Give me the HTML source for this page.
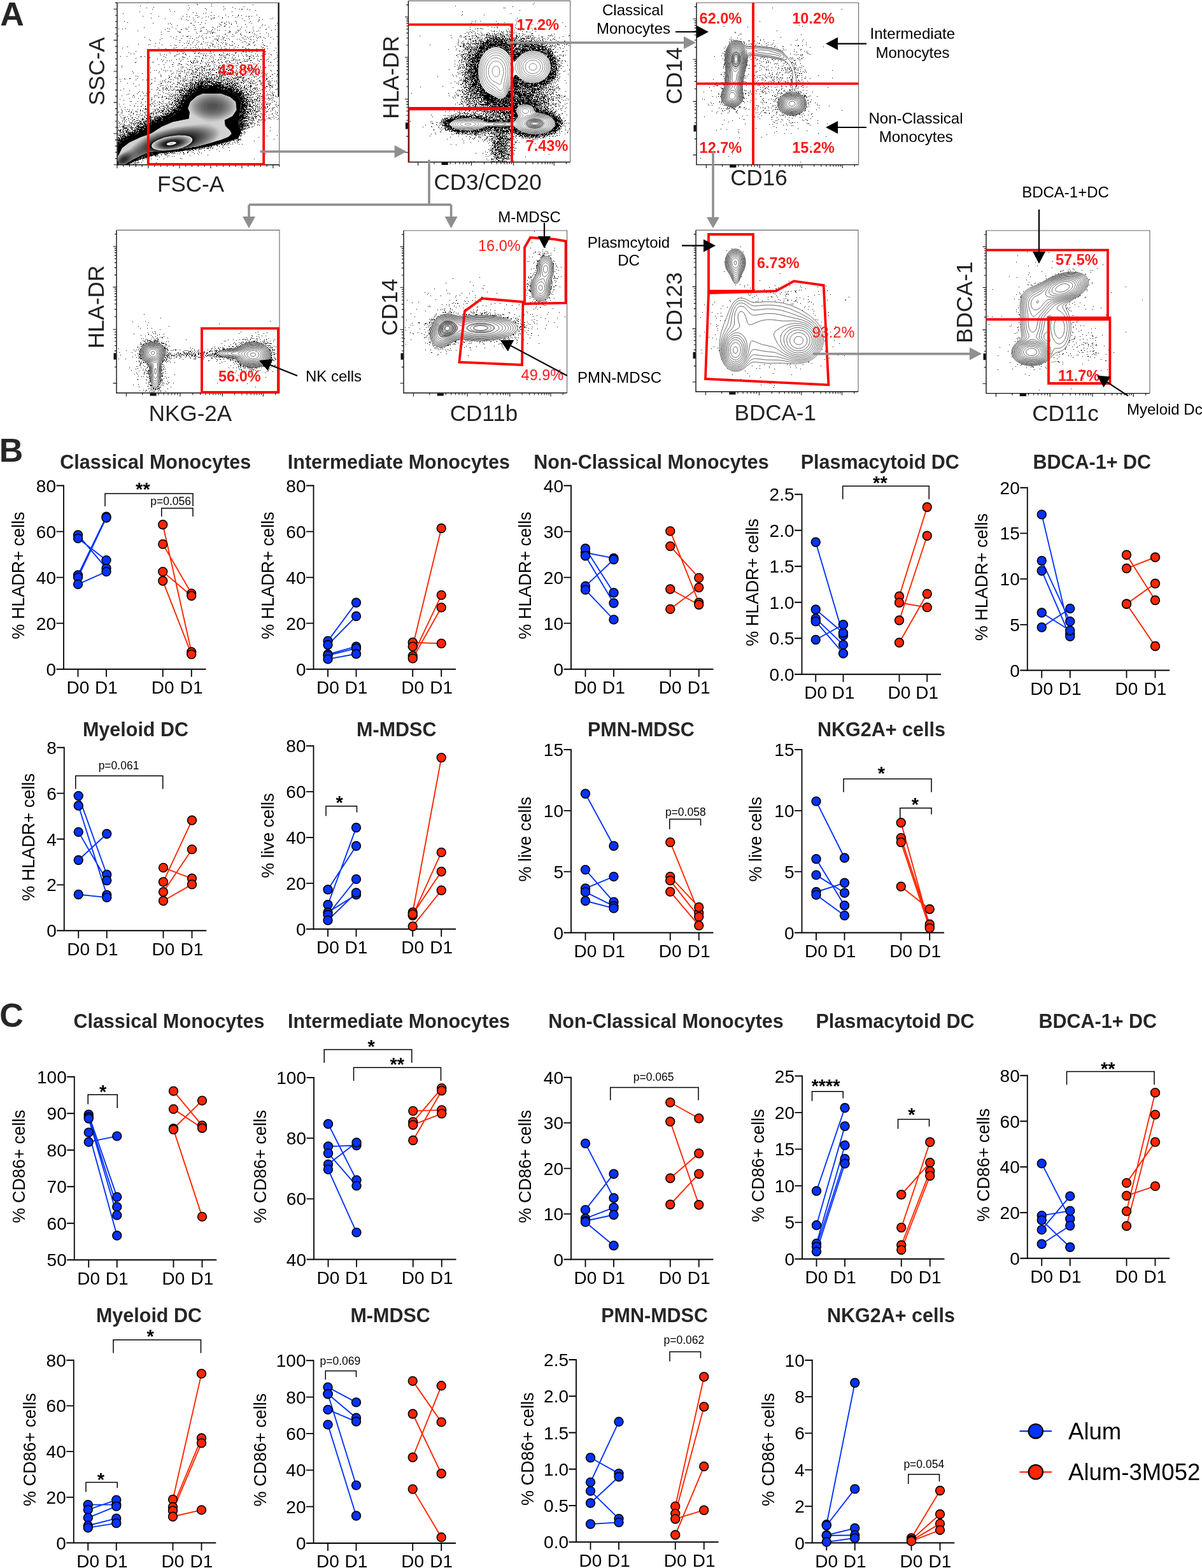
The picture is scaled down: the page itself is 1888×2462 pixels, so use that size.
<!DOCTYPE html><html><head><meta charset="utf-8"><title>Figure</title><style>html,body{margin:0;padding:0;background:#fff}svg{display:block}
.tt{font:bold 30.5px 'Liberation Sans', Arial, Helvetica, sans-serif;fill:#262626;text-anchor:middle}
.tl{font:28px 'Liberation Sans', Arial, Helvetica, sans-serif;fill:#000;text-anchor:end}
.xl{font:28px 'Liberation Sans', Arial, Helvetica, sans-serif;fill:#000;text-anchor:middle}
.yl{font:27px 'Liberation Sans', Arial, Helvetica, sans-serif;fill:#000;text-anchor:middle}
.pv{font:17.5px 'Liberation Sans', Arial, Helvetica, sans-serif;fill:#000;text-anchor:middle}
.st{font:bold 29px 'Liberation Sans', Arial, Helvetica, sans-serif;fill:#000;text-anchor:middle}
.ax{stroke:#000;stroke-width:1.8;fill:none}
.br{stroke:#000;stroke-width:1.5;fill:none}

.fl{font:35px 'Liberation Sans', Arial, Helvetica, sans-serif;fill:#222}
.flv{font:35px 'Liberation Sans', Arial, Helvetica, sans-serif;fill:#222;text-anchor:middle}
.pc{font:bold 23.5px 'Liberation Sans', Arial, Helvetica, sans-serif;fill:#FF1A1A}
.pcn{font:23.5px 'Liberation Sans', Arial, Helvetica, sans-serif;fill:#FF1A1A}
.an{font:24px 'Liberation Sans', Arial, Helvetica, sans-serif;fill:#000}
.anm{font:24px 'Liberation Sans', Arial, Helvetica, sans-serif;fill:#000;text-anchor:middle}
.box{fill:none;stroke:#111;stroke-width:1.4}
.box2{fill:none;stroke:#666;stroke-width:1.1}
.gate{fill:none;stroke:#FF0000;stroke-width:3.8}
.garr{stroke:#8f8f8f;stroke-width:3.6;fill:none}
.barr{stroke:#000;stroke-width:2.2;fill:none}
.tk{stroke:#111;stroke-width:1.1;fill:none}
</style></head><body>
<svg width="1888" height="2462" viewBox="0 0 1888 2462">
<rect width="1888" height="2462" fill="#fff"/>
<text x="0.3" y="40" style="font:bold 52px 'Liberation Sans', Arial, Helvetica, sans-serif;fill:#262626">A</text>
<text x="-1.3" y="725" style="font:bold 52px 'Liberation Sans', Arial, Helvetica, sans-serif;fill:#262626">B</text>
<text x="-0.8" y="1612.3" style="font:bold 52px 'Liberation Sans', Arial, Helvetica, sans-serif;fill:#262626">C</text>
<path d="M309 6.5h1M332 6.5h1M310 7.5h1M397 7.5h1M296 8.5h1M220 9.5h1M332 9.5h1M351 10.5h1M383 10.5h1M241 11.5h1M365 11.5h1M230 12.5h1M297 12.5h1M322 13.5h1M353 13.5h1M369 13.5h1M239 14.5h1M266 14.5h1M376 14.5h1M379 14.5h2M388 14.5h1M295 15.5h1M324 15.5h1M351 15.5h1M392 15.5h1M401 16.5h1M267 17.5h1M219 18.5h1M274 18.5h1M364 18.5h1M303 19.5h1M332 19.5h1M308 20.5h1M323 20.5h1M193 21.5h1M237 21.5h1M319 21.5h1M293 22.5h1M354 23.5h1M374 23.5h1M403 23.5h1M307 24.5h1M309 24.5h1M331 24.5h1M336 24.5h1M365 24.5h1M374 24.5h1M379 24.5h1M224 25.5h1M249 25.5h1M287 25.5h1M343 25.5h1M386 25.5h1M391 25.5h1M395 25.5h1M293 26.5h1M297 26.5h1M312 26.5h1M323 26.5h1M327 26.5h1M358 26.5h1M373 26.5h1M390 26.5h1M310 27.5h1M336 27.5h1M349 27.5h1M370 27.5h1M407 27.5h1M237 28.5h1M284 28.5h1M303 28.5h1M317 28.5h1M334 28.5h1M336 28.5h1M349 28.5h1M428 28.5h1M259 29.5h1M331 29.5h1M380 29.5h1M391 29.5h1M425 29.5h1M285 30.5h1M293 30.5h1M332 30.5h1M412 30.5h1M304 31.5h1M406 31.5h2M295 32.5h1M323 32.5h1M384 32.5h1M195 33.5h1M369 33.5h1M393 33.5h1M405 33.5h1M306 34.5h1M348 34.5h1M355 34.5h1M359 34.5h1M371 34.5h1M200 35.5h1M311 35.5h1M316 35.5h1M348 35.5h1M391 35.5h1M240 36.5h1M267 36.5h1M299 36.5h2M322 36.5h1M352 36.5h2M360 36.5h1M371 36.5h1M395 36.5h1M435 36.5h1M264 37.5h1M344 37.5h1M363 37.5h1M269 38.5h1M314 38.5h1M346 38.5h1M355 38.5h1M363 38.5h1M385 38.5h1M412 38.5h1M303 39.5h1M347 39.5h1M353 39.5h1M416 39.5h1M436 39.5h1M278 40.5h1M305 40.5h1M411 40.5h1M432 40.5h1M344 41.5h1M352 41.5h2M373 41.5h1M270 42.5h1M296 42.5h1M319 42.5h1M333 42.5h1M341 42.5h1M360 42.5h1M379 42.5h1M387 42.5h1M397 42.5h1M422 42.5h1M226 43.5h1M306 43.5h1M317 43.5h1M320 43.5h1M335 43.5h1M408 43.5h1M197 44.5h1M263 44.5h1M291 44.5h1M293 44.5h1M186 45.5h1M192 45.5h1M266 45.5h1M276 45.5h1M315 45.5h1M337 45.5h1M377 45.5h1M397 45.5h1M418 45.5h1M259 46.5h1M284 46.5h2M292 46.5h1M294 46.5h1M305 46.5h1M307 46.5h1M324 46.5h1M333 46.5h1M417 46.5h1M432 46.5h1M341 47.5h1M344 47.5h1M354 47.5h1M373 47.5h2M376 47.5h1M385 47.5h1M426 47.5h1M216 48.5h1M315 48.5h2M326 48.5h1M332 48.5h1M360 48.5h1M398 48.5h1M406 48.5h1M263 49.5h1M265 49.5h1M279 49.5h1M296 49.5h1M314 49.5h1M329 49.5h1M361 49.5h1M374 49.5h1M403 49.5h1M253 50.5h1M281 50.5h3M308 50.5h1M326 50.5h1M331 50.5h1M335 50.5h1M360 50.5h2M370 50.5h1M372 50.5h1M387 50.5h1M391 50.5h2M333 51.5h2M337 51.5h1M358 51.5h1M391 51.5h1M396 51.5h1M418 51.5h1M309 52.5h1M320 52.5h1M323 52.5h1M325 52.5h1M330 52.5h1M333 52.5h1M370 52.5h1M399 52.5h1M408 52.5h1M354 53.5h1M377 53.5h2M421 53.5h1M253 54.5h1M353 54.5h1M365 54.5h1M400 54.5h1M317 55.5h1M379 55.5h1M403 55.5h1M185 56.5h1M287 56.5h1M295 56.5h1M313 56.5h1M340 56.5h1M342 56.5h1M344 56.5h1M356 56.5h1M367 56.5h1M384 56.5h1M421 56.5h1M268 57.5h1M277 57.5h1M293 57.5h2M299 57.5h1M316 57.5h1M334 57.5h1M349 57.5h1M364 57.5h1M385 57.5h1M394 57.5h1M398 57.5h1M408 57.5h1M435 57.5h1M227 58.5h1M311 58.5h1M323 58.5h1M329 58.5h1M352 58.5h1M388 58.5h1M392 58.5h1M402 58.5h1M405 58.5h1M409 58.5h1M414 58.5h1M425 58.5h1M272 59.5h1M308 59.5h1M318 59.5h1M343 59.5h1M350 59.5h1M380 59.5h1M382 59.5h1M254 60.5h1M285 60.5h1M298 60.5h1M302 60.5h1M324 60.5h1M339 60.5h1M350 60.5h1M356 60.5h1M359 60.5h1M390 60.5h1M404 60.5h1M416 60.5h1M276 61.5h1M319 61.5h1M337 61.5h1M342 61.5h1M372 61.5h1M376 61.5h1M383 61.5h1M386 61.5h1M393 61.5h1M429 61.5h1M234 62.5h1M251 62.5h1M305 62.5h1M339 62.5h1M341 62.5h1M347 62.5h1M350 62.5h1M360 62.5h1M394 62.5h1M398 62.5h1M236 63.5h1M281 63.5h1M283 63.5h1M309 63.5h1M341 63.5h2M353 63.5h2M378 63.5h1M403 63.5h1M412 63.5h1M294 64.5h1M297 64.5h1M334 64.5h1M303 65.5h1M312 65.5h1M319 65.5h1M343 65.5h1M364 65.5h2M383 65.5h1M385 65.5h1M392 65.5h1M399 65.5h1M282 66.5h1M310 66.5h1M326 66.5h1M347 66.5h1M350 66.5h1M380 66.5h1M398 66.5h1M412 66.5h1M436 66.5h1M250 67.5h1M293 67.5h1M296 67.5h1M302 67.5h1M323 67.5h1M331 67.5h1M340 67.5h1M354 67.5h1M387 67.5h1M397 67.5h1M424 67.5h1M244 68.5h1M289 68.5h1M296 68.5h1M316 68.5h1M333 68.5h1M349 68.5h1M356 68.5h1M368 68.5h1M390 68.5h1M217 69.5h1M235 69.5h1M308 69.5h1M315 69.5h1M317 69.5h1M335 69.5h1M343 69.5h1M354 69.5h1M391 69.5h2M413 69.5h1M436 69.5h1M233 70.5h1M254 70.5h1M274 70.5h1M299 70.5h1M325 70.5h1M333 70.5h2M355 70.5h1M360 70.5h1M365 70.5h1M390 70.5h1M400 70.5h1M268 71.5h1M276 71.5h1M286 71.5h1M294 71.5h1M306 71.5h1M329 71.5h1M346 71.5h1M362 71.5h1M364 71.5h1M374 71.5h1M388 71.5h1M399 71.5h1M414 71.5h2M243 72.5h1M330 72.5h1M334 72.5h1M337 72.5h1M342 72.5h1M419 72.5h1M200 73.5h1M311 73.5h1M352 73.5h1M369 73.5h1M381 73.5h1M410 73.5h1M277 74.5h1M292 74.5h1M303 74.5h1M307 74.5h1M327 74.5h1M337 74.5h1M347 74.5h1M373 74.5h1M381 74.5h1M413 74.5h1M192 75.5h1M249 75.5h1M272 75.5h1M274 75.5h1M289 75.5h1M299 75.5h1M318 75.5h1M328 75.5h1M343 75.5h1M360 75.5h1M367 75.5h1M385 75.5h1M412 75.5h1M433 75.5h1M437 75.5h1M260 76.5h1M309 76.5h1M313 76.5h1M322 76.5h1M347 76.5h1M353 76.5h1M355 76.5h1M386 76.5h1M390 76.5h1M403 76.5h1M415 76.5h1M420 76.5h1M266 77.5h1M291 77.5h1M299 77.5h1M305 77.5h1M311 77.5h1M317 77.5h1M334 77.5h1M345 77.5h1M355 77.5h1M359 77.5h1M361 77.5h1M376 77.5h1M387 77.5h1M397 77.5h1M406 77.5h1M299 78.5h1M321 78.5h1M327 78.5h1M336 78.5h1M364 78.5h1M371 78.5h1M375 78.5h1M381 78.5h1M398 78.5h1M236 79.5h1M277 79.5h1M294 79.5h1M300 79.5h1M317 79.5h1M330 79.5h1M336 79.5h1M346 79.5h2M369 79.5h2M407 79.5h1M430 79.5h1M213 80.5h1M331 80.5h1M336 80.5h1M361 80.5h1M365 80.5h1M373 80.5h1M376 80.5h1M386 80.5h1M390 80.5h1M404 80.5h1M413 80.5h1M278 81.5h1M284 81.5h1M287 81.5h1M303 81.5h1M306 81.5h1M330 81.5h1M381 81.5h2M386 81.5h1M391 81.5h1M396 81.5h1M403 81.5h1M413 81.5h1M416 81.5h2M202 82.5h1M266 82.5h1M289 82.5h1M313 82.5h1M335 82.5h1M350 82.5h1M369 82.5h1M371 82.5h1M386 82.5h1M394 82.5h1M434 82.5h1M267 83.5h1M287 83.5h1M305 83.5h2M311 83.5h2M329 83.5h1M331 83.5h1M351 83.5h1M369 83.5h2M379 83.5h1M205 84.5h1M210 84.5h1M251 84.5h1M281 84.5h1M287 84.5h1M291 84.5h1M315 84.5h1M317 84.5h1M320 84.5h1M324 84.5h1M357 84.5h1M360 84.5h1M401 84.5h1M412 84.5h1M417 84.5h1M422 84.5h1M258 85.5h1M277 85.5h1M279 85.5h1M291 85.5h1M336 85.5h1M344 85.5h2M355 85.5h1M357 85.5h1M364 85.5h1M387 85.5h1M404 85.5h1M416 85.5h1M425 85.5h1M252 86.5h1M261 86.5h1M292 86.5h1M319 86.5h1M322 86.5h1M344 86.5h1M347 86.5h2M350 86.5h1M356 86.5h1M359 86.5h1M367 86.5h1M374 86.5h1M380 86.5h1M386 86.5h1M394 86.5h1M426 86.5h1M435 86.5h1M274 87.5h1M276 87.5h1M319 87.5h1M323 87.5h1M326 87.5h1M332 87.5h1M337 87.5h1M346 87.5h1M353 87.5h1M360 87.5h1M367 87.5h1M388 87.5h1M397 87.5h1M404 87.5h1M411 87.5h2M189 88.5h1M199 88.5h1M221 88.5h1M227 88.5h1M257 88.5h1M274 88.5h1M286 88.5h1M297 88.5h1M307 88.5h1M309 88.5h1M312 88.5h1M323 88.5h1M330 88.5h1M351 88.5h1M374 88.5h1M382 88.5h1M387 88.5h1M391 88.5h1M393 88.5h1M398 88.5h1M402 88.5h1M405 88.5h1M412 88.5h1M221 89.5h1M288 89.5h1M313 89.5h1M334 89.5h1M348 89.5h1M353 89.5h1M365 89.5h1M391 89.5h2M422 89.5h1M435 89.5h1M234 90.5h2M260 90.5h1M286 90.5h1M288 90.5h1M290 90.5h1M318 90.5h1M331 90.5h1M345 90.5h1M352 90.5h1M354 90.5h1M369 90.5h1M395 90.5h1M213 91.5h1M306 91.5h1M318 91.5h1M323 91.5h1M335 91.5h1M354 91.5h1M358 91.5h1M364 91.5h1M382 91.5h1M391 91.5h1M399 91.5h1M433 91.5h1M247 92.5h1M281 92.5h1M294 92.5h1M306 92.5h1M318 92.5h1M329 92.5h1M347 92.5h1M366 92.5h1M368 92.5h1M391 92.5h2M398 92.5h1M404 92.5h1M421 92.5h1M253 93.5h1M277 93.5h1M287 93.5h1M338 93.5h1M343 93.5h1M346 93.5h1M352 93.5h1M367 93.5h1M370 93.5h1M376 93.5h1M384 93.5h1M389 93.5h1M409 93.5h2M419 93.5h1M430 93.5h1M256 94.5h1M269 94.5h1M284 94.5h1M304 94.5h1M309 94.5h1M316 94.5h1M327 94.5h1M335 94.5h1M343 94.5h1M358 94.5h1M363 94.5h1M366 94.5h1M372 94.5h1M374 94.5h1M376 94.5h1M387 94.5h1M389 94.5h1M394 94.5h1M404 94.5h1M262 95.5h1M266 95.5h1M299 95.5h1M305 95.5h1M316 95.5h1M341 95.5h1M356 95.5h1M365 95.5h1M370 95.5h1M383 95.5h1M393 95.5h2M406 95.5h1M418 95.5h1M255 96.5h1M283 96.5h1M295 96.5h1M299 96.5h1M303 96.5h1M309 96.5h1M311 96.5h1M316 96.5h1M332 96.5h2M335 96.5h1M347 96.5h1M354 96.5h1M356 96.5h1M360 96.5h1M381 96.5h1M384 96.5h2M387 96.5h2M407 96.5h1M421 96.5h1M435 96.5h1M213 97.5h1M239 97.5h1M241 97.5h1M300 97.5h1M303 97.5h1M309 97.5h1M318 97.5h1M325 97.5h1M327 97.5h1M336 97.5h1M354 97.5h1M360 97.5h1M370 97.5h1M373 97.5h1M376 97.5h1M378 97.5h1M415 97.5h1M425 97.5h1M212 98.5h1M231 98.5h1M260 98.5h1M272 98.5h1M300 98.5h2M304 98.5h1M307 98.5h1M310 98.5h1M322 98.5h1M329 98.5h1M333 98.5h1M337 98.5h1M343 98.5h1M348 98.5h2M355 98.5h1M361 98.5h1M377 98.5h2M393 98.5h1M396 98.5h1M425 98.5h1M281 99.5h1M302 99.5h1M304 99.5h1M314 99.5h2M344 99.5h1M364 99.5h1M367 99.5h1M372 99.5h2M406 99.5h1M280 100.5h1M282 100.5h1M292 100.5h1M323 100.5h2M327 100.5h1M335 100.5h1M356 100.5h1M358 100.5h1M374 100.5h1M379 100.5h1M398 100.5h1M400 100.5h1M412 100.5h1M249 101.5h1M257 101.5h1M270 101.5h2M284 101.5h2M294 101.5h1M299 101.5h1M327 101.5h1M337 101.5h1M360 101.5h2M389 101.5h1M279 102.5h1M296 102.5h1M309 102.5h1M312 102.5h1M345 102.5h1M359 102.5h1M371 102.5h1M373 102.5h1M378 102.5h1M380 102.5h1M393 102.5h1M415 102.5h1M422 102.5h1M425 102.5h1M435 102.5h1M191 103.5h1M301 103.5h1M306 103.5h1M322 103.5h1M325 103.5h2M328 103.5h1M330 103.5h1M336 103.5h1M340 103.5h1M345 103.5h1M348 103.5h1M355 103.5h1M357 103.5h1M359 103.5h1M365 103.5h1M367 103.5h1M370 103.5h1M429 103.5h1M271 104.5h1M286 104.5h1M305 104.5h1M316 104.5h2M321 104.5h1M328 104.5h1M343 104.5h1M348 104.5h1M357 104.5h1M364 104.5h1M385 104.5h1M409 104.5h1M191 105.5h1M258 105.5h1M266 105.5h1M284 105.5h1M288 105.5h1M299 105.5h1M313 105.5h1M315 105.5h1M317 105.5h1M320 105.5h1M323 105.5h1M336 105.5h1M343 105.5h2M359 105.5h1M361 105.5h1M371 105.5h1M383 105.5h1M386 105.5h1M394 105.5h1M405 105.5h1M417 105.5h1M236 106.5h1M286 106.5h1M292 106.5h1M302 106.5h1M310 106.5h1M317 106.5h1M343 106.5h1M345 106.5h2M349 106.5h1M351 106.5h1M360 106.5h1M366 106.5h1M377 106.5h3M382 106.5h1M385 106.5h2M392 106.5h1M400 106.5h1M409 106.5h1M416 106.5h1M437 106.5h1M307 107.5h1M311 107.5h1M313 107.5h1M319 107.5h3M335 107.5h1M338 107.5h1M343 107.5h1M345 107.5h2M348 107.5h1M358 107.5h1M364 107.5h1M366 107.5h1M372 107.5h1M378 107.5h1M383 107.5h1M388 107.5h1M392 107.5h1M397 107.5h1M405 107.5h1M253 108.5h1M280 108.5h1M284 108.5h1M294 108.5h1M300 108.5h1M306 108.5h1M308 108.5h1M311 108.5h1M316 108.5h1M321 108.5h1M328 108.5h3M333 108.5h2M342 108.5h1M350 108.5h2M355 108.5h3M380 108.5h1M382 108.5h1M388 108.5h1M392 108.5h1M397 108.5h1M402 108.5h1M296 109.5h3M307 109.5h1M309 109.5h1M317 109.5h1M324 109.5h1M326 109.5h1M329 109.5h1M334 109.5h1M340 109.5h1M349 109.5h3M355 109.5h1M360 109.5h1M363 109.5h1M371 109.5h1M376 109.5h1M378 109.5h1M398 109.5h1M400 109.5h1M414 109.5h1M242 110.5h1M245 110.5h1M257 110.5h1M260 110.5h1M263 110.5h1M268 110.5h1M289 110.5h2M301 110.5h2M309 110.5h2M313 110.5h1M317 110.5h1M321 110.5h1M324 110.5h1M328 110.5h1M332 110.5h1M334 110.5h1M336 110.5h2M358 110.5h2M365 110.5h1M389 110.5h2M410 110.5h1M413 110.5h1M424 110.5h1M435 110.5h1M277 111.5h1M279 111.5h1M283 111.5h1M285 111.5h1M303 111.5h1M316 111.5h1M318 111.5h1M321 111.5h1M346 111.5h1M350 111.5h1M354 111.5h1M358 111.5h1M362 111.5h1M370 111.5h2M384 111.5h1M391 111.5h1M393 111.5h1M398 111.5h1M415 111.5h1M426 111.5h1M435 111.5h1M208 112.5h1M250 112.5h1M260 112.5h1M268 112.5h1M281 112.5h1M286 112.5h1M289 112.5h1M296 112.5h1M302 112.5h1M307 112.5h2M330 112.5h1M349 112.5h1M353 112.5h1M355 112.5h1M373 112.5h1M382 112.5h1M387 112.5h1M389 112.5h1M392 112.5h1M399 112.5h1M236 113.5h1M294 113.5h1M303 113.5h1M306 113.5h1M313 113.5h1M317 113.5h2M325 113.5h1M327 113.5h1M331 113.5h1M339 113.5h2M346 113.5h3M354 113.5h1M362 113.5h1M367 113.5h1M369 113.5h1M375 113.5h1M392 113.5h1M398 113.5h1M405 113.5h1M411 113.5h1M413 113.5h1M209 114.5h1M249 114.5h1M272 114.5h1M277 114.5h1M283 114.5h1M289 114.5h1M292 114.5h1M296 114.5h1M301 114.5h1M304 114.5h1M307 114.5h1M309 114.5h1M313 114.5h1M315 114.5h1M323 114.5h1M326 114.5h3M339 114.5h2M343 114.5h3M348 114.5h2M353 114.5h1M360 114.5h3M369 114.5h1M373 114.5h1M389 114.5h1M394 114.5h1M406 114.5h1M223 115.5h1M270 115.5h1M282 115.5h1M300 115.5h2M313 115.5h1M315 115.5h1M319 115.5h1M323 115.5h1M330 115.5h1M343 115.5h1M345 115.5h1M348 115.5h1M351 115.5h1M353 115.5h1M355 115.5h1M361 115.5h1M371 115.5h1M377 115.5h1M406 115.5h1M410 115.5h1M416 115.5h1M419 115.5h1M431 115.5h1M269 116.5h1M280 116.5h1M293 116.5h1M299 116.5h1M302 116.5h1M304 116.5h1M306 116.5h1M313 116.5h1M316 116.5h1M318 116.5h1M327 116.5h2M331 116.5h1M334 116.5h1M345 116.5h2M349 116.5h1M356 116.5h1M362 116.5h1M371 116.5h1M373 116.5h1M401 116.5h1M427 116.5h1M435 116.5h1M252 117.5h1M292 117.5h1M301 117.5h1M306 117.5h1M310 117.5h1M313 117.5h1M318 117.5h1M321 117.5h1M329 117.5h1M333 117.5h4M338 117.5h1M340 117.5h1M344 117.5h1M348 117.5h1M353 117.5h2M356 117.5h2M362 117.5h2M366 117.5h1M389 117.5h1M396 117.5h2M415 117.5h1M417 117.5h2M428 117.5h1M435 117.5h1M265 118.5h1M281 118.5h1M283 118.5h1M294 118.5h1M297 118.5h1M309 118.5h3M317 118.5h1M320 118.5h1M323 118.5h1M327 118.5h1M331 118.5h1M333 118.5h1M340 118.5h1M344 118.5h1M346 118.5h1M348 118.5h2M351 118.5h1M353 118.5h1M368 118.5h1M371 118.5h1M377 118.5h1M380 118.5h3M386 118.5h1M392 118.5h1M405 118.5h1M415 118.5h1M213 119.5h1M252 119.5h2M275 119.5h1M280 119.5h3M291 119.5h1M303 119.5h1M312 119.5h2M320 119.5h1M324 119.5h1M327 119.5h1M340 119.5h1M345 119.5h1M347 119.5h2M372 119.5h1M398 119.5h1M401 119.5h1M411 119.5h1M418 119.5h1M424 119.5h1M434 119.5h1M436 119.5h1M216 120.5h1M233 120.5h1M266 120.5h1M269 120.5h1M283 120.5h1M290 120.5h1M302 120.5h1M304 120.5h2M307 120.5h2M315 120.5h1M321 120.5h1M323 120.5h1M325 120.5h1M332 120.5h1M337 120.5h1M340 120.5h3M344 120.5h2M347 120.5h1M350 120.5h1M353 120.5h1M359 120.5h1M363 120.5h1M369 120.5h1M373 120.5h1M375 120.5h1M377 120.5h3M384 120.5h1M399 120.5h1M402 120.5h1M409 120.5h1M414 120.5h1M424 120.5h1M437 120.5h1M243 121.5h1M265 121.5h2M274 121.5h1M291 121.5h1M297 121.5h1M299 121.5h1M304 121.5h1M307 121.5h3M313 121.5h1M316 121.5h2M321 121.5h1M324 121.5h1M329 121.5h1M331 121.5h2M336 121.5h1M339 121.5h1M343 121.5h1M347 121.5h1M350 121.5h1M356 121.5h1M365 121.5h1M372 121.5h1M374 121.5h4M382 121.5h1M395 121.5h1M399 121.5h1M407 121.5h1M412 121.5h1M414 121.5h1M421 121.5h1M275 122.5h1M277 122.5h1M279 122.5h1M283 122.5h1M287 122.5h1M294 122.5h1M303 122.5h1M308 122.5h2M312 122.5h1M319 122.5h2M323 122.5h1M326 122.5h1M328 122.5h1M332 122.5h1M336 122.5h2M343 122.5h1M345 122.5h1M347 122.5h1M351 122.5h1M353 122.5h1M356 122.5h1M362 122.5h1M365 122.5h1M368 122.5h5M378 122.5h1M380 122.5h4M391 122.5h1M414 122.5h1M195 123.5h1M203 123.5h2M215 123.5h1M243 123.5h1M264 123.5h1M279 123.5h1M290 123.5h1M302 123.5h1M315 123.5h3M322 123.5h5M328 123.5h1M330 123.5h2M333 123.5h1M337 123.5h1M339 123.5h1M342 123.5h2M345 123.5h1M347 123.5h1M356 123.5h4M366 123.5h2M369 123.5h1M374 123.5h1M381 123.5h1M389 123.5h2M405 123.5h1M414 123.5h1M418 123.5h2M427 123.5h1M188 124.5h1M196 124.5h1M238 124.5h1M260 124.5h1M267 124.5h1M269 124.5h1M287 124.5h1M290 124.5h1M302 124.5h1M305 124.5h1M307 124.5h1M311 124.5h1M313 124.5h1M315 124.5h1M317 124.5h1M323 124.5h1M325 124.5h2M329 124.5h2M332 124.5h5M341 124.5h1M343 124.5h1M352 124.5h1M355 124.5h1M357 124.5h1M360 124.5h1M363 124.5h1M367 124.5h1M372 124.5h3M387 124.5h1M391 124.5h1M395 124.5h1M403 124.5h1M414 124.5h1M418 124.5h2M213 125.5h1M224 125.5h1M230 125.5h1M272 125.5h1M279 125.5h1M288 125.5h1M293 125.5h1M295 125.5h1M299 125.5h2M302 125.5h2M311 125.5h1M314 125.5h1M317 125.5h2M324 125.5h2M327 125.5h2M339 125.5h3M344 125.5h1M346 125.5h3M350 125.5h4M355 125.5h1M359 125.5h1M361 125.5h1M363 125.5h2M370 125.5h1M372 125.5h2M380 125.5h3M384 125.5h1M386 125.5h1M413 125.5h1M255 126.5h1M258 126.5h1M283 126.5h1M286 126.5h1M288 126.5h1M291 126.5h2M298 126.5h1M302 126.5h1M306 126.5h1M308 126.5h2M311 126.5h2M314 126.5h2M317 126.5h1M320 126.5h3M324 126.5h2M329 126.5h1M332 126.5h4M342 126.5h2M347 126.5h1M350 126.5h1M355 126.5h1M357 126.5h1M361 126.5h1M366 126.5h1M368 126.5h1M376 126.5h1M380 126.5h1M386 126.5h1M394 126.5h1M398 126.5h1M407 126.5h2M417 126.5h1M423 126.5h1M427 126.5h1M434 126.5h1M189 127.5h1M243 127.5h1M259 127.5h1M264 127.5h1M283 127.5h1M289 127.5h1M301 127.5h1M305 127.5h1M313 127.5h2M316 127.5h1M318 127.5h2M321 127.5h2M326 127.5h4M331 127.5h2M335 127.5h3M340 127.5h1M347 127.5h1M349 127.5h2M352 127.5h1M357 127.5h1M359 127.5h3M364 127.5h1M368 127.5h2M374 127.5h1M382 127.5h2M385 127.5h1M390 127.5h1M393 127.5h1M397 127.5h1M399 127.5h1M405 127.5h1M408 127.5h1M420 127.5h2M431 127.5h1M251 128.5h1M255 128.5h1M265 128.5h1M268 128.5h1M279 128.5h1M287 128.5h1M289 128.5h1M295 128.5h1M297 128.5h1M299 128.5h1M306 128.5h2M311 128.5h3M315 128.5h6M322 128.5h10M335 128.5h1M337 128.5h5M343 128.5h1M346 128.5h1M348 128.5h1M354 128.5h1M357 128.5h2M364 128.5h2M367 128.5h1M378 128.5h1M382 128.5h1M388 128.5h1M394 128.5h1M408 128.5h1M423 128.5h1M425 128.5h1M434 128.5h1M259 129.5h1M263 129.5h1M267 129.5h1M279 129.5h1M281 129.5h1M299 129.5h2M302 129.5h1M306 129.5h4M311 129.5h1M313 129.5h1M315 129.5h4M320 129.5h1M322 129.5h1M324 129.5h1M326 129.5h4M331 129.5h4M338 129.5h1M340 129.5h9M350 129.5h1M354 129.5h1M361 129.5h3M365 129.5h1M369 129.5h1M371 129.5h1M373 129.5h1M375 129.5h1M378 129.5h3M384 129.5h1M391 129.5h1M396 129.5h1M402 129.5h1M421 129.5h1M200 130.5h1M238 130.5h1M253 130.5h1M272 130.5h1M279 130.5h1M281 130.5h1M297 130.5h3M301 130.5h1M304 130.5h1M307 130.5h2M310 130.5h3M314 130.5h7M322 130.5h4M328 130.5h3M332 130.5h2M335 130.5h1M338 130.5h3M342 130.5h5M351 130.5h1M354 130.5h1M356 130.5h5M363 130.5h2M368 130.5h1M370 130.5h1M372 130.5h1M379 130.5h1M382 130.5h1M390 130.5h1M392 130.5h2M397 130.5h1M401 130.5h1M409 130.5h3M423 130.5h2M435 130.5h1M209 131.5h1M237 131.5h1M252 131.5h2M273 131.5h1M281 131.5h1M285 131.5h1M288 131.5h1M291 131.5h5M300 131.5h4M306 131.5h3M310 131.5h3M314 131.5h5M321 131.5h3M325 131.5h2M331 131.5h9M341 131.5h1M343 131.5h2M346 131.5h2M350 131.5h1M352 131.5h3M356 131.5h2M360 131.5h2M363 131.5h2M367 131.5h3M371 131.5h4M382 131.5h1M393 131.5h1M395 131.5h1M397 131.5h1M399 131.5h1M421 131.5h1M236 132.5h1M249 132.5h1M270 132.5h1M278 132.5h1M283 132.5h1M286 132.5h1M292 132.5h1M298 132.5h2M302 132.5h1M304 132.5h2M307 132.5h1M309 132.5h5M315 132.5h4M320 132.5h2M325 132.5h2M328 132.5h1M333 132.5h5M339 132.5h4M344 132.5h3M348 132.5h1M350 132.5h1M355 132.5h3M359 132.5h1M365 132.5h3M369 132.5h1M373 132.5h1M376 132.5h1M404 132.5h1M409 132.5h2M414 132.5h1M421 132.5h1M423 132.5h1M218 133.5h1M262 133.5h1M278 133.5h1M286 133.5h1M288 133.5h1M294 133.5h1M299 133.5h4M304 133.5h3M309 133.5h4M314 133.5h4M319 133.5h6M326 133.5h2M329 133.5h1M331 133.5h2M335 133.5h17M353 133.5h6M360 133.5h2M363 133.5h1M365 133.5h2M369 133.5h2M378 133.5h1M386 133.5h2M393 133.5h1M401 133.5h1M403 133.5h1M413 133.5h2M423 133.5h1M425 133.5h1M428 133.5h1M432 133.5h1M252 134.5h1M254 134.5h1M256 134.5h1M267 134.5h1M286 134.5h2M291 134.5h3M296 134.5h3M300 134.5h1M302 134.5h1M305 134.5h2M308 134.5h2M311 134.5h9M321 134.5h12M334 134.5h14M349 134.5h2M352 134.5h1M359 134.5h2M362 134.5h1M364 134.5h2M367 134.5h5M375 134.5h1M377 134.5h1M384 134.5h1M390 134.5h1M393 134.5h3M411 134.5h1M422 134.5h1M424 134.5h2M213 135.5h1M251 135.5h1M260 135.5h1M276 135.5h1M289 135.5h2M293 135.5h2M299 135.5h1M301 135.5h1M303 135.5h1M305 135.5h2M308 135.5h1M310 135.5h11M322 135.5h25M348 135.5h4M354 135.5h1M356 135.5h3M360 135.5h3M364 135.5h1M366 135.5h1M368 135.5h1M372 135.5h3M377 135.5h1M380 135.5h1M384 135.5h1M393 135.5h2M415 135.5h1M418 135.5h2M426 135.5h1M428 135.5h1M264 136.5h1M267 136.5h2M270 136.5h1M275 136.5h1M277 136.5h2M281 136.5h1M288 136.5h1M292 136.5h2M296 136.5h1M298 136.5h3M302 136.5h2M305 136.5h2M308 136.5h18M328 136.5h30M359 136.5h1M361 136.5h5M367 136.5h1M369 136.5h1M371 136.5h1M374 136.5h2M383 136.5h2M388 136.5h1M391 136.5h1M393 136.5h2M415 136.5h1M419 136.5h1M423 136.5h1M427 136.5h1M437 136.5h1M247 137.5h1M255 137.5h1M257 137.5h1M261 137.5h1M282 137.5h1M284 137.5h2M290 137.5h1M296 137.5h1M299 137.5h1M301 137.5h2M304 137.5h3M308 137.5h10M319 137.5h23M343 137.5h15M359 137.5h1M361 137.5h1M363 137.5h4M368 137.5h1M370 137.5h2M376 137.5h1M378 137.5h2M383 137.5h2M390 137.5h1M393 137.5h1M400 137.5h1M402 137.5h1M416 137.5h1M424 137.5h1M427 137.5h1M232 138.5h1M248 138.5h1M261 138.5h1M273 138.5h1M286 138.5h1M289 138.5h2M295 138.5h1M297 138.5h3M301 138.5h2M304 138.5h5M310 138.5h11M322 138.5h1M344 138.5h13M358 138.5h6M365 138.5h3M369 138.5h2M375 138.5h1M378 138.5h1M380 138.5h1M382 138.5h1M386 138.5h2M398 138.5h2M402 138.5h1M404 138.5h1M407 138.5h1M417 138.5h1M194 139.5h1M255 139.5h2M260 139.5h1M262 139.5h2M267 139.5h1M283 139.5h1M286 139.5h1M288 139.5h2M291 139.5h2M294 139.5h1M297 139.5h2M300 139.5h3M304 139.5h10M349 139.5h2M353 139.5h12M366 139.5h2M369 139.5h1M371 139.5h3M377 139.5h2M384 139.5h2M387 139.5h1M393 139.5h1M397 139.5h1M400 139.5h2M424 139.5h1M435 139.5h1M437 139.5h1M238 140.5h1M247 140.5h1M259 140.5h1M272 140.5h1M274 140.5h1M278 140.5h1M280 140.5h1M283 140.5h1M285 140.5h2M289 140.5h2M293 140.5h1M296 140.5h6M303 140.5h2M306 140.5h6M352 140.5h4M357 140.5h13M371 140.5h4M376 140.5h1M378 140.5h1M383 140.5h1M386 140.5h1M388 140.5h2M392 140.5h1M396 140.5h1M400 140.5h1M404 140.5h1M411 140.5h1M432 140.5h1M434 140.5h1M189 141.5h1M245 141.5h1M250 141.5h1M256 141.5h1M261 141.5h1M265 141.5h1M269 141.5h1M271 141.5h1M276 141.5h1M278 141.5h1M280 141.5h1M282 141.5h1M284 141.5h3M290 141.5h3M294 141.5h1M296 141.5h14M355 141.5h10M366 141.5h3M370 141.5h2M373 141.5h3M380 141.5h1M382 141.5h1M385 141.5h1M403 141.5h1M409 141.5h1M412 141.5h1M414 141.5h1M423 141.5h1M203 142.5h1M251 142.5h1M264 142.5h1M271 142.5h1M277 142.5h1M279 142.5h1M281 142.5h3M285 142.5h4M291 142.5h8M300 142.5h7M359 142.5h9M371 142.5h4M377 142.5h5M383 142.5h1M388 142.5h1M392 142.5h3M398 142.5h1M406 142.5h1M219 143.5h1M255 143.5h1M275 143.5h1M281 143.5h2M285 143.5h1M288 143.5h1M290 143.5h1M293 143.5h13M361 143.5h8M370 143.5h5M376 143.5h4M386 143.5h1M391 143.5h1M395 143.5h1M402 143.5h1M404 143.5h1M413 143.5h1M418 143.5h1M223 144.5h1M235 144.5h1M281 144.5h1M283 144.5h2M288 144.5h3M293 144.5h1M296 144.5h6M362 144.5h4M367 144.5h7M375 144.5h3M379 144.5h2M384 144.5h1M386 144.5h2M391 144.5h1M394 144.5h1M396 144.5h1M400 144.5h1M424 144.5h1M427 144.5h1M217 145.5h1M234 145.5h1M248 145.5h1M256 145.5h1M265 145.5h1M275 145.5h1M278 145.5h1M281 145.5h4M290 145.5h1M293 145.5h4M298 145.5h4M364 145.5h8M373 145.5h1M375 145.5h5M381 145.5h2M384 145.5h1M387 145.5h1M393 145.5h2M398 145.5h2M430 145.5h1M437 145.5h1M225 146.5h1M230 146.5h1M260 146.5h1M271 146.5h1M285 146.5h4M291 146.5h10M366 146.5h17M388 146.5h2M399 146.5h1M402 146.5h1M405 146.5h1M408 146.5h1M415 146.5h1M427 146.5h1M202 147.5h1M215 147.5h1M248 147.5h1M263 147.5h1M268 147.5h1M276 147.5h1M279 147.5h1M282 147.5h1M284 147.5h1M288 147.5h1M291 147.5h2M295 147.5h5M368 147.5h12M381 147.5h2M389 147.5h2M395 147.5h1M398 147.5h1M404 147.5h1M409 147.5h1M420 147.5h1M428 147.5h1M199 148.5h1M251 148.5h1M265 148.5h1M269 148.5h1M273 148.5h1M275 148.5h1M277 148.5h1M279 148.5h1M283 148.5h2M286 148.5h2M289 148.5h1M291 148.5h6M298 148.5h1M369 148.5h12M382 148.5h2M385 148.5h4M390 148.5h1M392 148.5h1M394 148.5h1M396 148.5h1M398 148.5h1M401 148.5h1M415 148.5h1M422 148.5h1M424 148.5h1M429 148.5h1M209 149.5h1M244 149.5h1M272 149.5h1M275 149.5h1M279 149.5h1M282 149.5h5M288 149.5h10M371 149.5h8M380 149.5h1M382 149.5h1M384 149.5h2M387 149.5h1M389 149.5h2M394 149.5h1M404 149.5h1M412 149.5h1M418 149.5h1M420 149.5h1M427 149.5h1M429 149.5h1M191 150.5h1M210 150.5h1M220 150.5h1M227 150.5h1M229 150.5h1M242 150.5h1M246 150.5h1M255 150.5h1M266 150.5h2M270 150.5h1M273 150.5h1M275 150.5h1M279 150.5h1M282 150.5h1M285 150.5h12M373 150.5h6M380 150.5h4M386 150.5h1M392 150.5h2M406 150.5h3M415 150.5h1M425 150.5h1M429 150.5h1M432 150.5h1M254 151.5h1M258 151.5h1M260 151.5h1M268 151.5h1M270 151.5h1M273 151.5h1M280 151.5h1M284 151.5h1M287 151.5h9M374 151.5h3M378 151.5h6M385 151.5h1M388 151.5h1M402 151.5h1M410 151.5h2M433 151.5h1M208 152.5h1M211 152.5h1M242 152.5h1M249 152.5h1M255 152.5h1M265 152.5h1M270 152.5h1M276 152.5h1M278 152.5h1M280 152.5h2M283 152.5h7M291 152.5h4M375 152.5h5M381 152.5h1M383 152.5h1M387 152.5h2M390 152.5h2M396 152.5h2M406 152.5h1M408 152.5h1M412 152.5h1M415 152.5h1M421 152.5h1M427 152.5h1M435 152.5h1M238 153.5h1M249 153.5h1M253 153.5h1M255 153.5h1M261 153.5h1M274 153.5h2M278 153.5h1M281 153.5h1M283 153.5h1M285 153.5h1M287 153.5h7M375 153.5h10M388 153.5h2M392 153.5h2M395 153.5h1M404 153.5h2M429 153.5h1M203 154.5h1M217 154.5h1M225 154.5h1M232 154.5h1M261 154.5h2M265 154.5h1M268 154.5h2M273 154.5h1M275 154.5h1M278 154.5h1M282 154.5h1M285 154.5h4M290 154.5h3M376 154.5h12M392 154.5h1M404 154.5h1M407 154.5h1M411 154.5h1M416 154.5h1M421 154.5h2M426 154.5h1M188 155.5h1M223 155.5h1M233 155.5h1M238 155.5h1M260 155.5h1M264 155.5h2M275 155.5h2M278 155.5h3M282 155.5h3M286 155.5h4M291 155.5h1M376 155.5h6M383 155.5h3M387 155.5h1M389 155.5h1M395 155.5h1M399 155.5h1M401 155.5h1M404 155.5h1M408 155.5h1M413 155.5h1M415 155.5h1M419 155.5h1M423 155.5h2M428 155.5h1M223 156.5h1M238 156.5h1M254 156.5h1M267 156.5h1M271 156.5h1M277 156.5h1M279 156.5h2M282 156.5h1M286 156.5h5M377 156.5h6M384 156.5h1M386 156.5h4M392 156.5h2M395 156.5h1M399 156.5h2M402 156.5h2M194 157.5h1M243 157.5h1M269 157.5h1M273 157.5h1M275 157.5h1M279 157.5h3M283 157.5h7M377 157.5h3M381 157.5h4M386 157.5h2M390 157.5h1M394 157.5h1M396 157.5h2M402 157.5h1M407 157.5h2M411 157.5h1M413 157.5h1M415 157.5h1M422 157.5h1M427 157.5h1M232 158.5h1M234 158.5h1M237 158.5h1M256 158.5h1M273 158.5h4M278 158.5h4M283 158.5h7M378 158.5h5M384 158.5h1M386 158.5h2M389 158.5h2M392 158.5h1M396 158.5h1M399 158.5h1M403 158.5h2M406 158.5h1M415 158.5h1M430 158.5h1M204 159.5h1M206 159.5h1M216 159.5h1M228 159.5h1M242 159.5h1M250 159.5h1M255 159.5h1M265 159.5h1M273 159.5h1M276 159.5h4M281 159.5h1M283 159.5h6M378 159.5h9M388 159.5h2M391 159.5h3M395 159.5h2M401 159.5h1M407 159.5h1M415 159.5h1M417 159.5h1M431 159.5h1M222 160.5h1M240 160.5h1M247 160.5h1M250 160.5h1M266 160.5h1M270 160.5h2M275 160.5h2M278 160.5h1M280 160.5h3M284 160.5h3M379 160.5h5M386 160.5h3M390 160.5h1M395 160.5h1M397 160.5h2M406 160.5h1M409 160.5h1M412 160.5h1M414 160.5h1M427 160.5h1M434 160.5h1M251 161.5h1M256 161.5h1M264 161.5h1M270 161.5h1M274 161.5h1M280 161.5h8M380 161.5h3M385 161.5h4M391 161.5h1M396 161.5h2M400 161.5h1M414 161.5h1M417 161.5h1M420 161.5h1M213 162.5h1M221 162.5h1M234 162.5h1M237 162.5h1M239 162.5h1M243 162.5h1M253 162.5h1M259 162.5h1M266 162.5h1M270 162.5h2M274 162.5h1M276 162.5h2M279 162.5h9M379 162.5h3M383 162.5h3M387 162.5h3M392 162.5h1M396 162.5h1M401 162.5h1M422 162.5h1M424 162.5h1M187 163.5h1M194 163.5h1M240 163.5h1M249 163.5h1M255 163.5h1M261 163.5h2M266 163.5h1M268 163.5h2M275 163.5h2M278 163.5h1M281 163.5h2M284 163.5h3M379 163.5h7M387 163.5h2M390 163.5h1M392 163.5h1M404 163.5h2M407 163.5h1M410 163.5h2M418 163.5h2M424 163.5h1M434 163.5h1M224 164.5h1M235 164.5h2M250 164.5h1M266 164.5h1M268 164.5h1M270 164.5h1M272 164.5h1M275 164.5h2M278 164.5h3M282 164.5h5M379 164.5h7M387 164.5h1M389 164.5h1M391 164.5h3M397 164.5h1M401 164.5h1M413 164.5h1M419 164.5h1M422 164.5h1M432 164.5h1M204 165.5h1M211 165.5h1M243 165.5h1M246 165.5h1M260 165.5h3M264 165.5h1M269 165.5h1M273 165.5h2M276 165.5h2M279 165.5h1M281 165.5h5M379 165.5h11M391 165.5h1M393 165.5h1M398 165.5h2M403 165.5h1M415 165.5h1M423 165.5h1M436 165.5h2M222 166.5h1M228 166.5h1M232 166.5h1M237 166.5h1M242 166.5h1M254 166.5h1M256 166.5h2M262 166.5h1M271 166.5h1M273 166.5h1M277 166.5h2M280 166.5h5M379 166.5h9M391 166.5h3M397 166.5h1M401 166.5h1M403 166.5h1M408 166.5h1M411 166.5h1M434 166.5h1M188 167.5h1M211 167.5h1M216 167.5h1M221 167.5h1M228 167.5h1M243 167.5h1M251 167.5h1M254 167.5h1M257 167.5h1M263 167.5h2M272 167.5h1M276 167.5h9M378 167.5h7M386 167.5h2M389 167.5h1M391 167.5h6M401 167.5h1M404 167.5h1M407 167.5h1M416 167.5h1M419 167.5h2M196 168.5h1M250 168.5h1M258 168.5h1M260 168.5h1M263 168.5h1M269 168.5h2M272 168.5h2M275 168.5h1M278 168.5h7M379 168.5h4M384 168.5h5M395 168.5h2M403 168.5h1M405 168.5h1M410 168.5h1M416 168.5h1M420 168.5h1M431 168.5h1M435 168.5h1M250 169.5h1M257 169.5h1M262 169.5h1M264 169.5h1M266 169.5h2M269 169.5h3M274 169.5h1M276 169.5h8M378 169.5h6M385 169.5h2M398 169.5h1M401 169.5h1M407 169.5h1M410 169.5h1M417 169.5h1M428 169.5h2M225 170.5h1M228 170.5h2M246 170.5h1M252 170.5h1M255 170.5h1M257 170.5h1M261 170.5h1M265 170.5h1M271 170.5h1M274 170.5h2M277 170.5h2M280 170.5h4M378 170.5h6M386 170.5h2M389 170.5h1M391 170.5h1M393 170.5h1M396 170.5h2M401 170.5h1M405 170.5h1M408 170.5h1M413 170.5h3M417 170.5h1M423 170.5h1M427 170.5h1M190 171.5h1M200 171.5h1M216 171.5h1M227 171.5h3M232 171.5h1M240 171.5h1M243 171.5h1M246 171.5h1M248 171.5h1M257 171.5h2M262 171.5h1M264 171.5h1M267 171.5h4M272 171.5h4M277 171.5h6M378 171.5h7M386 171.5h4M391 171.5h2M394 171.5h1M404 171.5h1M408 171.5h1M411 171.5h1M421 171.5h1M196 172.5h1M203 172.5h1M208 172.5h1M220 172.5h1M230 172.5h1M243 172.5h1M248 172.5h1M253 172.5h1M257 172.5h1M262 172.5h1M264 172.5h1M268 172.5h1M270 172.5h8M279 172.5h3M378 172.5h2M381 172.5h6M389 172.5h3M393 172.5h2M397 172.5h2M400 172.5h2M406 172.5h1M427 172.5h2M191 173.5h1M220 173.5h1M223 173.5h1M232 173.5h1M244 173.5h1M247 173.5h1M250 173.5h1M252 173.5h1M254 173.5h3M259 173.5h1M262 173.5h1M264 173.5h2M269 173.5h1M271 173.5h11M378 173.5h4M383 173.5h3M393 173.5h1M396 173.5h1M399 173.5h2M407 173.5h1M417 173.5h1M192 174.5h1M202 174.5h1M213 174.5h1M215 174.5h1M220 174.5h1M224 174.5h1M231 174.5h1M234 174.5h1M242 174.5h1M244 174.5h1M250 174.5h1M254 174.5h4M261 174.5h1M264 174.5h3M268 174.5h1M270 174.5h2M273 174.5h9M377 174.5h3M381 174.5h5M387 174.5h3M391 174.5h3M396 174.5h1M400 174.5h1M403 174.5h4M420 174.5h1M425 174.5h1M432 174.5h1M186 175.5h1M198 175.5h1M202 175.5h1M206 175.5h1M213 175.5h1M229 175.5h1M240 175.5h1M248 175.5h3M254 175.5h2M259 175.5h3M264 175.5h1M266 175.5h2M269 175.5h2M272 175.5h9M377 175.5h9M387 175.5h2M390 175.5h1M393 175.5h2M397 175.5h1M400 175.5h1M402 175.5h2M408 175.5h1M418 175.5h2M185 176.5h1M190 176.5h1M192 176.5h1M206 176.5h1M215 176.5h1M226 176.5h1M232 176.5h1M234 176.5h1M241 176.5h1M245 176.5h1M247 176.5h1M252 176.5h2M256 176.5h1M265 176.5h1M268 176.5h2M271 176.5h8M377 176.5h6M384 176.5h2M388 176.5h3M397 176.5h1M402 176.5h1M404 176.5h1M417 176.5h1M435 176.5h1M205 177.5h1M209 177.5h1M220 177.5h1M227 177.5h2M234 177.5h1M237 177.5h3M244 177.5h2M249 177.5h1M252 177.5h1M255 177.5h1M258 177.5h2M261 177.5h5M267 177.5h11M377 177.5h2M380 177.5h7M388 177.5h4M394 177.5h2M398 177.5h1M401 177.5h1M432 177.5h1M435 177.5h1M191 178.5h1M209 178.5h1M234 178.5h1M236 178.5h2M240 178.5h2M245 178.5h1M255 178.5h2M259 178.5h2M262 178.5h3M266 178.5h8M275 178.5h1M378 178.5h2M381 178.5h4M386 178.5h1M391 178.5h1M395 178.5h1M409 178.5h2M427 178.5h1M202 179.5h1M209 179.5h1M215 179.5h1M223 179.5h1M232 179.5h1M235 179.5h1M237 179.5h1M241 179.5h1M256 179.5h3M260 179.5h2M263 179.5h1M265 179.5h9M377 179.5h1M379 179.5h4M384 179.5h1M386 179.5h4M393 179.5h1M395 179.5h1M398 179.5h5M416 179.5h1M427 179.5h1M434 179.5h1M188 180.5h1M214 180.5h1M218 180.5h1M220 180.5h1M228 180.5h2M234 180.5h1M240 180.5h1M245 180.5h1M247 180.5h1M251 180.5h1M254 180.5h1M259 180.5h13M377 180.5h7M385 180.5h1M387 180.5h1M391 180.5h1M394 180.5h1M405 180.5h1M411 180.5h1M422 180.5h1M193 181.5h1M205 181.5h1M222 181.5h2M230 181.5h1M233 181.5h2M236 181.5h1M248 181.5h1M251 181.5h3M256 181.5h1M258 181.5h1M261 181.5h10M377 181.5h6M384 181.5h2M388 181.5h1M397 181.5h1M401 181.5h1M404 181.5h1M406 181.5h1M429 181.5h1M436 181.5h1M205 182.5h1M226 182.5h1M231 182.5h6M240 182.5h1M244 182.5h2M248 182.5h1M250 182.5h1M253 182.5h16M376 182.5h8M386 182.5h4M399 182.5h2M402 182.5h1M407 182.5h1M412 182.5h1M418 182.5h1M189 183.5h1M196 183.5h1M200 183.5h1M217 183.5h2M227 183.5h1M231 183.5h1M233 183.5h1M235 183.5h2M238 183.5h1M242 183.5h1M244 183.5h4M249 183.5h3M253 183.5h15M376 183.5h7M384 183.5h4M390 183.5h2M394 183.5h1M396 183.5h1M401 183.5h3M408 183.5h2M430 183.5h1M194 184.5h1M196 184.5h1M207 184.5h1M212 184.5h1M227 184.5h1M232 184.5h1M234 184.5h1M236 184.5h4M241 184.5h1M243 184.5h1M247 184.5h6M254 184.5h12M376 184.5h10M388 184.5h1M390 184.5h1M392 184.5h1M396 184.5h2M401 184.5h1M409 184.5h1M412 184.5h1M422 184.5h1M427 184.5h1M433 184.5h1M191 185.5h1M195 185.5h1M207 185.5h2M223 185.5h2M229 185.5h8M242 185.5h7M250 185.5h5M256 185.5h8M376 185.5h3M380 185.5h8M389 185.5h1M391 185.5h1M394 185.5h1M398 185.5h1M401 185.5h1M412 185.5h1M422 185.5h1M424 185.5h1M194 186.5h1M201 186.5h2M214 186.5h1M216 186.5h1M221 186.5h1M224 186.5h1M229 186.5h3M235 186.5h1M237 186.5h1M242 186.5h1M244 186.5h1M246 186.5h8M255 186.5h7M376 186.5h9M386 186.5h1M388 186.5h1M390 186.5h1M395 186.5h4M402 186.5h1M419 186.5h1M422 186.5h1M430 186.5h1M437 186.5h1M195 187.5h1M198 187.5h1M205 187.5h1M210 187.5h2M223 187.5h3M231 187.5h1M233 187.5h5M240 187.5h1M242 187.5h3M246 187.5h1M248 187.5h11M376 187.5h1M378 187.5h4M390 187.5h2M398 187.5h1M406 187.5h1M408 187.5h1M411 187.5h1M416 187.5h1M425 187.5h1M435 187.5h1M194 188.5h1M210 188.5h1M217 188.5h1M222 188.5h3M226 188.5h1M228 188.5h1M230 188.5h2M233 188.5h1M236 188.5h2M239 188.5h2M242 188.5h11M254 188.5h1M256 188.5h1M376 188.5h6M383 188.5h1M385 188.5h1M387 188.5h1M391 188.5h1M393 188.5h2M397 188.5h1M406 188.5h1M410 188.5h1M192 189.5h1M197 189.5h1M202 189.5h1M208 189.5h1M214 189.5h3M219 189.5h1M229 189.5h1M233 189.5h1M235 189.5h3M239 189.5h3M243 189.5h11M376 189.5h4M382 189.5h7M390 189.5h1M395 189.5h1M397 189.5h1M399 189.5h1M408 189.5h1M416 189.5h1M186 190.5h1M195 190.5h1M208 190.5h1M212 190.5h1M219 190.5h3M225 190.5h1M227 190.5h4M234 190.5h18M376 190.5h2M379 190.5h4M384 190.5h2M387 190.5h2M396 190.5h1M405 190.5h1M413 190.5h2M192 191.5h1M198 191.5h1M203 191.5h1M211 191.5h1M219 191.5h1M221 191.5h1M225 191.5h3M229 191.5h1M231 191.5h2M236 191.5h1M238 191.5h5M244 191.5h1M246 191.5h3M376 191.5h5M382 191.5h3M391 191.5h1M404 191.5h1M187 192.5h1M195 192.5h1M205 192.5h1M207 192.5h1M214 192.5h2M217 192.5h2M220 192.5h1M222 192.5h1M225 192.5h1M227 192.5h1M229 192.5h1M233 192.5h1M235 192.5h12M376 192.5h1M378 192.5h4M383 192.5h1M386 192.5h1M391 192.5h1M393 192.5h2M396 192.5h1M398 192.5h1M406 192.5h1M412 192.5h2M186 193.5h1M188 193.5h1M204 193.5h1M206 193.5h2M210 193.5h1M212 193.5h2M216 193.5h2M220 193.5h2M223 193.5h1M225 193.5h3M229 193.5h1M231 193.5h14M376 193.5h4M381 193.5h2M384 193.5h1M386 193.5h3M390 193.5h1M394 193.5h1M396 193.5h1M400 193.5h1M191 194.5h1M194 194.5h1M209 194.5h2M215 194.5h1M218 194.5h1M220 194.5h4M226 194.5h4M232 194.5h5M238 194.5h5M375 194.5h11M388 194.5h1M390 194.5h1M393 194.5h2M399 194.5h1M189 195.5h1M195 195.5h1M201 195.5h1M203 195.5h1M206 195.5h1M210 195.5h1M212 195.5h1M215 195.5h1M219 195.5h2M222 195.5h3M227 195.5h14M376 195.5h7M384 195.5h1M386 195.5h1M388 195.5h1M395 195.5h1M405 195.5h1M193 196.5h1M195 196.5h1M203 196.5h1M211 196.5h1M217 196.5h2M221 196.5h1M224 196.5h5M230 196.5h9M376 196.5h7M384 196.5h2M387 196.5h4M399 196.5h1M404 196.5h1M407 196.5h1M187 197.5h1M193 197.5h1M195 197.5h1M197 197.5h2M200 197.5h2M205 197.5h1M210 197.5h1M214 197.5h4M220 197.5h1M225 197.5h1M227 197.5h10M376 197.5h2M379 197.5h8M388 197.5h2M391 197.5h1M191 198.5h1M193 198.5h2M203 198.5h1M206 198.5h1M215 198.5h5M222 198.5h13M376 198.5h6M383 198.5h1M386 198.5h1M390 198.5h1M397 198.5h1M188 199.5h1M192 199.5h3M196 199.5h1M199 199.5h1M201 199.5h1M205 199.5h2M213 199.5h2M216 199.5h2M219 199.5h8M228 199.5h5M377 199.5h6M384 199.5h2M387 199.5h1M391 199.5h1M394 199.5h1M396 199.5h1M185 200.5h1M193 200.5h1M195 200.5h1M197 200.5h2M203 200.5h1M205 200.5h1M207 200.5h3M212 200.5h2M216 200.5h11M228 200.5h3M377 200.5h1M379 200.5h3M389 200.5h3M424 200.5h1M194 201.5h6M205 201.5h3M211 201.5h1M214 201.5h2M217 201.5h1M219 201.5h1M221 201.5h8M377 201.5h1M379 201.5h4M384 201.5h2M388 201.5h1M192 202.5h1M194 202.5h1M197 202.5h1M200 202.5h2M207 202.5h1M212 202.5h1M214 202.5h5M220 202.5h3M224 202.5h1M226 202.5h2M378 202.5h2M381 202.5h1M383 202.5h3M387 202.5h1M186 203.5h1M189 203.5h2M193 203.5h1M200 203.5h2M206 203.5h3M211 203.5h1M213 203.5h1M215 203.5h10M378 203.5h6M186 204.5h1M188 204.5h2M193 204.5h1M195 204.5h1M197 204.5h1M199 204.5h2M210 204.5h5M216 204.5h1M218 204.5h6M378 204.5h3M185 205.5h1M187 205.5h3M192 205.5h1M197 205.5h2M200 205.5h1M202 205.5h3M208 205.5h5M215 205.5h2M218 205.5h5M381 205.5h1M424 205.5h1M188 206.5h1M193 206.5h2M198 206.5h2M201 206.5h1M207 206.5h1M211 206.5h10M384 206.5h1M188 207.5h2M191 207.5h2M194 207.5h1M197 207.5h5M203 207.5h1M205 207.5h1M207 207.5h2M210 207.5h2M213 207.5h2M216 207.5h1M218 207.5h2M383 207.5h1M190 208.5h1M193 208.5h1M198 208.5h1M201 208.5h17M379 208.5h1M383 208.5h1M385 208.5h1M185 209.5h1M188 209.5h1M194 209.5h3M199 209.5h7M207 209.5h8M378 209.5h3M188 210.5h1M192 210.5h1M195 210.5h1M200 210.5h1M202 210.5h12M383 210.5h1M185 211.5h1M189 211.5h1M191 211.5h2M194 211.5h2M197 211.5h2M200 211.5h12M379 211.5h1M186 212.5h3M190 212.5h1M193 212.5h3M199 212.5h2M202 212.5h1M204 212.5h6M377 212.5h1M379 212.5h1M435 212.5h1M188 213.5h2M192 213.5h2M195 213.5h3M200 213.5h8M377 213.5h1M419 213.5h1M189 214.5h1M191 214.5h15M378 214.5h1M414 214.5h1M186 215.5h1M189 215.5h4M194 215.5h1M196 215.5h8M406 215.5h1M413 215.5h1M185 216.5h3M189 216.5h1M191 216.5h1M193 216.5h9M186 217.5h2M190 217.5h9M374 217.5h1M377 217.5h1M185 218.5h1M187 218.5h10M372 218.5h1M375 218.5h1M430 218.5h1M185 219.5h4M190 219.5h3M194 219.5h2M373 219.5h6M185 220.5h9M366 220.5h2M371 220.5h1M373 220.5h2M185 221.5h8M368 221.5h1M399 221.5h1M186 222.5h1M188 222.5h4M360 222.5h1M362 222.5h1M372 222.5h2M185 223.5h5M356 223.5h1M368 223.5h1M374 223.5h1M185 224.5h3M354 224.5h1M359 224.5h2M365 224.5h1M369 224.5h1M372 224.5h1M185 225.5h3M348 225.5h1M351 225.5h1M354 225.5h1M357 225.5h2M344 226.5h1M347 226.5h3M352 226.5h2M362 226.5h1M365 226.5h1M375 226.5h1M380 226.5h1M340 227.5h1M342 227.5h1M348 227.5h1M352 227.5h1M356 227.5h1M358 227.5h1M336 228.5h1M340 228.5h2M350 228.5h1M331 229.5h2M341 229.5h1M350 229.5h1M326 230.5h3M331 230.5h1M334 230.5h1M344 230.5h1M321 231.5h1M327 231.5h1M329 231.5h2M332 231.5h1M349 231.5h1M359 231.5h1M317 232.5h1M319 232.5h1M321 232.5h1M324 232.5h3M334 232.5h1M351 232.5h1M313 233.5h1M315 233.5h1M317 233.5h1M320 233.5h1M326 233.5h2M330 233.5h1M333 233.5h1M306 234.5h2M312 234.5h2M315 234.5h1M340 234.5h1M414 234.5h1M301 235.5h2M308 235.5h1M311 235.5h1M294 236.5h1M296 236.5h4M303 236.5h2M321 236.5h1M329 236.5h1M360 236.5h1M286 237.5h1M312 237.5h1M344 237.5h1M277 238.5h1M280 238.5h1M282 238.5h1M294 238.5h3M301 238.5h1M267 239.5h2M270 239.5h2M273 239.5h1M283 239.5h1M287 239.5h2M294 239.5h1M303 239.5h1M313 239.5h1M254 240.5h1M256 240.5h1M258 240.5h1M260 240.5h3M264 240.5h1M269 240.5h1M273 240.5h1M275 240.5h1M288 240.5h1M294 240.5h1M310 240.5h1M316 240.5h1M240 241.5h10M251 241.5h1M258 241.5h2M262 241.5h2M266 241.5h1M270 241.5h1M272 241.5h1M278 241.5h1M281 241.5h1M289 241.5h1M305 241.5h1M417 241.5h1M235 242.5h13M253 242.5h1M259 242.5h1M261 242.5h1M288 242.5h1M311 242.5h1M230 243.5h10M241 243.5h4M246 243.5h1M253 243.5h1M259 243.5h1M261 243.5h1M326 243.5h1M227 244.5h14M243 244.5h2M246 244.5h1M248 244.5h1M263 244.5h1M265 244.5h1M298 244.5h1M225 245.5h11M237 245.5h1M244 245.5h1M246 245.5h1M270 245.5h1M273 245.5h1M224 246.5h3M228 246.5h5M234 246.5h1M250 246.5h1M263 246.5h1M222 247.5h1M224 247.5h8M220 248.5h7M283 248.5h1M219 249.5h3M224 249.5h1M226 249.5h1M229 249.5h1M237 249.5h1M257 249.5h1M285 249.5h1M399 249.5h1M217 250.5h4M223 250.5h1M247 250.5h1M215 251.5h3M213 252.5h2M216 252.5h1M224 252.5h1M212 253.5h1M213 254.5h1M216 254.5h2M231 254.5h1M210 255.5h1M212 255.5h1M215 255.5h1M218 255.5h1M222 255.5h1M245 255.5h1M207 256.5h1M211 256.5h1M213 256.5h1M216 256.5h1M209 257.5h1M213 257.5h1" stroke="#000" stroke-width="1" fill="none"/>
<path d="M184.6 226.2L186.5 226.2L196.5 218.8L215.2 210L231.5 200L246.5 192.5L265.2 185L281.5 175L290.2 157.5L302.8 145L315.2 138.8L340.2 137.5L359 142.5L374 151.2L379 161.2L376.5 180L375.2 195L379 207.5L374 217.5L359 222.5L334 228.8L309 233.8L284 237.5L259 240L240.2 241.2L227.8 243.8L215.2 251.2L202.8 258L184.6 258Z" fill="#000"/>
<clipPath id="cA1"><path d="M185 246.2L191.5 232.5L202.8 223.8L221.5 215L236.5 210L254 198.8L271.5 191.2L296.5 186.2L297.8 176.2L295.2 170L299 160L309 151.2L319 146.9L346.5 146.9L361.5 152.5L370.2 160L371.5 172.5L365.2 182.5L352.8 188.8L354 197.5L361.5 205L364 210L359 215L346.5 220L327.8 225L309 230L284 233.8L259 236.2L234 238.8L221.5 243.8L209 250L196.5 257.5L186.5 257.5Z"/></clipPath>
<g clip-path="url(#cA1)"><path d="M185 246.2L191.5 232.5L202.8 223.8L221.5 215L236.5 210L254 198.8L271.5 191.2L296.5 186.2L297.8 176.2L295.2 170L299 160L309 151.2L319 146.9L346.5 146.9L361.5 152.5L370.2 160L371.5 172.5L365.2 182.5L352.8 188.8L354 197.5L361.5 205L364 210L359 215L346.5 220L327.8 225L309 230L284 233.8L259 236.2L234 238.8L221.5 243.8L209 250L196.5 257.5L186.5 257.5Z" fill="#d2d2d2"/>
<path d="M206.5 257.5L197.5 258.2L185.5 258.2L184.8 257.5L184.7 254.5L185.5 244L190.5 240.1L203.4 232.5L214.5 222.6L222.5 217L229.5 213.2L238.5 209.1L257.5 202.9L275.5 198.9L307.2 194.5L315.6 192.5L316.4 191.5L315 189.5L304.5 182.5L299.5 177.9L296.5 173.5L295.2 169.5L295.2 164.5L297 159.5L301.2 154.5L306.5 150.6L314.5 147L323.5 144.8L333.5 143.9L343.5 144.6L352.5 146.7L360.5 150L366.8 154.5L371 159.5L372.8 164.5L372.8 169.5L371 174.5L368 178.5L363.5 182.3L358.5 185.4L352.5 188.1L340.5 192.5L338.7 193.5L338 194.5L338.9 196.5L345.8 203.5L347.3 206.5L347.5 209.5L346.7 212.5L344 216.5L339.7 220.5L334.5 224L327.5 227.8L319.5 231.2L308.5 235.1L298.5 237.9L284.5 241L272.5 242.9L245.5 244.9L237.5 246.1L223.3 250.5L212.9 254.5L206.5 257.5Z" fill="#d0d0d0" fill-rule="evenodd"/>
<path d="M338.5 190.5L329.5 191.4L326.5 191.2L322.5 190.1L311.5 185.1L303.3 179.5L299.1 174.5L297.6 171.5L296.9 168.5L296.9 165.5L297.6 162.5L299.1 159.5L301.4 156.5L307.5 151.6L314.5 148.3L323.5 145.9L332.5 145L342.5 145.6L351.5 147.6L359.5 151L365.5 155.4L369.5 160.5L371.1 165.5L371.1 168.5L370.4 171.5L367.5 176.5L362.5 181.2L356.5 184.8L348.5 188L338.5 190.5ZM204.5 257.6L196.5 258.2L185.5 258.2L184.8 257.5L184.8 254.5L185.5 244.6L191.5 240L203.6 233.5L215.5 223.1L222.5 218.1L231.5 213.1L243.5 208L259.5 203.1L277.5 199.3L296.5 196.8L322.5 194.6L328.5 195.1L335.5 197.9L341.5 202L343.7 204.5L344.8 206.5L345.3 209.5L344.6 212.5L342.8 215.5L338.9 219.5L334.5 222.7L328.5 226.2L315.5 231.9L298.5 237.2L280.5 241.1L266.5 243L244.5 244.3L236.8 245.5L229.7 247.5L218.6 251.5L204.5 257.6Z" fill="#c3c3c3" fill-rule="evenodd"/>
<path d="M338.5 188.6L330.5 189L322.5 187.7L312.5 183.9L305.5 179.3L301.2 174.5L299.7 171.5L298.9 168.5L298.9 165.5L299.7 162.5L302.7 157.5L308.5 152.7L315.5 149.3L323.5 147.2L332.5 146.2L341.5 146.7L349.5 148.4L357.4 151.5L363.3 155.5L367.4 160.5L369.1 165.5L368.7 170.5L366.1 175.5L361.5 180L355.5 183.7L347.5 186.7L338.5 188.6ZM203.5 257.6L195.5 258.2L185.5 258.1L184.9 257.5L184.8 254.5L185.5 245.2L192.5 240L205.2 233.5L216.7 223.5L224.5 218L233.5 213.1L245.5 208.1L259.5 203.8L277.5 200L295.5 197.7L315.5 196.5L324.5 197L332.5 199L336.5 201L339.5 203.1L341.6 205.5L342.5 207.5L342.8 210.5L341.9 213.5L339.8 216.5L336.8 219.5L332.5 222.7L326.5 226.1L312.5 232.1L295.5 237.2L277.5 240.9L262.5 242.7L244.5 243.6L236.5 244.8L227.5 247.5L216.5 251.5L203.5 257.6Z" fill="#b7b7b7" fill-rule="evenodd"/>
<path d="M341.5 186.5L332.5 187.3L323.5 186.2L315.5 183.5L308.5 179.5L303.5 174.5L301.2 169.5L301.2 164.5L303.5 159.5L307.5 155.4L313.5 151.7L320.5 149.2L328.5 147.8L337.5 147.6L345.5 148.7L353.5 151.2L359.4 154.5L363.7 158.5L366.5 163.5L366.9 168.5L365.2 173.5L361.5 177.9L356.3 181.5L349.5 184.5L341.5 186.5ZM202.5 257.6L195.5 258.1L185.5 258L185 257.5L184.9 254.5L185.5 245.9L191.5 241.2L205.5 234.4L218.5 223.4L226.5 217.9L235.5 213.1L245.5 209L258.5 204.9L275.5 201.2L292.5 198.9L309.5 197.8L320.5 198.2L329.5 200L333.5 201.6L336.5 203.5L338.7 205.5L339.9 207.5L340.4 210.5L339.6 213.5L337.6 216.5L334.6 219.5L325.4 225.5L312.5 231.2L296.5 236.2L278.5 240.2L263.5 242.1L243.5 243L235.5 244.3L214.2 251.5L202.5 257.6Z" fill="#aaaaaa" fill-rule="evenodd"/>
<path d="M336.5 185.5L328.5 185.3L321.5 183.9L314.5 181.2L308.5 177.2L304.7 172.5L303.3 167.5L304.2 162.5L306.8 158.5L311.5 154.6L317.5 151.7L325.5 149.5L333.5 148.8L341.5 149.4L348.5 151L355.5 154L360.2 157.5L363.3 161.5L364.7 166.5L363.8 171.5L361.2 175.5L357.5 178.8L351.5 182.1L344.5 184.4L336.5 185.5ZM201.5 257.6L194.5 258.1L185.5 258L185 257.5L185 254.5L185.5 246.6L188.5 243.9L192.5 241.2L203.7 236.5L207.2 234.5L219.5 224L228.5 217.8L237.5 213.2L247.5 209.1L261.5 204.9L275.5 202L291.5 199.8L307.5 198.9L318.5 199.4L327.5 201.2L331.5 202.8L334.3 204.5L336.4 206.5L337.5 208.5L337.8 210.5L337.2 213.5L335.3 216.5L332.3 219.5L323.5 225.3L310.5 230.9L294.5 236L276.5 240L261.5 241.7L242.5 242.3L235.4 243.5L213.5 250.8L201.5 257.6Z" fill="#9e9e9e" fill-rule="evenodd"/>
<path d="M339.5 183.6L331.5 183.9L324.5 183L317.5 180.7L311.9 177.5L307.9 173.5L306 169.5L305.7 166.5L306 164.5L307.9 160.5L311.5 156.9L316.5 153.9L323.5 151.5L330.5 150.4L337.5 150.4L344.5 151.5L350.7 153.5L356 156.5L360.1 160.5L362 164.5L362.2 168.5L360.7 172.5L357.3 176.5L352.5 179.7L346.5 182.1L339.5 183.6ZM200.5 257.6L193.5 258L185.5 257.9L185.1 257.5L185 254.5L185.5 247.4L188.5 244.5L192.5 241.8L196.5 239.9L204.5 237.2L207.7 235.5L220.7 224.5L228.5 219L237.5 214.2L247.5 210.1L260.5 206L274.5 203L290.5 200.8L305.5 200L317.5 200.6L325.5 202.3L329.5 203.9L332 205.5L334 207.5L334.9 209.5L335.1 211.5L334.2 214.5L332.1 217.5L328.7 220.5L319.5 226.1L307.5 231.1L291.5 236.1L273.5 239.9L261.5 241.2L242.5 241.6L234.5 242.9L212.5 250.2L200.5 257.6Z" fill="#919191" fill-rule="evenodd"/>
<path d="M341.5 181.6L334.5 182.3L327.5 181.8L321.5 180.3L315.5 177.5L310.9 173.5L308.8 169.5L308.5 165.5L310.2 161.5L312.8 158.5L317.5 155.4L323.5 153.2L329.5 152.1L335.5 151.9L341.5 152.5L347.5 154.2L352.5 156.6L356.2 159.5L358.9 163.5L359.6 166.5L358.9 170.5L356.2 174.5L352.5 177.5L347.5 179.9L341.5 181.6ZM199.5 257.6L192.5 258L185.5 257.8L185.1 254.5L185.5 248.2L188.5 245.2L193.5 241.9L197.5 240.3L205.5 237.9L208.5 236.5L222.5 224.5L230.5 219L238.5 214.8L247.5 211L260.5 206.9L273.5 204.1L288.5 202L302.5 201.1L313.5 201.5L322.5 203.1L328.5 205.7L330.7 207.5L331.9 209.5L332.3 211.5L331.6 214.5L329.5 217.5L326.2 220.5L317.5 225.8L304.5 231.2L289.5 236L274.5 239.3L260.5 240.8L241.5 241L233.5 242.2L212.5 249L199.5 257.6Z" fill="#858585" fill-rule="evenodd"/>
<path d="M341.5 179.7L335.5 180.4L329.5 180.2L323.5 178.9L318.1 176.5L314.3 173.5L311.8 169.5L311.6 165.5L312.8 162.5L315.3 159.5L318.5 157.3L323.5 155.2L328.5 154.1L333.5 153.7L339.5 154.1L345.4 155.5L349.8 157.5L353.5 160.3L355.5 163L356.6 166.5L356.2 169.5L354.6 172.5L351.4 175.5L346.5 178.2L341.5 179.7ZM198.5 257.5L185.5 257.7L185.5 249.2L189 245.5L193.5 242.6L198.5 240.7L206.5 239L209.5 237.6L222 226.5L229.5 220.9L238.5 215.9L249.5 211.3L260.5 207.9L274.5 204.8L288.5 202.9L301.5 202.2L312.5 202.7L320.5 204.3L326.5 207.1L328 208.5L329.1 210.5L329.4 212.5L328.3 215.5L325.9 218.5L322.5 221.3L312.5 226.9L299.5 232.2L286.5 236.2L272.5 239.1L259.5 240.3L239.5 240.3L232.4 241.5L212.5 247.5L209.5 249.2L202.5 255L198.5 257.5Z" fill="#787878" fill-rule="evenodd"/>
<path d="M340.5 177.6L335.5 178.3L329.5 178L324.5 176.8L320.5 175L317.3 172.5L315.4 169.5L314.9 166.5L315.9 163.5L318.4 160.5L321.5 158.5L325.5 156.9L329.5 156L334.5 155.7L339.5 156.2L343.5 157.2L347.5 159L350.5 161.3L352.1 163.5L353.1 166.5L352.6 169.5L350.7 172.5L348.3 174.5L344.5 176.4L340.5 177.6ZM196.5 257.6L185.5 257.5L185.5 250.5L189.5 245.8L192.5 243.8L196.5 242L200.5 241.1L207.5 240.4L210.5 239.3L222.9 227.5L229.5 222.3L238.5 217L249.5 212.3L260.5 208.9L273.5 206L286.5 204.2L298.5 203.4L308.5 203.7L316.5 205L322.8 207.5L325.7 210.5L326.2 212.5L325.4 215.5L324 217.5L320.8 220.5L311.5 226.1L297.5 232.1L285.5 236L271.5 238.9L258.5 240L236.5 239.7L214.5 244.8L210.5 246.5L202 254.5L198.5 256.9L196.5 257.6Z" fill="#6c6c6c" fill-rule="evenodd"/>
<path d="M337.5 175.5L333.5 175.8L329.5 175.3L325.5 174.2L322.5 172.5L320.4 170.5L319.4 168.5L319.4 165.5L320.4 163.5L324.5 160.3L327.5 159.2L331.5 158.4L335.5 158.3L339.5 158.9L342.5 159.9L345.5 161.5L347.6 163.5L348.6 165.5L348.8 167.5L348.2 169.5L346.7 171.5L343.9 173.5L337.5 175.5ZM218.5 241.5L216.5 241.2L215.4 240.5L215.4 239.5L216.2 237.5L221 231.5L228.6 224.5L233.5 221L240.5 217.1L247.5 214.1L256.5 211L267.5 208.2L278.5 206.2L289.5 205L299.5 204.6L308.5 205.1L315.3 206.5L319.8 208.5L322.5 211.5L322.8 213.5L321.7 216.5L319.1 219.5L315.1 222.5L308.2 226.5L301.5 229.7L286.5 235.2L274.5 238L266.5 239.1L255.5 239.5L236.5 238.8L218.5 241.5ZM195.5 257.5L186.5 257.4L185.5 255.9L185.5 252.4L187.7 248.5L192.5 244.6L197.5 242.5L203.5 242.1L205.8 242.5L207.7 243.5L208 245.5L204.9 250.5L200.5 254.7L195.5 257.5Z" fill="#5f5f5f" fill-rule="evenodd"/>
<path d="M337.5 171.6L332.5 172L328.5 170.9L325.8 168.5L325.5 166.5L325.8 165.5L327.8 163.5L331.5 162.2L335.5 162L339.5 163.1L342.2 165.5L342.5 167.5L341.5 169.5L337.5 171.6ZM267.5 238.5L254.5 239.1L235.5 237.7L224.5 238.4L222.5 238L221.6 237.5L221.2 236.5L222.4 233.5L225.5 229.5L229.5 225.5L234.8 221.5L245.5 215.9L260.5 210.9L279.5 207.2L289.5 206.1L297.5 205.9L305.5 206.3L311.5 207.4L316.4 209.5L318.5 211.5L319.2 214.5L318.5 216.5L317 218.5L312.4 222.5L304.2 227.5L294.5 231.9L285.5 235L276.5 237.2L267.5 238.5ZM193.5 257.5L188.8 257.5L187.5 256.7L186.6 255.5L186.4 252.5L188.7 248.5L192.5 245.4L196.5 243.7L201.5 243.2L204.6 244.5L205.2 245.5L205.1 247.5L202.7 251.5L198.5 255.2L193.5 257.5Z" fill="#535353" fill-rule="evenodd"/>
<path d="M262.5 238.6L249.5 238.3L229.5 235.9L226.7 234.5L226.6 232.5L228.1 229.5L231.6 225.5L239.5 219.8L250.5 214.9L264.5 210.9L281.5 208L297.5 207.3L303.5 207.8L308.5 208.8L312.7 210.5L314.8 212.5L315.3 215.5L313 219.5L307.2 224.5L299.5 229L290.5 232.9L280.5 235.9L270.5 237.8L262.5 238.6ZM193.5 256.6L190.5 256.8L188.1 255.5L187.6 254.5L187.5 252.5L189 249.5L191.5 247L195.5 244.9L199.5 244.3L202.5 245.4L203.3 247.5L202.7 249.5L201.4 251.5L197.5 254.9L193.5 256.6Z" fill="#464646" fill-rule="evenodd"/>
<path d="M269.5 237.5L256.5 238.3L243.5 237L232.5 234.3L230.4 232.5L230.3 230.5L231.2 228.5L233.6 225.5L237.1 222.5L241.5 219.7L252.5 215L264.5 211.8L281.5 209.1L295.5 208.6L300.5 209.1L305.5 210.1L308.7 211.5L311 213.5L311.6 216.5L310.2 219.5L306.5 223.5L300.8 227.5L293.5 231.1L285.5 234L277.5 236.2L269.5 237.5ZM193.5 255.5L190.9 255.5L189.3 254.5L188.9 252.5L190.3 249.5L192.5 247.5L195.5 246L198.5 245.7L200.5 246.4L201.3 248.5L199.9 251.5L196.5 254.3L193.5 255.5Z" fill="#3a3a3a" fill-rule="evenodd"/>
<path d="M266.5 237.5L254.5 237.9L242.5 236.2L235 233.5L233.1 231.5L233 229.5L233.8 227.5L236.3 224.5L239.5 222L244.5 219.1L254.5 215.1L267.5 211.9L282.5 210L294.5 209.9L299.5 210.6L303.5 211.7L306.7 213.5L308.1 215.5L308.2 218.5L305.7 222.5L301.5 226.1L296.5 229.1L289.5 232.2L281.5 234.8L275.5 236.2L266.5 237.5ZM194.5 253.8L192.5 254L191.2 253.5L190.7 252.5L191.3 250.5L192.5 249.1L194.5 247.8L196.5 247.3L197.9 247.5L198.9 248.5L198.6 250.5L196.9 252.5L194.5 253.8Z" fill="#2d2d2d" fill-rule="evenodd"/>
<path d="M260.5 237.5L249.5 236.9L240.5 234.8L236.3 232.5L235 230.5L235.1 228.5L236.2 226.5L239 223.5L246.5 218.9L254.5 215.8L266.5 212.8L280.5 211L292.5 211L297.5 211.7L301.5 213L304.1 214.5L305.6 216.5L305.7 219.5L303.2 223.5L298.5 227.2L293.5 230L286.5 232.8L278.5 235.2L268.5 237L260.5 237.5Z" fill="#212121" fill-rule="evenodd"/>
<path d="M268.5 236.6L256.5 237.1L246.5 235.9L241.5 234.3L238.4 232.5L236.9 230.5L236.8 228.5L237.7 226.5L240.5 223.5L247.5 219.2L256.5 215.8L268.5 213.1L280.5 211.8L291.5 211.9L299.5 213.8L301.5 214.9L303.2 216.5L303.9 219.5L302.6 222.5L299.6 225.5L295.5 228.3L289.5 231.2L281.5 234L268.5 236.6Z" fill="#141414" fill-rule="evenodd"/>
<path d="M265.5 236.5L254.5 236.6L249.5 236L244.5 234.7L241.5 233.4L239.1 231.5L238.2 229.5L238.5 227.5L239.7 225.5L241.8 223.5L247.5 219.9L257.5 216.1L267.5 213.9L279.5 212.5L290.5 212.7L297.5 214.3L299.8 215.5L301.7 217.5L302.2 219.5L301.2 222.5L298.4 225.5L293.5 228.7L286.5 231.9L280.5 233.8L271.5 235.8L265.5 236.5Z" fill="#f0f0f0" fill-rule="evenodd"/>
<path d="M270.5 235.6L264.5 236.3L257.5 236.4L247.5 235L243.5 233.5L240.7 231.5L239.7 229.5L239.8 227.5L241 225.5L243 223.5L250.5 219.2L259.5 216.1L269.5 214.1L279.5 213.1L288.5 213.2L295.5 214.7L298.5 216.2L299.9 217.5L300.7 219.5L299.9 222.5L297.3 225.5L293.5 228.1L287.5 231L282.5 232.8L270.5 235.6Z" fill="#c3c3c3" fill-rule="evenodd"/>
<path d="M267.5 235.6L256.5 235.9L247.5 234.4L244.5 233.2L242.1 231.5L241 229.5L241.1 227.5L242.2 225.5L244.2 223.5L249.5 220.2L258.5 216.9L267.5 214.9L278.5 213.7L288.5 213.9L295.5 215.7L297.5 217L298.9 218.5L299.3 220.5L298.1 223.5L295.5 226L291.5 228.6L286.5 231L280.5 233L267.5 235.6Z" fill="#b7b7b7" fill-rule="evenodd"/>
<path d="M263.5 235.6L254.5 235.3L247.5 233.8L244.8 232.5L242.7 230.5L242.2 229.5L242.3 227.5L243.4 225.5L245.4 223.5L251.5 219.9L259.5 217.1L269.5 215.1L280.5 214.2L289.5 214.8L294.9 216.5L296.5 217.6L297.8 219.5L297.9 221.5L296.1 224.5L292.3 227.5L287.5 230L282.5 232L275.5 233.9L263.5 235.6Z" fill="#aaaaaa" fill-rule="evenodd"/>
<path d="M269.5 234.6L259.5 235.2L250.5 234.1L247.5 233.1L244.9 231.5L243.5 229.5L243.5 227.5L245.4 224.5L250.5 221L258.5 217.9L267.5 215.9L277.5 214.8L286.5 215L292.8 216.5L294.6 217.5L296.4 219.5L296.6 221.5L295.8 223.5L293.9 225.5L290.5 227.9L286.5 230L280.5 232.2L269.5 234.6Z" fill="#9e9e9e" fill-rule="evenodd"/>
<path d="M266.5 234.6L257.5 234.7L250.5 233.5L247.5 232.3L245.5 230.7L244.7 229.5L244.6 227.5L245.6 225.5L247.5 223.7L252.5 220.7L259.5 218.1L268.5 216.2L278.5 215.3L286.5 215.6L291.5 216.9L293.5 217.9L295 219.5L295.4 221.5L293.9 224.5L291.6 226.5L287.5 228.9L282.5 231.1L276.5 232.9L266.5 234.6Z" fill="#919191" fill-rule="evenodd"/>
<path d="M271.5 233.5L262.5 234.4L253.5 233.7L250.5 232.9L247.5 231.3L245.9 229.5L245.7 227.5L247.7 224.5L252.5 221.3L258.5 218.9L267.5 216.8L276.5 215.8L284.5 216L290.5 217.4L293.6 219.5L294.2 221.5L293.5 223.5L291.7 225.5L289 227.5L281.5 231L271.5 233.5Z" fill="#858585" fill-rule="evenodd"/>
<path d="M268.5 233.6L259.5 234L252.5 232.9L247.9 230.5L247.2 229.5L246.9 227.5L248.8 224.5L253.5 221.4L260.5 218.8L268.5 217.1L277.5 216.3L284.5 216.6L289.5 217.8L291.5 219L292.7 220.5L292.8 222.5L291.6 224.5L286.5 228.2L277.5 231.8L268.5 233.6Z" fill="#787878" fill-rule="evenodd"/>
<path d="M263.5 233.5L256.5 233.2L251.5 231.8L248.5 229.5L248.1 228.5L248.4 226.5L251.2 223.5L255.5 221.1L262.5 218.8L270.5 217.3L278.5 216.8L284.5 217.2L288.9 218.5L291.3 220.5L291.5 222.5L290.4 224.5L287.5 227L283.5 229.1L274.5 232.1L263.5 233.5Z" fill="#6c6c6c" fill-rule="evenodd"/>
<path d="M269.5 232.6L261.5 233.1L254.5 232.1L250.9 230.5L249.9 229.5L249.3 227.5L251.2 224.5L254.5 222.3L260.5 219.9L267.5 218.2L275.5 217.4L282.5 217.6L286.6 218.5L289.7 220.5L290.2 221.5L289.9 223.5L288.2 225.5L285.4 227.5L277.5 230.8L269.5 232.6Z" fill="#5f5f5f" fill-rule="evenodd"/>
<path d="M264.5 232.6L258.5 232.3L253.5 231L251.5 229.7L250.7 228.5L250.9 226.5L253.5 223.7L257.5 221.5L262.5 219.8L270.5 218.3L276.5 217.9L282.5 218.3L286.7 219.5L288.7 221.5L288.5 223.5L287 225.5L281.5 228.8L273.5 231.4L264.5 232.6Z" fill="#535353" fill-rule="evenodd"/>
<path d="M269.5 231.6L262.5 232.1L256.5 231.3L252.9 229.5L252.2 228.5L252.2 226.5L254.5 223.9L258.5 221.8L263.5 220.1L269.5 219L276.5 218.5L281.5 218.8L285.5 220.1L287.1 221.5L287.4 222.5L286.6 224.5L282.7 227.5L276.5 230L269.5 231.6Z" fill="#464646" fill-rule="evenodd"/>
<path d="M272.5 230.5L265.5 231.4L258.5 231L254.7 229.5L253.8 228.5L253.6 226.5L255.2 224.5L258.5 222.5L262.5 221L268.5 219.7L274.5 219.1L279.5 219.3L283.5 220.3L285.3 221.5L285.6 223.5L282.9 226.5L278.5 228.7L272.5 230.5Z" fill="#3a3a3a" fill-rule="evenodd"/>
<path d="M268.5 230.6L263.5 230.9L258.5 230.1L255.5 228.5L255.1 226.5L256.7 224.5L260.3 222.5L264.5 221.1L269.5 220.1L274.5 219.8L279.5 220.1L282.5 221.1L283.9 222.5L283.5 224.5L279.5 227.5L274.5 229.4L268.5 230.6Z" fill="#2d2d2d" fill-rule="evenodd"/>
<path d="M270.5 229.6L265.5 230.2L260.5 229.7L257.6 228.5L256.9 227.5L256.9 226.5L258.5 224.5L260.5 223.3L268.5 221L276.5 220.6L280.4 221.5L281.7 222.5L282 223.5L281.7 224.5L279.5 226.5L275 228.5L270.5 229.6Z" fill="#212121" fill-rule="evenodd"/>
<path d="M271.5 228.7L266.5 229.3L262.5 229.1L259.5 227.8L258.9 226.5L260.5 224.5L262.4 223.5L268.5 221.8L275.5 221.5L278.5 222.3L279.5 223.1L279.6 224.5L277.4 226.5L271.5 228.7Z" fill="#141414" fill-rule="evenodd"/>
<path d="M271.5 227.6L265.5 228.2L262.5 227.6L261.6 226.5L262 225.5L263.2 224.5L267.5 223L273.5 222.5L276.6 223.5L276.9 224.5L276.2 225.5L271.5 227.6Z" fill="#f0f0f0" fill-rule="evenodd"/>
<path d="M268.5 226.5L267.4 226.5L266.3 225.5L268.5 224.4L271.8 224.5L271.8 225.5L268.5 226.5Z" fill="#c3c3c3" fill-rule="evenodd"/>
</g>
<path d="M437.6 5V152" stroke="#000" stroke-width="2.2"/>
<path d="M839 4.5h1M837 6.5h1M715 9.5h1M805 10.5h1M791 12.5h1M793 12.5h1M816 16.5h1M726 18.5h1M802 21.5h1M726 22.5h1M760 23.5h1M725 24.5h1M812 28.5h1M810 31.5h1M815 31.5h1M747 32.5h1M741 33.5h1M754 33.5h1M779 33.5h1M746 34.5h1M811 34.5h1M816 34.5h1M792 35.5h1M883 35.5h1M740 36.5h1M782 36.5h1M844 36.5h1M855 36.5h1M741 37.5h1M766 37.5h1M811 37.5h1M774 38.5h1M835 38.5h1M730 39.5h1M809 39.5h1M766 41.5h1M801 41.5h1M888 41.5h1M738 42.5h1M772 42.5h1M780 42.5h2M776 43.5h1M805 43.5h1M809 43.5h1M750 44.5h1M754 44.5h1M756 44.5h1M781 44.5h1M811 44.5h1M814 44.5h1M820 44.5h1M835 44.5h1M851 44.5h2M747 45.5h1M750 45.5h1M758 45.5h1M798 45.5h1M857 45.5h1M738 46.5h1M802 46.5h1M822 46.5h1M842 46.5h1M795 47.5h1M808 47.5h1M817 47.5h1M836 47.5h1M742 48.5h1M750 48.5h1M771 48.5h1M776 48.5h1M784 48.5h1M800 48.5h1M738 49.5h1M744 49.5h1M774 49.5h1M776 49.5h1M780 49.5h1M787 49.5h1M790 49.5h1M795 49.5h1M797 49.5h1M820 49.5h1M827 49.5h1M841 49.5h1M733 50.5h1M740 50.5h1M755 50.5h1M788 50.5h1M797 50.5h1M800 50.5h2M807 50.5h1M810 50.5h1M827 50.5h1M832 50.5h1M736 51.5h1M741 51.5h1M746 51.5h1M766 51.5h1M783 51.5h1M789 51.5h2M730 52.5h1M735 52.5h1M750 52.5h1M756 52.5h1M768 52.5h1M773 52.5h1M776 52.5h1M781 52.5h1M786 52.5h1M797 52.5h1M807 52.5h1M815 52.5h1M820 52.5h1M835 52.5h2M746 53.5h1M757 53.5h1M764 53.5h2M768 53.5h1M776 53.5h1M780 53.5h1M783 53.5h1M785 53.5h2M789 53.5h1M791 53.5h1M811 53.5h1M815 53.5h1M822 53.5h1M835 53.5h1M870 53.5h1M736 54.5h1M751 54.5h1M753 54.5h1M760 54.5h1M763 54.5h3M773 54.5h1M777 54.5h3M786 54.5h2M794 54.5h4M800 54.5h3M824 54.5h1M866 54.5h1M708 55.5h1M723 55.5h1M741 55.5h1M746 55.5h1M756 55.5h1M758 55.5h1M764 55.5h1M766 55.5h5M774 55.5h1M781 55.5h1M783 55.5h1M787 55.5h1M789 55.5h2M804 55.5h1M810 55.5h2M820 55.5h2M832 55.5h1M834 55.5h1M836 55.5h1M846 55.5h1M861 55.5h1M865 55.5h1M894 55.5h1M659 56.5h1M724 56.5h1M733 56.5h1M742 56.5h1M744 56.5h1M747 56.5h2M755 56.5h1M761 56.5h1M764 56.5h1M770 56.5h1M772 56.5h2M775 56.5h1M777 56.5h4M785 56.5h2M789 56.5h1M791 56.5h2M795 56.5h1M797 56.5h3M801 56.5h1M811 56.5h2M815 56.5h2M827 56.5h1M829 56.5h2M837 56.5h1M862 56.5h1M864 56.5h1M867 56.5h1M893 56.5h1M722 57.5h1M730 57.5h2M736 57.5h2M741 57.5h1M748 57.5h1M764 57.5h1M766 57.5h1M768 57.5h1M770 57.5h1M774 57.5h2M777 57.5h1M779 57.5h1M788 57.5h2M791 57.5h2M801 57.5h1M811 57.5h2M818 57.5h1M825 57.5h2M829 57.5h1M832 57.5h2M850 57.5h1M852 57.5h1M884 57.5h1M724 58.5h1M728 58.5h1M730 58.5h1M749 58.5h4M763 58.5h1M767 58.5h3M772 58.5h1M774 58.5h1M778 58.5h3M782 58.5h2M785 58.5h1M787 58.5h2M792 58.5h2M799 58.5h1M811 58.5h1M814 58.5h1M829 58.5h1M832 58.5h1M836 58.5h1M838 58.5h1M841 58.5h1M846 58.5h1M851 58.5h1M860 58.5h1M871 58.5h1M709 59.5h1M742 59.5h1M747 59.5h1M754 59.5h1M757 59.5h1M762 59.5h5M769 59.5h2M772 59.5h1M774 59.5h6M781 59.5h4M789 59.5h1M791 59.5h1M795 59.5h1M800 59.5h1M804 59.5h1M806 59.5h1M808 59.5h4M814 59.5h1M817 59.5h1M821 59.5h1M827 59.5h2M830 59.5h1M835 59.5h1M839 59.5h1M852 59.5h1M878 59.5h1M731 60.5h1M738 60.5h1M741 60.5h1M745 60.5h1M750 60.5h1M752 60.5h1M761 60.5h1M769 60.5h7M778 60.5h3M782 60.5h1M784 60.5h2M789 60.5h2M793 60.5h2M796 60.5h2M799 60.5h2M802 60.5h2M805 60.5h1M807 60.5h1M810 60.5h1M812 60.5h1M819 60.5h6M827 60.5h1M829 60.5h3M835 60.5h1M838 60.5h1M845 60.5h1M847 60.5h1M854 60.5h1M861 60.5h1M869 60.5h1M731 61.5h2M736 61.5h2M739 61.5h1M750 61.5h1M756 61.5h2M760 61.5h1M765 61.5h2M768 61.5h2M771 61.5h2M775 61.5h7M783 61.5h4M788 61.5h4M793 61.5h2M797 61.5h1M799 61.5h1M801 61.5h2M805 61.5h2M808 61.5h1M810 61.5h1M817 61.5h3M822 61.5h2M826 61.5h1M834 61.5h1M836 61.5h2M843 61.5h1M852 61.5h1M856 61.5h1M859 61.5h1M868 61.5h1M871 61.5h1M720 62.5h1M738 62.5h2M747 62.5h1M753 62.5h1M755 62.5h1M762 62.5h1M765 62.5h2M768 62.5h1M770 62.5h1M773 62.5h5M779 62.5h5M785 62.5h1M787 62.5h3M791 62.5h2M795 62.5h3M799 62.5h3M805 62.5h1M808 62.5h2M813 62.5h1M816 62.5h1M819 62.5h1M824 62.5h1M834 62.5h1M839 62.5h1M847 62.5h1M852 62.5h1M864 62.5h1M870 62.5h1M742 63.5h1M744 63.5h1M746 63.5h2M752 63.5h3M756 63.5h1M760 63.5h1M763 63.5h1M765 63.5h4M770 63.5h3M774 63.5h3M779 63.5h1M781 63.5h2M784 63.5h5M790 63.5h1M792 63.5h2M795 63.5h2M801 63.5h1M806 63.5h3M811 63.5h1M814 63.5h4M821 63.5h1M826 63.5h1M828 63.5h1M830 63.5h1M834 63.5h1M839 63.5h1M842 63.5h1M845 63.5h1M848 63.5h2M852 63.5h1M864 63.5h1M866 63.5h1M873 63.5h1M720 64.5h1M728 64.5h1M735 64.5h1M739 64.5h1M743 64.5h1M746 64.5h1M748 64.5h1M751 64.5h1M755 64.5h1M757 64.5h2M763 64.5h9M774 64.5h7M782 64.5h4M787 64.5h3M791 64.5h6M798 64.5h2M801 64.5h3M805 64.5h1M808 64.5h1M810 64.5h1M818 64.5h5M825 64.5h1M827 64.5h1M831 64.5h5M840 64.5h1M844 64.5h1M853 64.5h1M857 64.5h1M876 64.5h1M886 64.5h2M726 65.5h1M742 65.5h2M747 65.5h1M753 65.5h4M758 65.5h2M763 65.5h4M768 65.5h3M772 65.5h4M777 65.5h4M782 65.5h9M792 65.5h1M794 65.5h1M797 65.5h1M800 65.5h1M802 65.5h1M804 65.5h1M808 65.5h1M812 65.5h1M814 65.5h1M816 65.5h4M822 65.5h1M824 65.5h3M829 65.5h3M833 65.5h1M836 65.5h1M838 65.5h1M840 65.5h4M846 65.5h1M848 65.5h1M851 65.5h1M720 66.5h1M724 66.5h1M734 66.5h1M739 66.5h1M747 66.5h1M751 66.5h1M754 66.5h2M759 66.5h2M762 66.5h7M770 66.5h4M775 66.5h9M785 66.5h5M793 66.5h3M797 66.5h2M801 66.5h3M806 66.5h1M808 66.5h3M813 66.5h3M819 66.5h1M831 66.5h6M838 66.5h1M840 66.5h3M844 66.5h1M846 66.5h4M851 66.5h1M856 66.5h1M858 66.5h2M863 66.5h1M877 66.5h1M880 66.5h1M719 67.5h1M728 67.5h1M735 67.5h1M740 67.5h1M746 67.5h1M748 67.5h1M751 67.5h1M756 67.5h12M769 67.5h3M774 67.5h1M776 67.5h3M780 67.5h2M783 67.5h3M787 67.5h14M802 67.5h2M805 67.5h2M809 67.5h1M811 67.5h3M815 67.5h2M819 67.5h1M822 67.5h1M824 67.5h1M827 67.5h5M834 67.5h2M840 67.5h2M844 67.5h1M846 67.5h1M891 67.5h1M725 68.5h1M727 68.5h1M729 68.5h1M732 68.5h1M734 68.5h2M738 68.5h1M742 68.5h4M747 68.5h5M753 68.5h3M757 68.5h4M762 68.5h2M765 68.5h3M769 68.5h7M777 68.5h7M785 68.5h11M802 68.5h1M804 68.5h1M806 68.5h6M817 68.5h1M819 68.5h3M824 68.5h8M833 68.5h3M837 68.5h2M841 68.5h2M844 68.5h2M849 68.5h2M853 68.5h1M855 68.5h2M859 68.5h1M865 68.5h1M868 68.5h1M870 68.5h1M891 68.5h2M894 68.5h1M719 69.5h1M728 69.5h1M733 69.5h1M736 69.5h1M738 69.5h1M742 69.5h1M745 69.5h1M747 69.5h1M750 69.5h2M754 69.5h6M761 69.5h6M768 69.5h13M782 69.5h7M790 69.5h1M792 69.5h2M795 69.5h4M800 69.5h15M816 69.5h3M820 69.5h1M822 69.5h5M828 69.5h1M830 69.5h1M832 69.5h5M839 69.5h2M842 69.5h2M845 69.5h1M849 69.5h5M855 69.5h1M860 69.5h1M863 69.5h1M875 69.5h2M886 69.5h1M890 69.5h1M675 70.5h1M727 70.5h3M736 70.5h1M738 70.5h1M746 70.5h1M749 70.5h1M752 70.5h1M758 70.5h4M763 70.5h1M765 70.5h14M780 70.5h21M804 70.5h1M806 70.5h1M808 70.5h3M815 70.5h3M819 70.5h3M824 70.5h2M827 70.5h2M830 70.5h2M833 70.5h4M838 70.5h5M844 70.5h2M847 70.5h1M851 70.5h1M858 70.5h1M867 70.5h1M872 70.5h1M877 70.5h2M889 70.5h1M720 71.5h1M728 71.5h1M730 71.5h1M738 71.5h1M748 71.5h1M750 71.5h1M753 71.5h11M765 71.5h14M780 71.5h9M790 71.5h3M794 71.5h1M796 71.5h6M803 71.5h3M807 71.5h4M816 71.5h2M819 71.5h1M821 71.5h3M825 71.5h4M830 71.5h2M834 71.5h5M841 71.5h1M843 71.5h5M849 71.5h2M852 71.5h1M857 71.5h2M864 71.5h2M867 71.5h1M883 71.5h1M893 71.5h1M722 72.5h3M727 72.5h2M732 72.5h1M735 72.5h2M738 72.5h1M740 72.5h1M744 72.5h1M747 72.5h1M750 72.5h1M752 72.5h1M754 72.5h3M758 72.5h3M762 72.5h3M766 72.5h2M769 72.5h5M775 72.5h8M784 72.5h2M787 72.5h10M799 72.5h7M807 72.5h4M814 72.5h3M820 72.5h11M833 72.5h7M841 72.5h1M843 72.5h1M845 72.5h8M854 72.5h4M862 72.5h1M864 72.5h1M868 72.5h1M870 72.5h2M873 72.5h1M715 73.5h1M723 73.5h1M727 73.5h1M729 73.5h1M733 73.5h1M738 73.5h1M741 73.5h1M745 73.5h1M748 73.5h3M753 73.5h9M763 73.5h8M772 73.5h3M776 73.5h1M778 73.5h3M782 73.5h1M785 73.5h2M788 73.5h1M790 73.5h1M793 73.5h5M799 73.5h3M803 73.5h2M807 73.5h3M815 73.5h3M819 73.5h1M821 73.5h1M823 73.5h12M836 73.5h7M844 73.5h2M847 73.5h3M851 73.5h4M856 73.5h1M860 73.5h1M863 73.5h1M865 73.5h2M886 73.5h1M728 74.5h1M733 74.5h2M736 74.5h2M739 74.5h2M742 74.5h2M746 74.5h1M748 74.5h3M752 74.5h10M764 74.5h8M773 74.5h1M784 74.5h5M790 74.5h9M800 74.5h1M802 74.5h6M811 74.5h1M814 74.5h2M817 74.5h1M819 74.5h3M823 74.5h1M825 74.5h1M828 74.5h1M830 74.5h1M832 74.5h4M837 74.5h1M839 74.5h2M842 74.5h6M849 74.5h8M858 74.5h2M872 74.5h1M878 74.5h1M880 74.5h1M730 75.5h2M733 75.5h1M735 75.5h1M740 75.5h2M745 75.5h2M749 75.5h1M752 75.5h8M761 75.5h6M768 75.5h3M787 75.5h3M791 75.5h4M796 75.5h3M800 75.5h3M804 75.5h1M806 75.5h2M809 75.5h1M811 75.5h4M817 75.5h1M819 75.5h1M821 75.5h4M826 75.5h1M829 75.5h1M831 75.5h11M844 75.5h4M851 75.5h2M856 75.5h2M863 75.5h1M865 75.5h1M871 75.5h1M717 76.5h1M731 76.5h1M734 76.5h1M736 76.5h2M741 76.5h1M743 76.5h1M745 76.5h1M747 76.5h3M751 76.5h11M763 76.5h4M768 76.5h1M789 76.5h3M793 76.5h4M798 76.5h2M801 76.5h6M809 76.5h4M814 76.5h4M820 76.5h3M824 76.5h5M830 76.5h3M835 76.5h7M844 76.5h4M850 76.5h5M856 76.5h3M861 76.5h2M864 76.5h1M880 76.5h1M884 76.5h1M704 77.5h1M729 77.5h1M731 77.5h2M734 77.5h2M738 77.5h2M741 77.5h1M743 77.5h2M746 77.5h1M748 77.5h1M751 77.5h1M753 77.5h1M755 77.5h12M791 77.5h3M795 77.5h10M808 77.5h10M819 77.5h8M828 77.5h1M831 77.5h2M834 77.5h5M840 77.5h1M842 77.5h2M845 77.5h14M860 77.5h3M864 77.5h2M868 77.5h2M876 77.5h1M716 78.5h1M727 78.5h1M730 78.5h1M733 78.5h2M738 78.5h4M744 78.5h6M751 78.5h1M754 78.5h3M758 78.5h1M761 78.5h1M763 78.5h3M792 78.5h8M801 78.5h4M807 78.5h2M810 78.5h3M815 78.5h1M817 78.5h17M836 78.5h14M851 78.5h5M857 78.5h1M859 78.5h1M861 78.5h1M863 78.5h1M865 78.5h1M868 78.5h1M722 79.5h1M728 79.5h1M736 79.5h1M739 79.5h1M743 79.5h1M745 79.5h1M748 79.5h1M750 79.5h8M759 79.5h5M794 79.5h4M799 79.5h11M812 79.5h1M814 79.5h1M816 79.5h1M818 79.5h13M832 79.5h3M836 79.5h3M840 79.5h8M849 79.5h1M852 79.5h2M855 79.5h2M858 79.5h5M864 79.5h1M866 79.5h1M890 79.5h1M721 80.5h1M733 80.5h1M738 80.5h3M742 80.5h1M744 80.5h1M746 80.5h1M749 80.5h1M751 80.5h6M758 80.5h4M795 80.5h2M798 80.5h2M802 80.5h8M811 80.5h3M816 80.5h9M826 80.5h3M844 80.5h4M849 80.5h4M854 80.5h1M856 80.5h1M860 80.5h2M863 80.5h4M884 80.5h2M725 81.5h2M729 81.5h1M735 81.5h5M746 81.5h2M749 81.5h10M760 81.5h2M796 81.5h3M801 81.5h3M805 81.5h3M809 81.5h1M811 81.5h2M814 81.5h1M817 81.5h2M820 81.5h2M823 81.5h3M848 81.5h6M855 81.5h1M857 81.5h6M864 81.5h2M867 81.5h2M872 81.5h2M883 81.5h1M736 82.5h2M740 82.5h1M742 82.5h2M745 82.5h1M747 82.5h1M749 82.5h2M752 82.5h3M756 82.5h3M760 82.5h1M797 82.5h16M814 82.5h4M819 82.5h5M850 82.5h7M859 82.5h1M861 82.5h4M867 82.5h1M871 82.5h1M875 82.5h1M735 83.5h2M738 83.5h1M740 83.5h1M744 83.5h1M747 83.5h3M751 83.5h2M754 83.5h5M760 83.5h1M798 83.5h1M800 83.5h7M810 83.5h12M853 83.5h1M855 83.5h10M867 83.5h2M722 84.5h1M727 84.5h1M729 84.5h5M736 84.5h1M741 84.5h1M745 84.5h9M759 84.5h1M798 84.5h2M802 84.5h8M811 84.5h6M818 84.5h1M853 84.5h6M860 84.5h4M865 84.5h4M719 85.5h1M725 85.5h1M727 85.5h2M734 85.5h2M737 85.5h1M739 85.5h1M741 85.5h3M745 85.5h2M749 85.5h10M799 85.5h5M805 85.5h14M856 85.5h1M858 85.5h2M861 85.5h5M868 85.5h1M879 85.5h1M717 86.5h1M723 86.5h1M725 86.5h1M727 86.5h1M731 86.5h1M734 86.5h1M736 86.5h4M742 86.5h3M746 86.5h6M754 86.5h4M801 86.5h1M803 86.5h7M811 86.5h7M856 86.5h1M858 86.5h1M860 86.5h3M864 86.5h5M870 86.5h1M881 86.5h1M885 86.5h1M888 86.5h1M717 87.5h1M725 87.5h1M733 87.5h1M735 87.5h1M737 87.5h3M742 87.5h2M745 87.5h12M800 87.5h1M802 87.5h2M805 87.5h1M807 87.5h4M813 87.5h4M857 87.5h1M860 87.5h9M871 87.5h1M875 87.5h1M879 87.5h1M884 87.5h1M725 88.5h2M729 88.5h1M733 88.5h1M737 88.5h2M740 88.5h1M742 88.5h1M746 88.5h4M751 88.5h2M754 88.5h3M801 88.5h4M806 88.5h10M859 88.5h9M870 88.5h1M872 88.5h1M876 88.5h1M884 88.5h1M719 89.5h1M725 89.5h1M730 89.5h1M732 89.5h1M735 89.5h2M738 89.5h1M741 89.5h1M744 89.5h11M802 89.5h13M859 89.5h4M864 89.5h3M868 89.5h3M874 89.5h1M726 90.5h2M730 90.5h2M735 90.5h4M741 90.5h4M746 90.5h10M802 90.5h2M805 90.5h7M813 90.5h1M860 90.5h2M863 90.5h3M867 90.5h6M878 90.5h1M728 91.5h1M730 91.5h1M733 91.5h1M735 91.5h1M737 91.5h1M739 91.5h9M749 91.5h6M803 91.5h1M805 91.5h6M812 91.5h1M861 91.5h1M863 91.5h3M867 91.5h6M874 91.5h1M879 91.5h1M726 92.5h1M729 92.5h3M734 92.5h1M737 92.5h1M739 92.5h2M742 92.5h1M744 92.5h8M753 92.5h1M804 92.5h8M862 92.5h7M870 92.5h1M872 92.5h1M874 92.5h1M878 92.5h2M725 93.5h1M729 93.5h2M732 93.5h1M734 93.5h2M737 93.5h9M747 93.5h1M749 93.5h2M752 93.5h1M754 93.5h1M804 93.5h5M810 93.5h1M863 93.5h7M872 93.5h2M876 93.5h1M721 94.5h1M725 94.5h1M732 94.5h1M736 94.5h3M741 94.5h2M744 94.5h2M747 94.5h7M805 94.5h1M807 94.5h3M862 94.5h7M870 94.5h2M875 94.5h2M714 95.5h1M721 95.5h1M725 95.5h1M730 95.5h1M735 95.5h4M741 95.5h7M749 95.5h5M806 95.5h4M864 95.5h3M868 95.5h1M870 95.5h3M876 95.5h4M882 95.5h2M887 95.5h1M724 96.5h1M727 96.5h1M729 96.5h1M732 96.5h1M734 96.5h3M739 96.5h5M745 96.5h9M807 96.5h1M863 96.5h3M867 96.5h7M876 96.5h1M888 96.5h1M720 97.5h1M727 97.5h1M731 97.5h1M738 97.5h14M864 97.5h2M867 97.5h3M871 97.5h2M874 97.5h2M881 97.5h1M724 98.5h2M732 98.5h1M734 98.5h4M741 98.5h4M747 98.5h3M751 98.5h2M864 98.5h6M871 98.5h1M873 98.5h1M731 99.5h1M733 99.5h1M736 99.5h1M738 99.5h1M742 99.5h1M744 99.5h3M748 99.5h1M751 99.5h2M864 99.5h3M868 99.5h6M881 99.5h1M883 99.5h1M714 100.5h1M721 100.5h1M732 100.5h2M735 100.5h1M737 100.5h5M743 100.5h2M746 100.5h2M749 100.5h3M864 100.5h10M875 100.5h3M724 101.5h1M726 101.5h3M732 101.5h3M736 101.5h1M738 101.5h10M749 101.5h2M865 101.5h3M869 101.5h2M872 101.5h3M878 101.5h2M718 102.5h1M722 102.5h1M732 102.5h2M735 102.5h1M739 102.5h3M743 102.5h1M745 102.5h2M748 102.5h3M865 102.5h2M868 102.5h1M871 102.5h2M874 102.5h2M881 102.5h1M891 102.5h1M721 103.5h1M728 103.5h1M732 103.5h2M735 103.5h8M744 103.5h4M749 103.5h3M865 103.5h5M871 103.5h2M877 103.5h2M880 103.5h1M714 104.5h1M725 104.5h1M727 104.5h1M729 104.5h1M733 104.5h3M737 104.5h2M740 104.5h1M742 104.5h6M749 104.5h3M866 104.5h6M873 104.5h2M877 104.5h1M879 104.5h1M884 104.5h1M720 105.5h2M723 105.5h1M729 105.5h1M732 105.5h1M737 105.5h4M742 105.5h6M749 105.5h3M865 105.5h2M869 105.5h6M877 105.5h2M723 106.5h1M726 106.5h2M729 106.5h1M732 106.5h1M735 106.5h1M739 106.5h2M744 106.5h7M865 106.5h2M868 106.5h3M873 106.5h2M720 107.5h2M723 107.5h1M727 107.5h1M730 107.5h2M733 107.5h1M737 107.5h1M739 107.5h3M743 107.5h7M865 107.5h3M871 107.5h5M877 107.5h1M881 107.5h1M719 108.5h1M732 108.5h2M736 108.5h15M865 108.5h10M877 108.5h1M705 109.5h1M719 109.5h1M731 109.5h2M734 109.5h2M737 109.5h3M741 109.5h3M745 109.5h6M864 109.5h1M866 109.5h1M868 109.5h3M873 109.5h3M894 109.5h1M724 110.5h1M726 110.5h1M729 110.5h2M733 110.5h1M735 110.5h3M739 110.5h3M744 110.5h1M746 110.5h5M864 110.5h1M866 110.5h3M871 110.5h3M875 110.5h1M878 110.5h1M735 111.5h6M742 111.5h3M746 111.5h5M864 111.5h10M875 111.5h3M887 111.5h1M722 112.5h1M727 112.5h1M731 112.5h2M734 112.5h2M737 112.5h2M740 112.5h2M743 112.5h1M745 112.5h6M864 112.5h2M868 112.5h5M885 112.5h1M718 113.5h1M725 113.5h1M728 113.5h1M730 113.5h13M744 113.5h7M863 113.5h3M867 113.5h3M871 113.5h3M875 113.5h1M720 114.5h1M725 114.5h2M730 114.5h1M734 114.5h1M736 114.5h1M739 114.5h9M749 114.5h2M863 114.5h10M875 114.5h1M722 115.5h1M730 115.5h2M733 115.5h2M736 115.5h2M739 115.5h2M742 115.5h5M748 115.5h3M862 115.5h8M872 115.5h2M876 115.5h1M879 115.5h1M720 116.5h1M728 116.5h3M733 116.5h1M735 116.5h1M738 116.5h3M742 116.5h1M744 116.5h2M747 116.5h4M862 116.5h12M878 116.5h1M892 116.5h1M710 117.5h1M726 117.5h2M731 117.5h2M736 117.5h1M739 117.5h2M742 117.5h4M747 117.5h4M861 117.5h7M869 117.5h5M875 117.5h1M716 118.5h1M726 118.5h1M730 118.5h1M734 118.5h1M736 118.5h1M738 118.5h2M741 118.5h8M750 118.5h2M808 118.5h4M861 118.5h2M864 118.5h3M868 118.5h1M870 118.5h1M872 118.5h2M876 118.5h1M712 119.5h1M729 119.5h2M733 119.5h1M735 119.5h3M739 119.5h13M808 119.5h5M860 119.5h5M866 119.5h4M872 119.5h1M875 119.5h1M687 120.5h1M717 120.5h1M729 120.5h1M737 120.5h3M741 120.5h6M748 120.5h2M751 120.5h1M807 120.5h4M812 120.5h2M859 120.5h6M866 120.5h7M879 120.5h1M730 121.5h4M735 121.5h2M738 121.5h7M747 121.5h5M807 121.5h8M858 121.5h1M860 121.5h10M871 121.5h2M874 121.5h2M721 122.5h1M724 122.5h1M727 122.5h1M730 122.5h1M732 122.5h3M737 122.5h3M741 122.5h1M743 122.5h8M806 122.5h10M857 122.5h15M878 122.5h1M731 123.5h4M736 123.5h1M739 123.5h7M749 123.5h3M806 123.5h9M817 123.5h1M856 123.5h3M860 123.5h6M867 123.5h4M877 123.5h1M728 124.5h1M730 124.5h2M734 124.5h6M741 124.5h2M744 124.5h1M746 124.5h7M806 124.5h4M811 124.5h8M856 124.5h1M859 124.5h6M866 124.5h3M870 124.5h1M872 124.5h1M723 125.5h3M728 125.5h1M731 125.5h1M734 125.5h1M736 125.5h1M739 125.5h4M744 125.5h4M749 125.5h4M805 125.5h3M809 125.5h11M853 125.5h9M863 125.5h1M865 125.5h2M871 125.5h1M875 125.5h2M722 126.5h1M728 126.5h6M737 126.5h2M740 126.5h2M744 126.5h7M752 126.5h1M805 126.5h7M813 126.5h3M817 126.5h2M821 126.5h1M852 126.5h5M859 126.5h1M861 126.5h1M863 126.5h1M866 126.5h3M887 126.5h1M726 127.5h1M728 127.5h4M734 127.5h2M740 127.5h3M745 127.5h5M751 127.5h3M805 127.5h5M811 127.5h3M816 127.5h2M819 127.5h4M850 127.5h18M870 127.5h1M874 127.5h1M877 127.5h1M714 128.5h1M720 128.5h1M728 128.5h1M731 128.5h5M738 128.5h1M740 128.5h5M746 128.5h5M752 128.5h2M804 128.5h4M809 128.5h7M817 128.5h1M819 128.5h3M823 128.5h1M825 128.5h1M848 128.5h8M857 128.5h6M864 128.5h1M727 129.5h1M731 129.5h2M736 129.5h1M739 129.5h3M743 129.5h2M746 129.5h5M752 129.5h1M804 129.5h10M816 129.5h1M819 129.5h5M825 129.5h1M827 129.5h1M829 129.5h1M844 129.5h1M846 129.5h7M854 129.5h2M857 129.5h2M860 129.5h1M863 129.5h1M867 129.5h1M871 129.5h1M708 130.5h1M717 130.5h1M719 130.5h1M726 130.5h1M731 130.5h2M735 130.5h1M737 130.5h1M739 130.5h1M743 130.5h6M750 130.5h3M806 130.5h18M825 130.5h7M834 130.5h4M839 130.5h6M846 130.5h6M853 130.5h12M866 130.5h1M869 130.5h1M872 130.5h1M889 130.5h1M726 131.5h2M730 131.5h1M734 131.5h1M738 131.5h1M741 131.5h9M751 131.5h4M803 131.5h10M815 131.5h7M823 131.5h15M839 131.5h3M843 131.5h15M859 131.5h2M862 131.5h1M865 131.5h1M720 132.5h1M723 132.5h2M730 132.5h2M735 132.5h17M753 132.5h2M803 132.5h10M815 132.5h6M822 132.5h7M830 132.5h1M832 132.5h1M834 132.5h3M838 132.5h7M847 132.5h8M856 132.5h2M859 132.5h1M862 132.5h1M865 132.5h1M875 132.5h1M724 133.5h1M732 133.5h1M736 133.5h1M738 133.5h1M741 133.5h8M751 133.5h5M802 133.5h2M805 133.5h1M807 133.5h2M810 133.5h2M813 133.5h2M817 133.5h6M824 133.5h3M828 133.5h2M831 133.5h1M834 133.5h10M845 133.5h1M849 133.5h3M853 133.5h2M856 133.5h3M866 133.5h1M869 133.5h1M728 134.5h1M731 134.5h2M736 134.5h1M738 134.5h2M741 134.5h6M748 134.5h1M750 134.5h6M802 134.5h13M816 134.5h2M820 134.5h11M832 134.5h5M838 134.5h9M848 134.5h2M853 134.5h3M857 134.5h1M861 134.5h1M863 134.5h1M874 134.5h1M695 135.5h1M728 135.5h1M736 135.5h1M740 135.5h4M745 135.5h5M754 135.5h3M802 135.5h14M818 135.5h2M821 135.5h1M823 135.5h7M831 135.5h13M845 135.5h1M848 135.5h2M851 135.5h3M855 135.5h1M858 135.5h1M864 135.5h1M868 135.5h1M871 135.5h1M660 136.5h1M727 136.5h1M731 136.5h3M736 136.5h9M746 136.5h2M749 136.5h9M801 136.5h5M807 136.5h12M820 136.5h2M823 136.5h4M828 136.5h8M838 136.5h2M841 136.5h1M843 136.5h2M846 136.5h5M853 136.5h1M856 136.5h1M861 136.5h1M864 136.5h2M867 136.5h1M869 136.5h1M876 136.5h2M711 137.5h1M724 137.5h1M729 137.5h3M733 137.5h2M738 137.5h2M743 137.5h1M745 137.5h3M749 137.5h7M757 137.5h1M802 137.5h6M809 137.5h5M815 137.5h4M820 137.5h1M825 137.5h6M832 137.5h5M838 137.5h1M844 137.5h1M847 137.5h3M851 137.5h1M853 137.5h3M857 137.5h2M861 137.5h1M867 137.5h1M874 137.5h1M729 138.5h2M735 138.5h7M744 138.5h5M751 138.5h2M754 138.5h3M758 138.5h1M800 138.5h2M804 138.5h4M809 138.5h2M813 138.5h3M817 138.5h3M821 138.5h5M827 138.5h6M835 138.5h6M844 138.5h3M849 138.5h4M856 138.5h1M858 138.5h1M860 138.5h1M868 138.5h1M873 138.5h1M875 138.5h1M877 138.5h1M735 139.5h2M738 139.5h2M742 139.5h2M745 139.5h1M748 139.5h4M754 139.5h6M800 139.5h1M802 139.5h4M807 139.5h11M820 139.5h3M824 139.5h2M828 139.5h1M831 139.5h1M833 139.5h1M835 139.5h2M838 139.5h11M850 139.5h1M852 139.5h1M854 139.5h1M857 139.5h1M863 139.5h2M871 139.5h1M878 139.5h2M726 140.5h1M732 140.5h2M736 140.5h3M740 140.5h1M742 140.5h2M745 140.5h2M749 140.5h7M757 140.5h4M801 140.5h1M804 140.5h2M807 140.5h7M816 140.5h1M818 140.5h1M820 140.5h2M823 140.5h1M826 140.5h2M829 140.5h4M834 140.5h8M843 140.5h5M849 140.5h1M851 140.5h2M854 140.5h1M859 140.5h1M862 140.5h3M866 140.5h3M871 140.5h1M720 141.5h2M725 141.5h1M728 141.5h1M732 141.5h2M737 141.5h1M740 141.5h4M745 141.5h2M748 141.5h5M755 141.5h6M799 141.5h1M802 141.5h4M807 141.5h2M810 141.5h4M815 141.5h2M818 141.5h1M820 141.5h1M822 141.5h1M824 141.5h2M827 141.5h1M829 141.5h1M831 141.5h3M835 141.5h2M839 141.5h4M844 141.5h3M848 141.5h1M850 141.5h1M854 141.5h1M858 141.5h1M861 141.5h1M864 141.5h1M868 141.5h3M877 141.5h1M718 142.5h1M722 142.5h1M725 142.5h1M729 142.5h1M734 142.5h4M739 142.5h1M741 142.5h3M746 142.5h1M748 142.5h4M753 142.5h9M800 142.5h10M811 142.5h1M814 142.5h1M817 142.5h1M820 142.5h2M824 142.5h1M827 142.5h2M830 142.5h1M834 142.5h7M842 142.5h1M845 142.5h1M850 142.5h1M854 142.5h1M857 142.5h1M861 142.5h1M871 142.5h1M722 143.5h1M726 143.5h1M730 143.5h3M737 143.5h4M742 143.5h2M745 143.5h1M747 143.5h11M759 143.5h3M798 143.5h10M809 143.5h3M813 143.5h2M816 143.5h3M820 143.5h6M827 143.5h1M829 143.5h2M832 143.5h1M834 143.5h3M838 143.5h2M843 143.5h1M846 143.5h4M860 143.5h1M865 143.5h1M869 143.5h1M888 143.5h1M726 144.5h2M731 144.5h1M735 144.5h1M737 144.5h1M739 144.5h1M741 144.5h1M744 144.5h2M748 144.5h2M753 144.5h5M759 144.5h3M763 144.5h1M798 144.5h21M820 144.5h2M823 144.5h5M831 144.5h1M833 144.5h1M835 144.5h6M842 144.5h1M844 144.5h1M846 144.5h2M851 144.5h3M856 144.5h1M860 144.5h1M863 144.5h1M867 144.5h1M873 144.5h1M715 145.5h1M726 145.5h1M733 145.5h4M738 145.5h1M740 145.5h1M742 145.5h1M744 145.5h5M752 145.5h1M754 145.5h11M798 145.5h3M802 145.5h2M805 145.5h1M807 145.5h10M819 145.5h2M823 145.5h1M825 145.5h2M829 145.5h1M831 145.5h3M836 145.5h5M842 145.5h2M845 145.5h2M849 145.5h2M853 145.5h1M858 145.5h2M865 145.5h1M868 145.5h1M874 145.5h1M646 146.5h1M704 146.5h1M717 146.5h1M728 146.5h1M732 146.5h2M740 146.5h1M742 146.5h7M750 146.5h2M753 146.5h5M759 146.5h8M797 146.5h6M804 146.5h7M812 146.5h6M819 146.5h1M821 146.5h4M826 146.5h1M828 146.5h6M835 146.5h6M842 146.5h1M847 146.5h2M850 146.5h1M853 146.5h1M856 146.5h1M858 146.5h1M862 146.5h1M867 146.5h3M728 147.5h3M735 147.5h2M739 147.5h3M743 147.5h1M745 147.5h2M748 147.5h4M753 147.5h2M756 147.5h4M761 147.5h2M764 147.5h5M797 147.5h1M799 147.5h7M808 147.5h6M815 147.5h5M821 147.5h11M833 147.5h2M841 147.5h1M843 147.5h2M846 147.5h2M850 147.5h1M852 147.5h1M863 147.5h1M866 147.5h1M717 148.5h1M723 148.5h1M728 148.5h1M730 148.5h2M733 148.5h4M739 148.5h2M743 148.5h1M745 148.5h1M747 148.5h2M750 148.5h1M753 148.5h7M761 148.5h1M763 148.5h8M796 148.5h14M811 148.5h9M821 148.5h5M827 148.5h1M831 148.5h8M843 148.5h3M847 148.5h1M849 148.5h3M853 148.5h3M859 148.5h2M864 148.5h2M869 148.5h1M873 148.5h1M877 148.5h1M714 149.5h1M718 149.5h3M738 149.5h2M741 149.5h1M743 149.5h2M747 149.5h1M749 149.5h2M752 149.5h4M757 149.5h16M795 149.5h11M808 149.5h1M811 149.5h1M813 149.5h14M828 149.5h3M832 149.5h7M840 149.5h1M842 149.5h2M845 149.5h1M847 149.5h1M852 149.5h1M855 149.5h4M860 149.5h1M864 149.5h1M874 149.5h1M876 149.5h1M878 149.5h2M705 150.5h1M728 150.5h1M733 150.5h1M735 150.5h1M738 150.5h3M742 150.5h1M746 150.5h1M748 150.5h2M752 150.5h1M754 150.5h16M771 150.5h3M795 150.5h9M805 150.5h5M813 150.5h8M822 150.5h12M835 150.5h4M841 150.5h1M843 150.5h1M846 150.5h1M851 150.5h2M855 150.5h2M875 150.5h1M878 150.5h1M882 150.5h1M887 150.5h1M714 151.5h1M719 151.5h1M724 151.5h3M732 151.5h3M738 151.5h2M741 151.5h2M746 151.5h2M750 151.5h1M753 151.5h2M756 151.5h1M759 151.5h18M794 151.5h12M807 151.5h1M809 151.5h2M812 151.5h1M814 151.5h5M821 151.5h1M823 151.5h3M827 151.5h7M835 151.5h2M840 151.5h7M849 151.5h3M853 151.5h1M855 151.5h2M858 151.5h2M861 151.5h1M866 151.5h2M870 151.5h1M879 151.5h1M886 151.5h2M711 152.5h1M726 152.5h1M729 152.5h3M733 152.5h1M743 152.5h4M748 152.5h1M750 152.5h2M753 152.5h2M758 152.5h1M760 152.5h16M777 152.5h2M793 152.5h1M795 152.5h14M810 152.5h3M814 152.5h8M823 152.5h1M825 152.5h4M830 152.5h2M833 152.5h3M837 152.5h1M839 152.5h1M842 152.5h2M845 152.5h2M849 152.5h1M851 152.5h6M858 152.5h1M865 152.5h1M869 152.5h1M873 152.5h1M876 152.5h1M884 152.5h1M715 153.5h1M724 153.5h1M731 153.5h1M733 153.5h1M735 153.5h1M738 153.5h4M743 153.5h1M745 153.5h2M749 153.5h7M757 153.5h12M770 153.5h5M776 153.5h4M792 153.5h4M797 153.5h13M812 153.5h2M815 153.5h4M820 153.5h4M825 153.5h8M834 153.5h3M839 153.5h3M843 153.5h3M847 153.5h1M849 153.5h1M851 153.5h1M853 153.5h2M860 153.5h2M866 153.5h1M873 153.5h1M876 153.5h1M878 153.5h1M881 153.5h1M712 154.5h1M726 154.5h1M728 154.5h1M732 154.5h3M736 154.5h4M742 154.5h3M746 154.5h3M750 154.5h1M752 154.5h1M755 154.5h2M759 154.5h11M771 154.5h11M790 154.5h7M798 154.5h1M800 154.5h1M802 154.5h2M806 154.5h2M809 154.5h4M814 154.5h1M816 154.5h2M819 154.5h2M822 154.5h2M825 154.5h6M832 154.5h2M835 154.5h2M844 154.5h1M847 154.5h4M853 154.5h3M859 154.5h1M862 154.5h2M867 154.5h1M869 154.5h1M873 154.5h1M878 154.5h1M890 154.5h1M727 155.5h1M732 155.5h1M736 155.5h1M739 155.5h1M741 155.5h1M743 155.5h1M746 155.5h2M749 155.5h2M756 155.5h1M759 155.5h23M783 155.5h2M786 155.5h5M792 155.5h2M795 155.5h14M810 155.5h6M817 155.5h2M821 155.5h2M825 155.5h7M834 155.5h3M838 155.5h2M841 155.5h1M843 155.5h3M847 155.5h2M850 155.5h1M852 155.5h2M855 155.5h2M860 155.5h2M863 155.5h1M866 155.5h1M869 155.5h1M875 155.5h1M724 156.5h1M730 156.5h3M735 156.5h1M737 156.5h1M743 156.5h1M751 156.5h2M755 156.5h3M759 156.5h4M764 156.5h11M776 156.5h4M781 156.5h4M787 156.5h5M793 156.5h3M797 156.5h2M800 156.5h2M803 156.5h2M806 156.5h5M812 156.5h2M815 156.5h11M827 156.5h1M829 156.5h6M838 156.5h4M843 156.5h2M847 156.5h1M849 156.5h1M853 156.5h1M856 156.5h2M860 156.5h1M862 156.5h1M865 156.5h1M867 156.5h2M882 156.5h1M892 156.5h1M724 157.5h1M733 157.5h1M735 157.5h2M738 157.5h1M742 157.5h1M744 157.5h2M747 157.5h1M749 157.5h1M751 157.5h1M756 157.5h2M759 157.5h2M762 157.5h18M781 157.5h5M787 157.5h2M790 157.5h10M801 157.5h9M812 157.5h4M817 157.5h6M824 157.5h1M826 157.5h14M841 157.5h4M848 157.5h1M850 157.5h2M853 157.5h1M856 157.5h1M860 157.5h2M864 157.5h1M868 157.5h2M873 157.5h1M877 157.5h1M885 157.5h1M888 157.5h1M729 158.5h1M732 158.5h1M734 158.5h1M737 158.5h1M741 158.5h2M745 158.5h1M747 158.5h2M752 158.5h1M755 158.5h1M757 158.5h1M759 158.5h1M761 158.5h1M764 158.5h5M770 158.5h8M779 158.5h5M785 158.5h7M793 158.5h4M798 158.5h13M812 158.5h6M819 158.5h8M828 158.5h6M838 158.5h2M841 158.5h2M844 158.5h1M846 158.5h2M849 158.5h7M858 158.5h1M861 158.5h1M868 158.5h1M877 158.5h1M725 159.5h2M729 159.5h1M733 159.5h1M736 159.5h3M740 159.5h1M743 159.5h2M748 159.5h1M752 159.5h4M757 159.5h2M760 159.5h1M762 159.5h1M765 159.5h2M768 159.5h8M777 159.5h2M780 159.5h8M789 159.5h10M800 159.5h6M807 159.5h17M826 159.5h1M828 159.5h3M832 159.5h15M849 159.5h1M853 159.5h2M856 159.5h1M860 159.5h2M878 159.5h1M723 160.5h1M727 160.5h1M736 160.5h1M738 160.5h1M744 160.5h2M749 160.5h3M754 160.5h3M761 160.5h2M764 160.5h17M783 160.5h4M789 160.5h8M798 160.5h3M803 160.5h2M806 160.5h2M810 160.5h1M812 160.5h1M814 160.5h4M819 160.5h17M837 160.5h3M841 160.5h4M846 160.5h3M854 160.5h2M857 160.5h2M861 160.5h1M866 160.5h1M878 160.5h1M880 160.5h1M718 161.5h1M730 161.5h3M735 161.5h1M738 161.5h1M741 161.5h1M744 161.5h1M746 161.5h1M748 161.5h1M752 161.5h1M755 161.5h1M760 161.5h8M769 161.5h1M771 161.5h1M773 161.5h9M783 161.5h9M793 161.5h8M802 161.5h16M820 161.5h4M825 161.5h6M832 161.5h5M839 161.5h3M845 161.5h1M848 161.5h3M852 161.5h8M869 161.5h1M880 161.5h1M724 162.5h2M736 162.5h3M740 162.5h2M748 162.5h1M751 162.5h1M753 162.5h1M762 162.5h1M764 162.5h8M773 162.5h1M775 162.5h2M778 162.5h3M782 162.5h2M785 162.5h1M787 162.5h4M792 162.5h10M803 162.5h4M808 162.5h6M815 162.5h4M820 162.5h13M834 162.5h9M844 162.5h4M849 162.5h4M855 162.5h1M858 162.5h1M860 162.5h3M867 162.5h1M872 162.5h1M874 162.5h1M890 162.5h1M715 163.5h1M722 163.5h1M724 163.5h1M726 163.5h2M733 163.5h3M739 163.5h1M742 163.5h1M744 163.5h5M751 163.5h1M753 163.5h8M762 163.5h8M773 163.5h7M781 163.5h6M788 163.5h7M797 163.5h1M800 163.5h4M806 163.5h8M815 163.5h4M820 163.5h2M823 163.5h13M837 163.5h7M845 163.5h1M847 163.5h2M851 163.5h1M855 163.5h1M861 163.5h2M868 163.5h2M871 163.5h1M873 163.5h1M877 163.5h1M887 163.5h1M721 164.5h1M732 164.5h1M734 164.5h2M737 164.5h1M747 164.5h2M753 164.5h14M768 164.5h1M770 164.5h2M774 164.5h12M787 164.5h2M790 164.5h3M795 164.5h8M804 164.5h1M806 164.5h1M809 164.5h4M816 164.5h4M830 164.5h4M835 164.5h2M838 164.5h8M847 164.5h4M853 164.5h1M855 164.5h2M858 164.5h1M860 164.5h1M865 164.5h1M868 164.5h1M872 164.5h1M733 165.5h1M738 165.5h1M741 165.5h1M743 165.5h1M746 165.5h2M750 165.5h1M756 165.5h5M762 165.5h2M765 165.5h3M770 165.5h2M773 165.5h2M776 165.5h2M779 165.5h1M782 165.5h4M788 165.5h9M798 165.5h14M813 165.5h1M815 165.5h1M833 165.5h4M839 165.5h4M844 165.5h5M850 165.5h1M856 165.5h2M861 165.5h1M863 165.5h1M865 165.5h1M871 165.5h1M877 165.5h1M879 165.5h1M727 166.5h2M736 166.5h2M742 166.5h2M746 166.5h2M753 166.5h1M764 166.5h1M766 166.5h1M769 166.5h2M772 166.5h2M775 166.5h1M777 166.5h2M780 166.5h1M782 166.5h8M791 166.5h7M799 166.5h3M803 166.5h1M805 166.5h9M834 166.5h1M836 166.5h5M842 166.5h3M846 166.5h1M849 166.5h1M851 166.5h1M853 166.5h1M855 166.5h1M861 166.5h1M865 166.5h1M873 166.5h1M883 166.5h1M885 166.5h1M735 167.5h1M737 167.5h1M739 167.5h1M745 167.5h2M748 167.5h1M750 167.5h1M754 167.5h1M756 167.5h1M758 167.5h3M762 167.5h1M765 167.5h1M768 167.5h2M771 167.5h11M783 167.5h7M791 167.5h8M801 167.5h1M804 167.5h5M810 167.5h4M836 167.5h6M843 167.5h1M846 167.5h3M850 167.5h1M852 167.5h1M855 167.5h2M858 167.5h3M872 167.5h2M878 167.5h1M719 168.5h1M731 168.5h2M739 168.5h1M743 168.5h1M745 168.5h1M749 168.5h1M754 168.5h1M756 168.5h3M761 168.5h4M766 168.5h10M777 168.5h1M779 168.5h5M786 168.5h1M788 168.5h2M791 168.5h4M796 168.5h1M798 168.5h2M801 168.5h2M804 168.5h1M806 168.5h7M837 168.5h5M843 168.5h1M845 168.5h1M849 168.5h3M854 168.5h2M858 168.5h2M867 168.5h1M889 168.5h1M719 169.5h1M729 169.5h1M732 169.5h1M735 169.5h1M741 169.5h3M745 169.5h1M749 169.5h2M753 169.5h2M757 169.5h2M762 169.5h1M764 169.5h2M767 169.5h2M770 169.5h3M777 169.5h2M780 169.5h6M789 169.5h5M795 169.5h1M797 169.5h1M799 169.5h1M801 169.5h2M804 169.5h8M838 169.5h1M841 169.5h4M846 169.5h3M850 169.5h1M853 169.5h1M855 169.5h2M859 169.5h2M867 169.5h1M869 169.5h1M883 169.5h1M721 170.5h1M731 170.5h3M738 170.5h1M740 170.5h3M746 170.5h1M748 170.5h1M750 170.5h3M758 170.5h1M760 170.5h1M764 170.5h1M766 170.5h2M769 170.5h1M771 170.5h1M773 170.5h3M777 170.5h2M780 170.5h6M788 170.5h4M793 170.5h4M798 170.5h5M804 170.5h8M838 170.5h7M846 170.5h1M848 170.5h3M852 170.5h1M856 170.5h2M860 170.5h3M865 170.5h1M881 170.5h1M888 170.5h1M705 171.5h1M722 171.5h1M732 171.5h1M734 171.5h1M739 171.5h1M741 171.5h1M743 171.5h3M749 171.5h1M751 171.5h1M758 171.5h3M762 171.5h1M767 171.5h4M775 171.5h4M780 171.5h1M782 171.5h4M789 171.5h15M806 171.5h3M839 171.5h1M842 171.5h5M849 171.5h2M854 171.5h1M856 171.5h4M861 171.5h1M864 171.5h1M869 171.5h1M877 171.5h1M880 171.5h1M703 172.5h1M718 172.5h1M721 172.5h1M727 172.5h1M732 172.5h1M734 172.5h1M736 172.5h1M738 172.5h2M743 172.5h1M746 172.5h1M748 172.5h1M750 172.5h1M752 172.5h2M758 172.5h1M761 172.5h4M767 172.5h2M772 172.5h1M774 172.5h2M779 172.5h9M789 172.5h2M792 172.5h3M796 172.5h15M839 172.5h8M848 172.5h1M850 172.5h1M852 172.5h2M855 172.5h1M857 172.5h2M860 172.5h1M865 172.5h1M869 172.5h1M873 172.5h1M722 173.5h1M731 173.5h1M737 173.5h2M744 173.5h1M749 173.5h1M753 173.5h4M760 173.5h1M762 173.5h2M765 173.5h1M771 173.5h1M773 173.5h5M779 173.5h2M783 173.5h7M791 173.5h2M798 173.5h1M801 173.5h2M804 173.5h7M839 173.5h2M842 173.5h9M852 173.5h6M859 173.5h2M863 173.5h1M867 173.5h1M881 173.5h1M706 174.5h1M713 174.5h1M725 174.5h1M731 174.5h1M736 174.5h2M748 174.5h1M750 174.5h1M752 174.5h1M757 174.5h1M759 174.5h3M764 174.5h1M766 174.5h1M769 174.5h3M773 174.5h2M776 174.5h2M780 174.5h1M782 174.5h1M785 174.5h2M789 174.5h1M791 174.5h1M793 174.5h4M799 174.5h5M805 174.5h6M840 174.5h7M848 174.5h3M852 174.5h4M857 174.5h1M860 174.5h2M865 174.5h3M872 174.5h1M874 174.5h1M699 175.5h1M718 175.5h1M721 175.5h1M741 175.5h1M743 175.5h1M747 175.5h1M750 175.5h1M756 175.5h1M758 175.5h1M760 175.5h3M764 175.5h5M770 175.5h1M772 175.5h2M776 175.5h2M779 175.5h5M786 175.5h7M795 175.5h4M800 175.5h2M803 175.5h1M805 175.5h5M841 175.5h7M849 175.5h5M855 175.5h4M860 175.5h2M863 175.5h4M871 175.5h2M887 175.5h1M720 176.5h1M722 176.5h1M728 176.5h2M734 176.5h1M743 176.5h1M746 176.5h1M759 176.5h1M762 176.5h1M766 176.5h1M769 176.5h3M774 176.5h1M776 176.5h3M780 176.5h4M786 176.5h7M794 176.5h17M842 176.5h20M863 176.5h1M865 176.5h1M867 176.5h2M870 176.5h1M872 176.5h1M722 177.5h1M725 177.5h1M729 177.5h2M733 177.5h1M740 177.5h1M744 177.5h1M746 177.5h1M756 177.5h1M763 177.5h4M769 177.5h3M774 177.5h2M780 177.5h1M782 177.5h1M784 177.5h4M789 177.5h8M798 177.5h2M801 177.5h5M808 177.5h4M848 177.5h6M855 177.5h6M862 177.5h4M867 177.5h1M869 177.5h3M715 178.5h1M717 178.5h1M721 178.5h1M723 178.5h1M726 178.5h1M730 178.5h1M732 178.5h1M734 178.5h3M744 178.5h2M747 178.5h1M749 178.5h1M754 178.5h1M756 178.5h1M759 178.5h2M763 178.5h1M768 178.5h1M773 178.5h3M777 178.5h1M779 178.5h1M782 178.5h5M790 178.5h5M796 178.5h12M809 178.5h3M852 178.5h17M873 178.5h1M882 178.5h2M722 179.5h1M728 179.5h1M731 179.5h1M734 179.5h1M738 179.5h2M743 179.5h1M745 179.5h1M750 179.5h1M752 179.5h2M759 179.5h1M762 179.5h2M766 179.5h2M772 179.5h1M774 179.5h2M777 179.5h4M785 179.5h2M789 179.5h1M791 179.5h4M796 179.5h1M799 179.5h1M803 179.5h10M856 179.5h8M866 179.5h1M868 179.5h4M877 179.5h2M677 180.5h1M709 180.5h1M712 180.5h2M715 180.5h1M718 180.5h1M720 180.5h2M733 180.5h1M738 180.5h1M740 180.5h2M743 180.5h1M745 180.5h2M751 180.5h1M757 180.5h1M759 180.5h1M763 180.5h1M769 180.5h6M776 180.5h1M782 180.5h1M784 180.5h1M788 180.5h1M790 180.5h3M795 180.5h2M798 180.5h3M802 180.5h4M807 180.5h6M859 180.5h8M868 180.5h2M872 180.5h1M879 180.5h1M890 180.5h1M697 181.5h1M699 181.5h1M703 181.5h1M705 181.5h1M709 181.5h1M711 181.5h1M715 181.5h1M719 181.5h2M722 181.5h2M725 181.5h5M731 181.5h3M736 181.5h1M738 181.5h1M740 181.5h3M744 181.5h4M752 181.5h1M754 181.5h4M762 181.5h2M767 181.5h2M774 181.5h2M777 181.5h5M783 181.5h3M789 181.5h1M792 181.5h2M795 181.5h1M797 181.5h4M802 181.5h12M862 181.5h2M865 181.5h7M876 181.5h2M707 182.5h1M709 182.5h1M711 182.5h1M715 182.5h1M717 182.5h3M722 182.5h4M727 182.5h3M732 182.5h3M736 182.5h5M743 182.5h1M746 182.5h11M763 182.5h3M770 182.5h2M774 182.5h1M776 182.5h1M778 182.5h1M781 182.5h1M783 182.5h4M788 182.5h2M793 182.5h2M796 182.5h1M799 182.5h4M804 182.5h10M863 182.5h3M867 182.5h4M872 182.5h4M878 182.5h2M679 183.5h1M705 183.5h1M709 183.5h1M712 183.5h30M747 183.5h6M754 183.5h1M756 183.5h3M760 183.5h1M762 183.5h4M768 183.5h3M772 183.5h2M778 183.5h8M788 183.5h1M793 183.5h4M799 183.5h7M807 183.5h6M865 183.5h8M874 183.5h2M878 183.5h1M700 184.5h1M703 184.5h1M708 184.5h3M712 184.5h1M714 184.5h4M720 184.5h1M722 184.5h3M726 184.5h11M740 184.5h2M743 184.5h3M747 184.5h6M754 184.5h3M759 184.5h2M762 184.5h3M767 184.5h3M771 184.5h3M777 184.5h1M780 184.5h1M782 184.5h1M784 184.5h3M790 184.5h2M793 184.5h3M797 184.5h1M799 184.5h7M809 184.5h1M811 184.5h2M867 184.5h1M869 184.5h7M877 184.5h2M880 184.5h1M698 185.5h1M701 185.5h2M706 185.5h5M713 185.5h3M717 185.5h9M727 185.5h1M742 185.5h13M756 185.5h2M759 185.5h4M764 185.5h1M767 185.5h1M769 185.5h5M777 185.5h1M779 185.5h1M785 185.5h3M789 185.5h1M793 185.5h4M798 185.5h1M800 185.5h12M867 185.5h8M876 185.5h5M885 185.5h1M695 186.5h1M698 186.5h6M707 186.5h2M710 186.5h5M716 186.5h1M718 186.5h2M749 186.5h1M751 186.5h11M763 186.5h3M767 186.5h3M775 186.5h2M779 186.5h1M784 186.5h8M793 186.5h1M795 186.5h1M799 186.5h1M801 186.5h2M804 186.5h5M810 186.5h1M868 186.5h7M876 186.5h2M880 186.5h1M695 187.5h2M698 187.5h2M703 187.5h14M755 187.5h4M760 187.5h6M767 187.5h2M773 187.5h4M778 187.5h5M784 187.5h1M786 187.5h1M788 187.5h2M794 187.5h8M803 187.5h2M806 187.5h1M808 187.5h3M869 187.5h8M878 187.5h2M882 187.5h1M693 188.5h1M696 188.5h1M698 188.5h1M700 188.5h13M756 188.5h1M760 188.5h13M774 188.5h6M781 188.5h4M786 188.5h1M788 188.5h4M793 188.5h2M797 188.5h4M802 188.5h3M808 188.5h2M870 188.5h9M880 188.5h3M694 189.5h1M696 189.5h2M699 189.5h13M758 189.5h8M767 189.5h19M787 189.5h1M789 189.5h5M795 189.5h8M804 189.5h5M871 189.5h9M881 189.5h1M883 189.5h1M887 189.5h2M644 190.5h1M678 190.5h1M693 190.5h2M696 190.5h1M698 190.5h12M761 190.5h4M766 190.5h13M780 190.5h4M785 190.5h2M788 190.5h1M790 190.5h6M797 190.5h6M804 190.5h2M807 190.5h1M871 190.5h11M883 190.5h1M886 190.5h1M676 191.5h1M693 191.5h1M696 191.5h4M701 191.5h8M765 191.5h15M789 191.5h5M795 191.5h6M802 191.5h5M871 191.5h4M877 191.5h5M685 192.5h1M687 192.5h1M691 192.5h1M693 192.5h1M695 192.5h6M702 192.5h1M704 192.5h4M872 192.5h1M874 192.5h2M877 192.5h2M880 192.5h2M883 192.5h2M678 193.5h2M690 193.5h1M692 193.5h1M695 193.5h1M697 193.5h9M872 193.5h6M879 193.5h2M882 193.5h2M886 193.5h1M889 193.5h1M893 193.5h1M680 194.5h1M693 194.5h1M696 194.5h1M698 194.5h5M704 194.5h2M872 194.5h5M879 194.5h1M881 194.5h3M685 195.5h1M692 195.5h1M695 195.5h1M698 195.5h4M703 195.5h3M872 195.5h7M881 195.5h2M885 195.5h1M668 196.5h1M686 196.5h1M694 196.5h2M697 196.5h6M704 196.5h2M871 196.5h1M873 196.5h7M690 197.5h1M695 197.5h13M871 197.5h10M883 197.5h1M885 197.5h1M887 197.5h1M677 198.5h1M698 198.5h1M700 198.5h9M765 198.5h6M772 198.5h7M780 198.5h1M789 198.5h2M792 198.5h15M872 198.5h6M880 198.5h2M664 199.5h1M678 199.5h1M688 199.5h1M694 199.5h1M699 199.5h2M702 199.5h3M706 199.5h4M761 199.5h4M766 199.5h4M771 199.5h30M802 199.5h7M870 199.5h8M879 199.5h1M881 199.5h1M888 199.5h1M689 200.5h1M693 200.5h1M698 200.5h1M700 200.5h3M704 200.5h6M711 200.5h1M758 200.5h3M762 200.5h3M766 200.5h9M776 200.5h5M782 200.5h3M786 200.5h1M788 200.5h3M792 200.5h5M798 200.5h3M802 200.5h4M807 200.5h3M869 200.5h7M877 200.5h2M698 201.5h2M703 201.5h2M706 201.5h1M708 201.5h2M711 201.5h3M756 201.5h2M759 201.5h9M769 201.5h4M776 201.5h5M782 201.5h1M784 201.5h6M791 201.5h8M800 201.5h1M802 201.5h3M806 201.5h3M810 201.5h2M868 201.5h7M877 201.5h3M881 201.5h1M691 202.5h1M694 202.5h1M696 202.5h1M699 202.5h2M703 202.5h11M715 202.5h2M753 202.5h8M762 202.5h1M764 202.5h2M767 202.5h1M769 202.5h4M774 202.5h1M776 202.5h3M781 202.5h3M785 202.5h1M787 202.5h3M792 202.5h2M798 202.5h3M802 202.5h4M807 202.5h6M867 202.5h13M888 202.5h1M894 202.5h1M681 203.5h1M699 203.5h1M702 203.5h4M707 203.5h2M710 203.5h2M715 203.5h2M718 203.5h3M749 203.5h2M752 203.5h7M760 203.5h5M766 203.5h5M773 203.5h1M775 203.5h1M777 203.5h7M785 203.5h3M789 203.5h1M793 203.5h1M795 203.5h2M798 203.5h5M804 203.5h10M866 203.5h3M870 203.5h3M875 203.5h1M877 203.5h1M879 203.5h1M681 204.5h1M693 204.5h1M699 204.5h4M706 204.5h1M709 204.5h13M723 204.5h1M725 204.5h3M742 204.5h9M753 204.5h1M755 204.5h8M764 204.5h3M768 204.5h1M770 204.5h2M775 204.5h3M779 204.5h5M785 204.5h7M795 204.5h3M800 204.5h4M805 204.5h6M812 204.5h1M814 204.5h1M866 204.5h10M877 204.5h1M888 204.5h1M705 205.5h1M709 205.5h1M711 205.5h12M724 205.5h14M739 205.5h3M743 205.5h5M749 205.5h10M761 205.5h2M765 205.5h1M767 205.5h2M770 205.5h1M772 205.5h1M774 205.5h1M776 205.5h7M785 205.5h3M789 205.5h11M801 205.5h3M805 205.5h2M808 205.5h9M864 205.5h12M878 205.5h1M892 205.5h1M691 206.5h1M706 206.5h1M708 206.5h3M713 206.5h3M717 206.5h14M732 206.5h3M736 206.5h2M740 206.5h5M746 206.5h7M754 206.5h1M756 206.5h1M758 206.5h1M760 206.5h1M762 206.5h3M766 206.5h3M771 206.5h1M779 206.5h4M784 206.5h1M786 206.5h1M788 206.5h11M801 206.5h1M803 206.5h1M805 206.5h2M808 206.5h5M814 206.5h1M816 206.5h3M861 206.5h7M869 206.5h4M882 206.5h1M692 207.5h1M716 207.5h1M718 207.5h3M722 207.5h1M726 207.5h2M729 207.5h1M731 207.5h1M733 207.5h2M736 207.5h3M740 207.5h4M745 207.5h9M755 207.5h2M759 207.5h1M765 207.5h1M771 207.5h1M773 207.5h1M775 207.5h2M778 207.5h1M780 207.5h1M782 207.5h6M789 207.5h4M794 207.5h2M797 207.5h3M801 207.5h10M812 207.5h1M814 207.5h5M859 207.5h2M862 207.5h4M868 207.5h2M871 207.5h3M878 207.5h1M891 207.5h1M683 208.5h1M717 208.5h2M720 208.5h2M724 208.5h6M731 208.5h2M734 208.5h1M741 208.5h2M745 208.5h2M748 208.5h1M751 208.5h1M754 208.5h1M758 208.5h1M760 208.5h3M767 208.5h1M771 208.5h2M774 208.5h1M778 208.5h1M780 208.5h3M786 208.5h2M789 208.5h2M792 208.5h1M795 208.5h3M803 208.5h2M806 208.5h1M808 208.5h1M810 208.5h3M814 208.5h4M819 208.5h5M857 208.5h1M859 208.5h1M861 208.5h4M866 208.5h1M868 208.5h1M871 208.5h2M891 208.5h1M714 209.5h1M716 209.5h2M719 209.5h2M723 209.5h1M726 209.5h1M730 209.5h4M737 209.5h4M742 209.5h1M744 209.5h1M746 209.5h4M751 209.5h1M756 209.5h1M758 209.5h1M763 209.5h1M766 209.5h2M770 209.5h2M773 209.5h1M775 209.5h1M777 209.5h1M779 209.5h1M782 209.5h1M784 209.5h3M788 209.5h5M795 209.5h1M798 209.5h2M801 209.5h3M808 209.5h4M813 209.5h15M852 209.5h1M854 209.5h2M857 209.5h3M861 209.5h1M863 209.5h5M869 209.5h2M873 209.5h1M875 209.5h1M879 209.5h1M677 210.5h1M684 210.5h1M709 210.5h1M717 210.5h1M720 210.5h2M726 210.5h1M728 210.5h1M730 210.5h1M735 210.5h1M738 210.5h1M741 210.5h1M744 210.5h4M749 210.5h2M755 210.5h1M761 210.5h1M768 210.5h1M771 210.5h1M773 210.5h5M780 210.5h1M784 210.5h3M788 210.5h1M794 210.5h2M797 210.5h1M799 210.5h2M804 210.5h1M808 210.5h1M811 210.5h7M819 210.5h11M831 210.5h3M847 210.5h2M850 210.5h3M854 210.5h5M860 210.5h4M865 210.5h3M870 210.5h2M887 210.5h1M711 211.5h1M725 211.5h1M733 211.5h2M736 211.5h1M738 211.5h1M740 211.5h1M745 211.5h2M748 211.5h1M751 211.5h2M754 211.5h1M757 211.5h1M761 211.5h1M768 211.5h1M776 211.5h2M779 211.5h1M781 211.5h1M783 211.5h3M788 211.5h3M792 211.5h1M794 211.5h1M796 211.5h1M812 211.5h3M816 211.5h2M820 211.5h3M824 211.5h3M828 211.5h13M842 211.5h5M849 211.5h6M856 211.5h4M861 211.5h2M864 211.5h1M866 211.5h1M741 212.5h1M746 212.5h1M748 212.5h1M761 212.5h2M777 212.5h1M779 212.5h1M783 212.5h3M789 212.5h1M791 212.5h1M793 212.5h1M800 212.5h1M802 212.5h1M804 212.5h1M809 212.5h1M811 212.5h1M816 212.5h4M823 212.5h2M826 212.5h6M834 212.5h16M851 212.5h2M854 212.5h2M857 212.5h1M859 212.5h2M874 212.5h2M878 212.5h1M675 213.5h1M720 213.5h1M747 213.5h1M752 213.5h1M755 213.5h1M758 213.5h1M768 213.5h1M771 213.5h1M776 213.5h1M779 213.5h7M787 213.5h3M791 213.5h2M794 213.5h2M798 213.5h1M803 213.5h1M805 213.5h1M811 213.5h1M815 213.5h1M817 213.5h5M823 213.5h6M830 213.5h10M841 213.5h4M851 213.5h1M853 213.5h4M860 213.5h1M863 213.5h1M867 213.5h1M869 213.5h1M732 214.5h1M737 214.5h1M752 214.5h1M764 214.5h1M766 214.5h1M769 214.5h6M777 214.5h1M779 214.5h4M785 214.5h2M789 214.5h4M794 214.5h3M806 214.5h2M810 214.5h1M815 214.5h2M820 214.5h1M824 214.5h2M827 214.5h4M834 214.5h2M837 214.5h2M840 214.5h4M845 214.5h5M851 214.5h1M854 214.5h2M858 214.5h1M863 214.5h1M868 214.5h1M872 214.5h1M707 215.5h1M738 215.5h2M746 215.5h1M751 215.5h1M754 215.5h1M765 215.5h1M775 215.5h1M777 215.5h1M779 215.5h1M781 215.5h1M784 215.5h6M793 215.5h1M796 215.5h1M804 215.5h2M809 215.5h1M820 215.5h2M824 215.5h2M827 215.5h1M829 215.5h1M832 215.5h7M841 215.5h4M846 215.5h2M853 215.5h2M745 216.5h1M753 216.5h1M755 216.5h1M764 216.5h2M774 216.5h1M777 216.5h1M780 216.5h2M783 216.5h1M785 216.5h5M792 216.5h2M795 216.5h2M799 216.5h1M801 216.5h1M804 216.5h1M819 216.5h1M822 216.5h1M829 216.5h1M831 216.5h2M835 216.5h1M840 216.5h2M845 216.5h1M852 216.5h2M856 216.5h1M742 217.5h1M745 217.5h1M763 217.5h1M768 217.5h1M772 217.5h3M777 217.5h1M781 217.5h5M787 217.5h5M793 217.5h2M796 217.5h3M801 217.5h1M806 217.5h1M811 217.5h1M821 217.5h1M825 217.5h1M827 217.5h1M831 217.5h1M833 217.5h1M840 217.5h1M843 217.5h1M849 217.5h1M863 217.5h1M702 218.5h1M726 218.5h1M737 218.5h1M743 218.5h1M764 218.5h1M771 218.5h2M774 218.5h1M777 218.5h1M779 218.5h2M782 218.5h6M789 218.5h2M792 218.5h3M796 218.5h1M798 218.5h4M836 218.5h3M843 218.5h1M757 219.5h1M761 219.5h2M768 219.5h1M770 219.5h1M773 219.5h1M780 219.5h1M783 219.5h4M790 219.5h2M795 219.5h6M805 219.5h1M807 219.5h1M840 219.5h1M760 220.5h1M768 220.5h1M773 220.5h1M775 220.5h3M785 220.5h1M787 220.5h2M790 220.5h1M792 220.5h1M795 220.5h1M797 220.5h1M800 220.5h2M812 220.5h1M827 220.5h1M833 220.5h1M728 221.5h1M751 221.5h1M765 221.5h1M771 221.5h2M775 221.5h1M777 221.5h2M781 221.5h6M789 221.5h3M793 221.5h4M798 221.5h1M759 222.5h1M774 222.5h1M776 222.5h2M781 222.5h3M785 222.5h4M790 222.5h1M792 222.5h1M794 222.5h1M799 222.5h1M808 222.5h1M810 222.5h1M739 223.5h1M768 223.5h1M774 223.5h1M776 223.5h2M780 223.5h3M784 223.5h1M787 223.5h2M790 223.5h1M793 223.5h2M796 223.5h2M799 223.5h1M802 223.5h2M809 223.5h1M811 223.5h1M815 223.5h1M826 223.5h1M728 224.5h1M773 224.5h5M779 224.5h8M789 224.5h2M792 224.5h1M794 224.5h1M796 224.5h1M798 224.5h1M800 224.5h1M809 224.5h1M767 225.5h1M775 225.5h3M779 225.5h3M784 225.5h9M794 225.5h3M802 225.5h2M840 225.5h1M708 226.5h1M776 226.5h4M781 226.5h4M786 226.5h2M790 226.5h2M793 226.5h1M795 226.5h1M797 226.5h1M805 226.5h1M807 226.5h1M716 227.5h1M773 227.5h2M778 227.5h1M781 227.5h2M784 227.5h1M786 227.5h4M791 227.5h1M794 227.5h2M807 227.5h1M848 227.5h1M769 228.5h1M773 228.5h1M776 228.5h3M780 228.5h2M783 228.5h1M785 228.5h1M787 228.5h4M792 228.5h3M796 228.5h2M799 228.5h2M802 228.5h2M772 229.5h1M775 229.5h2M778 229.5h3M783 229.5h1M786 229.5h5M792 229.5h3M796 229.5h1M798 229.5h2M804 229.5h1M776 230.5h3M781 230.5h6M788 230.5h1M790 230.5h3M795 230.5h1M800 230.5h1M807 230.5h1M775 231.5h4M781 231.5h3M785 231.5h1M787 231.5h1M792 231.5h2M797 231.5h1M801 231.5h3M806 231.5h1M770 232.5h1M772 232.5h2M775 232.5h1M778 232.5h1M780 232.5h3M785 232.5h1M787 232.5h1M789 232.5h2M792 232.5h3M796 232.5h1M801 232.5h1M804 232.5h1M810 232.5h1M773 233.5h2M776 233.5h1M778 233.5h1M781 233.5h2M784 233.5h1M786 233.5h2M789 233.5h1M791 233.5h2M794 233.5h3M799 233.5h2M804 233.5h1M808 233.5h1M767 234.5h1M772 234.5h2M778 234.5h3M782 234.5h1M784 234.5h3M788 234.5h5M794 234.5h1M798 234.5h2M769 235.5h2M772 235.5h1M775 235.5h1M777 235.5h8M787 235.5h1M789 235.5h1M793 235.5h4M802 235.5h4M771 236.5h1M773 236.5h1M777 236.5h3M782 236.5h1M784 236.5h5M790 236.5h1M792 236.5h3M797 236.5h1M801 236.5h2M807 236.5h2M769 237.5h1M772 237.5h2M780 237.5h1M783 237.5h6M790 237.5h3M795 237.5h2M799 237.5h1M805 237.5h1M762 238.5h1M773 238.5h2M776 238.5h1M778 238.5h1M782 238.5h9M792 238.5h1M794 238.5h1M796 238.5h2M800 238.5h1M804 238.5h1M765 239.5h1M771 239.5h2M774 239.5h1M777 239.5h2M780 239.5h2M783 239.5h1M786 239.5h1M788 239.5h3M792 239.5h2M799 239.5h1M747 240.5h1M758 240.5h1M774 240.5h2M777 240.5h1M779 240.5h2M784 240.5h5M790 240.5h3M794 240.5h2M797 240.5h1M806 240.5h1M770 241.5h1M772 241.5h3M777 241.5h3M783 241.5h3M787 241.5h2M790 241.5h1M792 241.5h1M794 241.5h1M796 241.5h1M798 241.5h1M800 241.5h1M805 241.5h1M763 242.5h1M771 242.5h1M775 242.5h4M781 242.5h4M787 242.5h2M793 242.5h1M795 242.5h6M807 242.5h1M862 242.5h1M776 243.5h4M781 243.5h1M786 243.5h4M791 243.5h2M794 243.5h1M797 243.5h3M769 244.5h1M778 244.5h2M781 244.5h1M783 244.5h1M787 244.5h1M789 244.5h4M794 244.5h1M798 244.5h1M800 244.5h2M803 244.5h1M805 244.5h1M763 245.5h1M766 245.5h1M775 245.5h1M781 245.5h1M783 245.5h1M787 245.5h5M794 245.5h1M797 245.5h1M776 246.5h6M783 246.5h1M786 246.5h3M790 246.5h3M797 246.5h2M825 246.5h1M780 247.5h4M785 247.5h1M787 247.5h1M790 247.5h1M792 247.5h1M795 247.5h1M798 247.5h1M803 247.5h1M772 248.5h1M776 248.5h1M778 248.5h3M782 248.5h5M788 248.5h1M791 248.5h1M793 248.5h3M797 248.5h1M802 248.5h1M764 249.5h1M772 249.5h1M774 249.5h1M779 249.5h2M788 249.5h6M795 249.5h1M797 249.5h4M802 249.5h1M771 250.5h3M775 250.5h1M780 250.5h2M790 250.5h1M795 250.5h1M797 250.5h1M804 250.5h1M766 251.5h1M778 251.5h1M782 251.5h3M788 251.5h3M771 252.5h1M774 252.5h1M782 252.5h2M785 252.5h1M787 252.5h1M789 252.5h1M792 252.5h1M794 252.5h1M806 252.5h1M739 253.5h1M744 253.5h1M772 253.5h1M774 253.5h1M776 253.5h1M779 253.5h1M781 253.5h1M783 253.5h1M785 253.5h1M788 253.5h3M792 253.5h1M795 253.5h1" stroke="#000" stroke-width="1" fill="none"/>
<path d="M789.5 154.8L786.5 155.4L782.5 154.6L765.5 145.3L762.3 142.5L759 138.5L756 133.5L753.8 128.5L752.2 122.5L751.2 115.5L751.1 109.5L752 102.5L753.8 95.5L756 90.5L759 85.5L762.5 81.3L767.5 77.3L773.5 74.7L779.5 73.9L785.5 75L790.5 77.3L795.5 81.3L799.8 86.5L805.5 95.3L807.5 96.6L809.5 95.6L815.6 88.5L820.5 84.5L825.5 81.9L832.5 79.9L839.5 79.7L846.5 81.1L852.5 83.9L858.2 88.5L861.3 92.5L863.3 96.5L864.7 101.5L864.9 105.5L864.3 110.5L862.9 114.5L860.6 118.5L857.2 122.5L852.5 126.1L846.5 128.9L840.5 130.2L833.5 130.2L827.5 128.9L822.5 126.7L818.5 124.2L811.5 118.2L809.5 117.5L807.5 119.6L796.6 147.5L793.5 152L789.5 154.8ZM845.5 210.5L833.5 210.4L823.5 208.3L815.5 204.7L807.8 198.5L804.5 197.6L786.5 198.6L765.5 198.1L762.5 198.8L754.5 202L747.5 203.8L739.5 204.7L732.5 204.8L722.5 203.8L713.5 201.3L708.9 198.5L707.4 196.5L707.1 194.5L708 192.5L709.5 191L715.5 188L723.5 186L733.5 185.2L743.5 185.7L750.5 186.8L762.5 191.2L766.5 192L785.5 191.4L802.5 192.3L805.5 192L808.5 190.2L813.4 183.5L813.6 181.5L811.7 177.5L810.9 174.5L811.4 171.5L812.5 169.4L814.5 167.3L818.5 165.1L822.5 164.1L827.5 164.1L831.5 165.1L835.7 167.5L837.6 169.5L839.9 174.5L841.5 176.1L854.5 179L861.5 181.6L867.4 185.5L871.1 190.5L871.8 194.5L871.1 197.5L869.3 200.5L866.2 203.5L862.5 205.9L857.5 208L850.5 209.9L845.5 210.5ZM786.5 153.6L781.5 152.1L767.5 143.7L762.7 139.5L759.6 135.5L756.9 130.5L754.7 124.5L753.4 117.5L753.1 110.5L753.8 103.5L755.7 96.5L758.4 90.5L761.8 85.5L766.5 81L771.5 78.1L776.5 76.8L781.5 76.8L786.5 78.1L790.5 80.3L794.5 83.6L797.8 87.5L801.4 93.5L805 101.5L806.8 107.5L806.1 113.5L804 122.5L796.1 145.5L793.7 149.5L791.5 151.7L789.5 152.9L786.5 153.6ZM838.5 128.5L833.5 128.4L828.5 127.3L824.5 125.7L820.5 123.3L816.3 119.5L813 115.5L810.1 110.5L809.1 106.5L809.8 102.5L811.8 97.5L814.1 93.5L817.5 89.4L821.5 86.1L825.5 83.8L830.5 82.1L834.5 81.5L839.5 81.5L844.5 82.4L849.5 84.3L853.5 86.8L857.5 90.5L860.2 94.5L862 98.5L862.9 103.5L862.8 107.5L861.6 112.5L859.7 116.5L856.5 120.6L852.5 123.9L848.5 126.2L843.5 127.9L838.5 128.5ZM845.5 209.6L834.5 209.6L823.5 207.3L816.5 203.9L809.5 197.7L805.5 195.8L787.5 197.7L764.5 196.8L750.5 202.2L741.5 203.7L734.5 204L724.5 203.2L716.5 201.2L711.5 198.5L709.8 196.5L709.5 194.5L711.5 191.5L716.5 188.8L724.5 186.8L734.5 186L741.5 186.3L750.5 187.8L762.5 192.7L765.5 193.3L786.5 192.2L805.5 194.1L809.5 191.5L815.5 183.5L815.7 181.5L813.4 177.5L812.6 174.5L813 171.5L814.3 169.5L816.5 167.5L819.5 166L823.5 165.2L826.5 165.2L830.5 166L834.8 168.5L836.5 170.5L838.4 175.5L839.5 176.7L841.5 177.6L853.5 179.8L859.5 181.9L865.5 185.6L868.2 188.5L869.3 190.5L870.1 193.5L869.7 196.5L868.2 199.5L865.4 202.5L861.5 205.1L857.5 206.9L850.5 208.9L845.5 209.6ZM786.5 151.5L784.5 151.3L781.5 149.8L775.5 145.2L768.5 141.2L764.3 137.5L761.1 133.5L758.9 129.5L757 124.5L755.7 118.5L755.2 111.5L755.8 104.5L757.3 98.5L760 92.5L763.4 87.5L767.5 83.6L771.5 81.2L776.5 79.7L781.5 79.7L785.5 80.8L789.5 82.8L793.5 86.2L796.9 90.5L799.6 95.5L801.9 101.5L802.9 106.5L803.1 113.5L802.1 120.5L795.7 142.5L793.8 146.5L791.5 149.4L789.5 150.8L786.5 151.5ZM839.5 126.5L835.5 126.6L830.5 125.8L826.5 124.4L822.5 122.2L819.2 119.5L816 115.5L813.9 111.5L813 108.5L812.7 104.5L813.4 100.5L814.9 96.5L817.5 92.5L823.5 87.2L827.5 85.1L832.5 83.7L837.5 83.3L842.5 83.9L847.5 85.6L851.5 87.8L854.7 90.5L857.8 94.5L859.7 98.5L860.7 102.5L860.8 106.5L860 110.5L858.4 114.5L855.6 118.5L852.5 121.4L848.5 124L843.5 125.8L839.5 126.5ZM845.5 208.6L834.5 208.6L829.5 207.9L823.5 206.1L816.8 202.5L811 196.5L810.3 194.5L810.6 193.5L812.9 189.5L818.2 182.5L817.6 180.5L814.9 176.5L814.4 174.5L815 171.5L817.5 168.7L820.5 167.2L823.5 166.5L827.5 166.7L830.5 167.6L834.4 170.5L835.5 172.5L836.4 176.5L837.5 177.7L839.6 178.5L850.5 180.1L856.5 181.9L862.5 185L866.3 188.5L867.9 191.5L868.1 195.5L867 198.5L864.5 201.4L860.5 204.3L856.5 206.1L850.5 207.9L845.5 208.6ZM742.5 202.6L731.5 203L720.5 201.3L714.3 198.5L712.4 196.5L712.1 194.5L714.3 191.5L719.5 189L727.5 187.4L735.5 186.9L744.5 187.7L750.5 189L756.2 191.5L760.2 194.5L760.2 195.5L759.2 196.5L753.5 199.8L747.5 201.8L742.5 202.6ZM788.5 196.5L778.5 196.2L774.9 195.5L774.9 194.5L784.5 193.4L789.5 193.6L794.6 194.5L794.6 195.5L788.5 196.5ZM788.5 148.8L785.5 149.1L782.5 147.8L776.5 142.6L769.5 138.3L766.5 135.8L763.7 132.5L761.3 128.5L759.2 123.5L758.1 118.5L757.5 112.5L757.9 106.5L759.2 100.5L761.3 95.5L764.4 90.5L767.5 87.3L771.5 84.6L776.5 82.9L780.5 82.8L784.5 83.7L788.5 85.7L791.5 88.2L794.3 91.5L796.8 95.5L798.8 100.5L800.1 105.5L800.6 111.5L800.2 117.5L795 139.5L792.3 145.5L790.5 147.6L788.5 148.8ZM837.5 124.5L833.5 124.3L829.5 123.3L825.5 121.5L822.5 119.4L819.6 116.5L817.1 112.5L816 109.5L815.4 105.5L815.8 101.5L817.1 97.5L821.5 91.5L824.5 89.1L828.5 87.1L832.5 85.9L836.5 85.5L840.5 85.7L844.5 86.7L848.5 88.5L851.5 90.6L854.3 93.5L856.3 96.5L857.9 100.5L858.5 104.5L858.1 108.5L856.8 112.5L855.1 115.5L852.5 118.5L849.5 120.9L845.5 122.9L841.5 124.1L837.5 124.5ZM845.5 207.6L836.5 207.8L826.5 205.9L819.2 202.5L814.2 197.5L813 194.5L813.9 191.5L815.8 188.5L821.4 182.5L821 180.5L818 177.5L816.7 174.5L817.5 171.5L819.5 169.6L824.5 168.1L829.5 169L831.7 170.5L833.1 172.5L833.6 177.5L834.5 178.7L836.8 179.5L849.5 181L855.5 182.8L861.5 186L864.9 189.5L866.2 192.5L866.2 195.5L864.9 198.5L863.3 200.5L859.5 203.3L855.5 205.2L845.5 207.6ZM742.5 201.5L732.5 202L723.5 200.8L719.5 199.4L716.5 197.7L715.4 196.5L715 194.5L717.5 191.6L721.5 189.8L728.5 188.4L735.5 188L741.5 188.4L748.5 189.8L753.5 192.1L755.9 194.5L755.3 196.5L752.5 198.5L748.5 200.2L742.5 201.5ZM788.5 145.9L786.5 146.3L783.5 145.4L777.4 139.5L767.6 132.5L763.5 126.5L760.8 118.5L760.2 112.5L760.5 107.5L761.5 102.5L763.5 97.5L765.9 93.5L769.5 89.8L772.5 87.9L776.5 86.5L779.5 86.3L783.5 87.1L786.5 88.4L789.5 90.7L792.1 93.5L794.6 97.5L797.3 105.5L797.9 110.5L797.6 116.5L793.4 137.5L791.5 142.8L788.5 145.9ZM841.5 121.6L834.5 122L827.5 119.8L822.1 115.5L820 112.5L818.8 109.5L818.2 103.5L820 97.5L824.5 92.2L830.5 88.9L834.5 88L838.5 87.9L845.5 89.7L851 93.5L853.4 96.5L854.8 99.5L855.8 103.5L855.8 106.5L854.8 110.5L853.4 113.5L848.5 118.6L845.5 120.3L841.5 121.6ZM828.5 177.7L825.5 178.5L822.3 177.5L820.3 175.5L820 173.5L820.4 172.5L821.5 171.4L823.7 170.5L826.5 170.5L828.5 171.4L829.7 172.5L830.3 174.5L829.6 176.5L828.5 177.7ZM844.5 206.5L838.5 206.8L832.5 206.2L827.5 205L822.5 202.8L818.5 199.9L816 196.5L815.5 193.5L816.6 190.5L819 187.5L823.5 184L827.5 181.7L830.5 181L840.5 181.1L848.5 182L855.5 184.2L860.5 187.2L863.3 190.5L864.2 193.5L863.8 196.5L861.9 199.5L858.5 202.2L854.5 204.2L849.5 205.8L844.5 206.5ZM739.5 200.6L731.5 200.7L724.5 199.5L720 197.5L719 196.5L718.5 194.5L720 192.5L723.5 190.8L728.5 189.7L735.5 189.2L741.5 189.7L746.5 190.8L750.2 192.5L751.9 194.5L751.3 196.5L748.5 198.4L744.5 199.8L739.5 200.6ZM788.5 141.6L786.5 142.4L784.5 141.8L778.5 135.6L770.5 130.1L766.5 125.1L764 118.5L763.3 109.5L764.2 104.5L765.7 100.5L768.1 96.5L770.5 93.9L773.5 91.8L776.5 90.8L779.5 90.5L782.5 91L787.5 93.9L791.5 98.9L794.1 105.5L794.8 111.5L794.3 117.5L792.4 126.5L791 136.5L790 139.5L788.5 141.6ZM841.5 118.7L835.5 119.3L829.5 117.6L825.2 114.5L822 109.5L821.2 104.5L822.4 99.5L825.5 95.2L830.5 91.9L833.5 91L837.5 90.7L843.5 91.9L848.8 95.5L852 100.5L852.7 103.5L852.7 106.5L851.1 111.5L847.5 115.7L841.5 118.7ZM841.5 205.5L831.5 204.7L826.5 203.1L822.5 201L819.8 198.5L818.1 195.5L818 193.5L819.1 190.5L822.5 186.9L827.5 184.1L831.5 183L837.5 182.4L845.5 182.8L851.5 184.1L856.5 186.4L860.2 189.5L861.4 191.5L861.9 194.5L860.9 197.5L858.5 200.2L855.5 202.2L851.5 203.9L846.5 205.1L841.5 205.5ZM741.5 198.6L734.5 199.3L728.5 198.6L723.6 196.5L722.9 194.5L723.6 193.5L726.5 192L733.5 190.8L741.5 191.4L746.6 193.5L747.3 194.5L746.6 196.5L741.5 198.6ZM839.5 115.6L834.5 115.6L830.5 114.1L827.4 111.5L825.4 107.5L825.2 103.5L826.7 99.5L829.5 96.6L833.5 94.6L838.5 94.2L842.8 95.5L846.6 98.5L848.6 102.5L848.8 106.5L847.3 110.5L844.4 113.5L839.5 115.6ZM785.5 132.7L784.5 132.6L775.5 127.8L772.5 125.7L769.3 121.5L767.5 116.5L767.2 109.5L768.8 103.5L772.5 98.3L774.5 96.9L777.5 95.8L781.5 96.1L785.5 98.3L788.7 102.5L790.5 107.5L791 112.5L790.4 117.5L786.8 130.5L785.5 132.7ZM846.5 203.6L841.5 204.2L836.5 204.1L831.5 203.2L827.5 201.8L824.5 200.1L821.8 197.5L820.6 194.5L821.2 191.5L822.6 189.5L825.5 187.2L829.5 185.3L833.5 184.3L843.5 183.9L848.5 184.8L852.5 186.2L855.5 187.9L858.2 190.5L859.1 192.5L859.1 195.5L857.4 198.5L854.9 200.5L851.5 202.2L846.5 203.6ZM736.5 196.6L732.5 196.4L730.5 195.5L730.5 194.5L733 193.5L735.5 193.4L739.6 194.5L739.6 195.5L736.5 196.6ZM839.5 110L835.5 110.3L833.5 109.5L831.6 107.5L831 105.5L831.2 103.5L833.5 100.5L835.5 99.7L838.5 99.7L840.5 100.5L842.4 102.5L843 104.5L842.8 106.5L841.7 108.5L839.5 110ZM781.5 119.9L779.5 120.5L776.5 119.6L774.5 117.5L773.2 114.5L773.1 110.5L774 107.5L775.5 105.3L778.5 103.8L780.5 104L782.5 105.3L784.1 107.5L784.9 110.5L784.5 115.8L783.5 118L781.5 119.9ZM842.5 202.5L834.5 202.1L827.5 199.6L825 197.5L823.8 195.5L823.6 193.5L824.3 191.5L826 189.5L829.5 187.3L833.5 186L837.5 185.4L846.5 186.1L850.5 187.4L854 189.5L855.7 191.5L856.3 193.5L856.1 195.5L855 197.5L852.6 199.5L849.5 201L842.5 202.5ZM842.5 200.6L835.5 200.3L830.6 198.5L827.6 195.5L827.6 192.5L829.1 190.5L831.5 189L837.5 187.4L845.5 188L850.8 190.5L852.7 193.5L851.8 196.5L848.5 199L842.5 200.6ZM842.5 197.7L838.5 197.8L835.5 197.1L833.1 195.5L832.6 193.5L834.2 191.5L836.6 190.5L840.5 190.1L844.5 190.9L846.9 192.5L847.4 194.5L845.8 196.5L842.5 197.7ZM840.5 201.5L833.5 200.7L828.5 198.5L826 195.5L825.7 193.5L826.5 191.5L828.5 189.5L831.5 187.9L838.5 186.5L846.5 187.3L849.7 188.5L852.6 190.5L854 192.5L854.2 194.5L852.5 197.6L847.5 200.4L840.5 201.5ZM844.5 200.6L837.5 200.9L831.5 199.4L827.5 196.5L826.7 194.5L827 192.5L829.8 189.5L835.5 187.4L842.5 187.1L848.5 188.6L852.4 191.5L853.3 193.5L853 195.5L850.2 198.5L844.5 200.6ZM845.5 199.8L838.5 200.4L832.5 199.1L828.7 196.5L827.8 194.5L828.1 192.5L831.2 189.5L835.5 188L841.5 187.6L847.5 188.9L851.3 191.5L852.2 194.5L850.3 197.5L845.5 199.8ZM843.5 199.6L837.5 199.8L832.5 198.4L829.2 195.5L829.2 192.5L831.5 190.2L836.5 188.4L842.5 188.2L847.5 189.6L850.8 192.5L850.8 195.5L848.5 197.8L843.5 199.6ZM844.5 198.8L838.5 199.3L833.5 198.1L830.3 195.5L829.9 194.5L830.3 192.5L832.5 190.4L837.5 188.8L842.5 188.8L846.5 189.9L849.5 192.2L850.1 194.5L848.5 196.9L844.5 198.8ZM842.5 198.6L837.5 198.6L833.5 197.3L831.4 195.5L831 194.5L831.4 192.5L833.8 190.5L837.5 189.4L842.5 189.4L846.5 190.7L848.6 192.5L849 194.5L848.6 195.5L846.2 197.5L842.5 198.6ZM843.5 197.8L839.5 198.2L835.5 197.5L832.6 195.5L832.1 193.5L833.6 191.5L836.5 190.2L840.5 189.8L844.5 190.5L847.4 192.5L847.9 194.5L846.4 196.5L843.5 197.8ZM840.5 197.6L837.5 197.3L834.5 196L833.3 194.5L833.9 192.5L836.5 191L839.5 190.4L843.5 191L846.1 192.5L846.7 193.5L846.1 195.5L843.5 197L840.5 197.6ZM842.5 196.5L837.3 196.5L835.4 195.5L834.6 193.5L835.4 192.5L837.5 191.5L842.7 191.5L844.6 192.5L845.4 194.5L844.6 195.5L842.5 196.5ZM842.5 195.5L840.5 195.9L837.5 195.5L836.3 194.5L836.3 193.5L838.5 192.2L842.5 192.5L843.7 193.5L843.7 194.5L842.5 195.5Z" stroke="#666" stroke-width="0.8" fill="none"/>
<path d="M1213 12.5h1M1322 14.5h1M1184 31.5h1M1193 33.5h1M1261 33.5h1M1255 39.5h1M1137 41.5h1M1260 41.5h1M1174 42.5h1M1220 48.5h1M1154 50.5h1M1155 51.5h1M1162 53.5h1M1164 53.5h1M1258 54.5h1M1160 55.5h1M1190 57.5h1M1148 58.5h1M1226 58.5h1M1158 59.5h1M1146 61.5h1M1148 61.5h1M1163 61.5h1M1151 62.5h1M1182 62.5h1M1194 62.5h1M1199 62.5h1M1252 62.5h1M1261 62.5h1M1148 63.5h1M1176 63.5h1M1194 63.5h1M1215 63.5h1M1250 63.5h1M1148 64.5h1M1162 64.5h1M1176 64.5h1M1185 64.5h1M1260 64.5h1M1145 65.5h1M1163 65.5h2M1168 65.5h1M1200 65.5h1M1168 66.5h1M1206 66.5h1M1145 67.5h1M1169 67.5h1M1189 67.5h1M1192 67.5h1M1214 67.5h1M1266 67.5h1M1169 68.5h1M1179 68.5h1M1192 68.5h1M1203 68.5h1M1172 69.5h1M1176 69.5h1M1180 69.5h1M1213 69.5h1M1187 70.5h1M1196 70.5h1M1206 70.5h1M1211 70.5h1M1242 70.5h1M1266 70.5h1M1181 71.5h2M1186 71.5h1M1204 71.5h1M1249 71.5h1M1253 71.5h2M1260 71.5h1M1193 72.5h1M1217 72.5h1M1229 72.5h1M1253 72.5h1M1139 73.5h1M1204 73.5h1M1216 73.5h1M1230 73.5h1M1293 73.5h1M1211 74.5h1M1272 74.5h1M1137 75.5h1M1214 75.5h1M1220 75.5h1M1230 76.5h1M1222 77.5h1M1247 77.5h1M1258 77.5h1M1140 78.5h1M1223 78.5h1M1225 78.5h1M1231 78.5h1M1234 78.5h1M1257 78.5h1M1228 79.5h1M1138 80.5h1M1247 80.5h1M1263 80.5h1M1267 80.5h1M1138 81.5h1M1229 81.5h1M1251 81.5h1M1267 82.5h1M1135 83.5h1M1268 83.5h1M1137 84.5h1M1241 84.5h1M1270 84.5h1M1138 85.5h1M1247 85.5h1M1253 85.5h1M1259 85.5h2M1272 85.5h1M1250 86.5h1M1257 86.5h1M1133 87.5h1M1137 87.5h1M1258 87.5h1M1260 87.5h1M1122 88.5h1M1178 88.5h1M1184 88.5h1M1182 89.5h1M1197 89.5h2M1201 89.5h1M1236 89.5h1M1177 90.5h1M1186 90.5h1M1195 90.5h1M1200 90.5h1M1241 90.5h1M1244 90.5h1M1255 90.5h1M1261 90.5h1M1186 91.5h1M1194 91.5h1M1205 91.5h1M1212 91.5h1M1240 91.5h1M1243 91.5h1M1252 91.5h1M1259 91.5h1M1135 92.5h1M1138 92.5h1M1189 92.5h1M1199 92.5h1M1245 92.5h1M1254 92.5h1M1259 92.5h1M1179 93.5h1M1189 93.5h1M1202 93.5h1M1212 93.5h2M1217 93.5h1M1242 93.5h1M1256 93.5h1M1137 94.5h1M1188 94.5h1M1205 94.5h1M1226 94.5h1M1247 94.5h1M1249 94.5h1M1174 95.5h1M1193 95.5h1M1207 95.5h1M1215 95.5h1M1222 95.5h1M1231 95.5h1M1247 95.5h1M1256 95.5h1M1173 96.5h1M1183 96.5h1M1199 96.5h1M1227 96.5h1M1196 97.5h1M1203 97.5h2M1206 97.5h2M1233 97.5h2M1244 97.5h1M1138 98.5h1M1173 98.5h1M1210 98.5h1M1243 98.5h2M1249 98.5h1M1138 99.5h1M1193 99.5h1M1203 99.5h1M1218 99.5h1M1221 99.5h1M1230 99.5h1M1232 99.5h1M1236 99.5h1M1246 99.5h1M1257 99.5h1M1137 100.5h1M1189 100.5h1M1216 100.5h1M1219 100.5h1M1248 100.5h2M1137 101.5h1M1173 101.5h1M1235 101.5h1M1137 102.5h1M1173 102.5h1M1177 102.5h1M1194 102.5h1M1196 102.5h1M1222 102.5h1M1230 102.5h1M1247 102.5h1M1250 102.5h1M1185 103.5h3M1206 103.5h1M1259 103.5h1M1136 104.5h1M1184 104.5h1M1198 104.5h1M1228 104.5h1M1262 104.5h1M1136 105.5h1M1139 105.5h1M1200 105.5h1M1204 105.5h1M1218 105.5h1M1248 105.5h1M1255 105.5h1M1193 106.5h1M1212 106.5h1M1222 106.5h1M1232 106.5h2M1237 106.5h1M1240 106.5h2M1248 106.5h1M1250 106.5h1M1257 106.5h1M1259 106.5h1M1136 107.5h1M1175 107.5h1M1177 107.5h1M1223 107.5h1M1228 107.5h1M1237 107.5h1M1239 107.5h1M1249 107.5h1M1253 107.5h1M1196 108.5h1M1203 108.5h1M1206 108.5h1M1228 108.5h1M1233 108.5h1M1239 108.5h1M1247 108.5h2M1203 109.5h1M1221 109.5h1M1234 109.5h1M1236 109.5h1M1240 109.5h1M1243 109.5h1M1250 109.5h1M1253 109.5h1M1257 109.5h1M1264 109.5h1M1193 110.5h1M1204 110.5h1M1207 110.5h1M1211 110.5h1M1227 110.5h1M1230 110.5h1M1243 110.5h1M1253 110.5h1M1307 110.5h1M1170 111.5h1M1234 111.5h1M1236 111.5h1M1241 111.5h2M1265 111.5h1M1187 112.5h1M1189 112.5h1M1239 112.5h1M1257 112.5h1M1261 112.5h1M1137 113.5h1M1187 113.5h1M1221 113.5h1M1225 113.5h1M1234 113.5h1M1240 113.5h1M1249 113.5h1M1263 113.5h1M1266 113.5h1M1138 114.5h1M1208 114.5h1M1213 114.5h1M1224 114.5h1M1233 114.5h1M1236 114.5h1M1238 114.5h1M1251 114.5h1M1253 114.5h1M1208 115.5h1M1220 115.5h1M1243 115.5h1M1255 115.5h2M1258 115.5h2M1132 116.5h1M1137 116.5h1M1175 116.5h1M1202 116.5h1M1212 116.5h1M1219 116.5h1M1133 117.5h1M1198 117.5h1M1213 117.5h1M1222 117.5h1M1228 117.5h2M1250 117.5h1M1169 118.5h1M1183 118.5h3M1192 118.5h1M1194 118.5h1M1201 118.5h1M1210 118.5h1M1242 118.5h1M1252 118.5h2M1255 118.5h1M1259 118.5h1M1285 118.5h1M1170 119.5h1M1173 119.5h1M1189 119.5h1M1206 119.5h1M1241 119.5h1M1136 120.5h1M1168 120.5h1M1202 120.5h1M1209 120.5h1M1212 120.5h1M1216 120.5h1M1220 120.5h1M1244 120.5h1M1250 120.5h1M1252 120.5h1M1265 120.5h1M1189 121.5h1M1193 121.5h1M1203 121.5h1M1211 121.5h1M1221 121.5h1M1225 121.5h1M1236 121.5h1M1240 121.5h1M1244 121.5h1M1252 121.5h1M1259 121.5h1M1169 122.5h1M1171 122.5h1M1184 122.5h1M1197 122.5h1M1204 122.5h1M1211 122.5h1M1215 122.5h1M1219 122.5h1M1226 122.5h1M1228 122.5h2M1240 122.5h1M1244 122.5h1M1264 122.5h1M1307 122.5h1M1137 123.5h1M1186 123.5h1M1198 123.5h1M1223 123.5h1M1236 123.5h1M1264 123.5h1M1272 123.5h1M1120 124.5h1M1216 124.5h1M1242 124.5h2M1259 124.5h1M1196 125.5h1M1198 125.5h1M1213 125.5h2M1220 125.5h1M1224 125.5h1M1227 125.5h1M1242 125.5h1M1254 125.5h1M1183 126.5h2M1191 126.5h1M1202 126.5h1M1214 126.5h1M1237 126.5h1M1242 126.5h2M1254 126.5h1M1259 126.5h1M1186 127.5h1M1189 127.5h1M1201 127.5h1M1209 127.5h1M1216 127.5h1M1226 127.5h1M1231 127.5h1M1252 127.5h1M1255 127.5h1M1268 127.5h1M1168 128.5h1M1170 128.5h1M1206 128.5h1M1211 128.5h1M1215 128.5h1M1222 128.5h2M1233 128.5h2M1237 128.5h1M1242 128.5h3M1256 128.5h1M1261 128.5h1M1125 129.5h1M1133 129.5h1M1135 129.5h1M1138 129.5h1M1172 129.5h1M1188 129.5h1M1197 129.5h1M1223 129.5h1M1237 129.5h1M1251 129.5h1M1253 129.5h1M1270 129.5h1M1205 130.5h1M1208 130.5h2M1214 130.5h2M1217 130.5h1M1224 130.5h1M1229 130.5h1M1235 130.5h1M1250 130.5h3M1172 131.5h1M1174 131.5h1M1177 131.5h1M1192 131.5h1M1205 131.5h1M1207 131.5h1M1211 131.5h1M1224 131.5h1M1228 131.5h1M1250 131.5h1M1259 131.5h1M1108 132.5h1M1132 132.5h1M1138 132.5h1M1169 132.5h1M1171 132.5h1M1193 132.5h1M1197 132.5h1M1209 132.5h2M1231 132.5h1M1238 132.5h1M1242 132.5h1M1250 132.5h1M1254 132.5h1M1123 133.5h1M1136 133.5h2M1193 133.5h1M1240 133.5h1M1242 133.5h1M1251 133.5h1M1125 134.5h3M1172 134.5h1M1190 134.5h1M1192 134.5h1M1199 134.5h1M1227 134.5h1M1242 134.5h1M1251 134.5h1M1260 134.5h2M1121 135.5h1M1183 135.5h1M1200 135.5h1M1206 135.5h1M1228 135.5h1M1234 135.5h1M1241 135.5h1M1250 135.5h1M1258 135.5h1M1166 136.5h1M1207 136.5h1M1211 136.5h1M1220 136.5h1M1227 136.5h1M1235 136.5h1M1251 136.5h1M1254 136.5h1M1267 136.5h1M1114 137.5h1M1132 137.5h1M1194 137.5h1M1198 137.5h1M1203 137.5h1M1217 137.5h1M1242 137.5h1M1261 137.5h1M1300 137.5h1M1134 138.5h1M1202 138.5h1M1205 138.5h1M1229 138.5h1M1253 138.5h1M1133 139.5h3M1166 139.5h1M1200 139.5h1M1202 139.5h1M1227 139.5h1M1251 139.5h1M1166 140.5h1M1190 140.5h1M1194 140.5h1M1207 140.5h1M1219 140.5h1M1227 140.5h1M1240 140.5h1M1243 140.5h1M1169 141.5h1M1187 141.5h1M1199 141.5h1M1212 141.5h1M1219 141.5h1M1224 141.5h1M1232 141.5h1M1240 141.5h2M1248 141.5h1M1261 141.5h1M1117 142.5h1M1170 142.5h1M1172 142.5h1M1178 142.5h1M1197 142.5h1M1223 142.5h1M1231 142.5h1M1240 142.5h1M1267 142.5h1M1181 143.5h2M1188 143.5h1M1195 143.5h1M1197 143.5h1M1201 143.5h1M1207 143.5h1M1222 143.5h1M1231 143.5h1M1237 143.5h1M1253 143.5h1M1256 143.5h1M1105 144.5h1M1178 144.5h1M1198 144.5h1M1214 144.5h1M1234 144.5h1M1251 144.5h1M1254 144.5h1M1257 144.5h1M1276 144.5h1M1175 145.5h1M1197 145.5h1M1199 145.5h1M1202 145.5h1M1208 145.5h1M1221 145.5h1M1227 145.5h1M1235 145.5h1M1254 145.5h1M1258 145.5h1M1167 146.5h1M1171 146.5h1M1176 146.5h1M1187 146.5h1M1204 146.5h1M1221 146.5h1M1223 146.5h1M1225 146.5h1M1227 146.5h2M1254 146.5h1M1256 146.5h1M1266 146.5h1M1128 147.5h2M1170 147.5h2M1180 147.5h1M1193 147.5h1M1202 147.5h1M1262 147.5h1M1218 148.5h1M1221 148.5h1M1226 148.5h1M1175 149.5h2M1213 149.5h1M1260 149.5h1M1263 149.5h2M1213 150.5h1M1216 150.5h1M1220 150.5h1M1262 150.5h1M1264 150.5h2M1272 150.5h1M1119 151.5h1M1128 151.5h1M1131 151.5h1M1194 151.5h2M1217 151.5h2M1225 151.5h1M1263 151.5h2M1266 151.5h1M1270 151.5h1M1283 151.5h1M1125 152.5h1M1168 152.5h1M1263 152.5h1M1267 152.5h1M1167 153.5h1M1220 153.5h1M1222 153.5h1M1266 153.5h1M1168 154.5h2M1172 154.5h1M1199 154.5h1M1219 154.5h1M1103 155.5h1M1184 155.5h1M1187 155.5h1M1197 155.5h1M1211 155.5h1M1218 155.5h1M1222 155.5h1M1106 156.5h1M1207 156.5h1M1214 156.5h1M1217 156.5h1M1222 156.5h1M1274 156.5h1M1133 157.5h1M1179 157.5h1M1198 157.5h1M1268 157.5h2M1166 158.5h1M1199 158.5h1M1216 158.5h1M1218 158.5h1M1130 159.5h1M1133 159.5h1M1167 159.5h2M1174 159.5h1M1184 159.5h1M1215 159.5h1M1273 159.5h1M1116 160.5h1M1130 160.5h1M1133 160.5h1M1178 160.5h1M1195 160.5h1M1200 160.5h1M1203 160.5h1M1220 160.5h1M1272 160.5h1M1133 161.5h1M1169 161.5h1M1197 161.5h1M1203 161.5h1M1269 161.5h1M1280 161.5h1M1117 162.5h1M1120 162.5h1M1210 162.5h1M1269 162.5h1M1112 163.5h1M1131 163.5h1M1134 163.5h1M1198 163.5h1M1283 163.5h1M1270 164.5h1M1113 165.5h1M1118 165.5h1M1137 165.5h1M1139 165.5h1M1188 165.5h1M1217 165.5h1M1284 165.5h1M1287 165.5h1M1190 166.5h2M1213 166.5h2M1221 166.5h1M1302 166.5h1M1161 167.5h2M1206 167.5h1M1267 167.5h1M1270 167.5h1M1142 168.5h1M1148 168.5h1M1153 168.5h1M1155 168.5h1M1161 168.5h1M1163 168.5h1M1169 168.5h1M1198 168.5h1M1218 168.5h2M1267 168.5h1M1129 169.5h1M1142 169.5h1M1145 169.5h1M1150 169.5h2M1160 169.5h1M1168 169.5h1M1186 169.5h1M1189 169.5h1M1194 169.5h1M1202 169.5h1M1207 169.5h1M1211 169.5h1M1286 169.5h1M1133 170.5h1M1136 170.5h1M1140 170.5h1M1143 170.5h1M1145 170.5h1M1148 170.5h1M1152 170.5h2M1172 170.5h1M1201 170.5h1M1265 170.5h1M1141 171.5h1M1143 171.5h1M1152 171.5h1M1154 171.5h1M1170 171.5h1M1176 171.5h1M1184 171.5h1M1186 171.5h1M1217 171.5h2M1220 171.5h2M1265 171.5h1M1154 172.5h1M1189 172.5h1M1214 172.5h1M1223 172.5h1M1282 172.5h1M1134 173.5h1M1138 173.5h1M1145 173.5h1M1158 173.5h1M1198 173.5h2M1204 173.5h1M1207 173.5h1M1264 173.5h2M1322 173.5h1M1118 174.5h1M1135 174.5h1M1157 174.5h1M1213 174.5h1M1225 174.5h1M1263 174.5h1M1270 174.5h1M1127 175.5h1M1145 175.5h1M1156 175.5h1M1184 175.5h1M1196 175.5h1M1220 175.5h1M1156 176.5h1M1183 176.5h1M1190 176.5h1M1200 176.5h1M1202 176.5h1M1219 176.5h1M1259 176.5h1M1125 177.5h1M1143 177.5h1M1158 177.5h1M1187 177.5h1M1194 177.5h1M1201 177.5h1M1203 177.5h1M1208 177.5h1M1220 177.5h1M1228 177.5h1M1133 178.5h1M1208 178.5h1M1256 178.5h1M1261 178.5h1M1275 178.5h1M1192 179.5h1M1219 179.5h1M1255 179.5h2M1274 179.5h1M1181 180.5h1M1224 180.5h1M1228 180.5h1M1230 180.5h2M1250 180.5h2M1259 180.5h1M1269 180.5h1M1173 181.5h1M1196 181.5h1M1215 181.5h1M1226 181.5h1M1229 181.5h1M1236 181.5h1M1240 181.5h2M1244 181.5h3M1248 181.5h1M1263 181.5h1M1166 182.5h1M1246 182.5h1M1249 182.5h1M1276 182.5h1M1106 183.5h1M1185 183.5h1M1190 183.5h1M1212 183.5h1M1233 183.5h1M1260 183.5h1M1212 184.5h1M1220 184.5h1M1239 184.5h1M1256 184.5h1M1161 185.5h1M1244 185.5h1M1193 186.5h1M1273 186.5h1M1167 187.5h1M1169 187.5h1M1212 187.5h1M1222 187.5h1M1227 187.5h1M1237 187.5h1M1265 187.5h1M1137 188.5h1M1184 188.5h1M1229 188.5h1M1260 188.5h1M1267 188.5h1M1150 189.5h1M1218 189.5h1M1220 189.5h1M1239 189.5h1M1262 189.5h1M1268 189.5h1M1284 189.5h1M1144 191.5h1M1215 191.5h1M1226 191.5h1M1216 192.5h1M1240 192.5h1M1244 192.5h2M1248 192.5h1M1252 192.5h1M1220 193.5h1M1242 193.5h1M1267 193.5h1M1269 193.5h1M1284 193.5h1M1170 194.5h1M1235 194.5h1M1270 194.5h1M1299 194.5h1M1134 195.5h1M1208 195.5h1M1213 195.5h1M1230 196.5h1M1236 196.5h1M1272 196.5h1M1243 197.5h1M1245 197.5h1M1215 198.5h1M1219 200.5h1M1187 201.5h1M1253 201.5h1M1132 202.5h1M1141 203.5h1M1160 203.5h1M1235 203.5h1M1125 204.5h1M1267 205.5h1M1159 206.5h1M1219 206.5h1M1160 208.5h1M1216 208.5h1M1232 209.5h1M1242 209.5h1M1285 209.5h1M1204 211.5h1M1297 214.5h1M1196 215.5h1M1161 216.5h1M1181 217.5h1M1273 230.5h1M1304 233.5h1M1150 241.5h1M1144 245.5h1M1100 248.5h1M1257 254.5h1" stroke="#000" stroke-width="1" fill="none"/>
<path d="M1249.5 180.7L1244.5 181.2L1239.5 180.9L1235.5 179.9L1230.5 177.7L1226.5 174.6L1223.9 171.5L1221.9 167.5L1221.3 164.5L1221.3 161.5L1222.3 157.5L1223.9 154.5L1226.5 151.4L1231.5 147.8L1243.2 143.5L1245.6 141.5L1244.4 133.5L1245.2 115.5L1244.1 110.5L1242.8 107.5L1237.7 99.5L1233.5 96.1L1229.5 94.7L1206.5 90L1180.5 86.9L1177.5 87.1L1175.5 88.4L1174.2 91.5L1172.2 104.5L1168.7 117.5L1166.3 134.5L1166.1 139.5L1167.7 150.5L1167.3 154.5L1165.9 158.5L1163.5 162.2L1160.5 165.1L1156.5 167.3L1152.5 168.4L1147.5 168.4L1143.5 167.3L1139.5 165.1L1136.7 162.5L1133.3 156.5L1132.4 150.5L1133.2 145.5L1137.6 136.5L1138.6 132.5L1138.7 122.5L1139.8 110.5L1138.6 96.5L1138.8 87.5L1139.9 81.5L1141.8 75.5L1144.5 70.5L1147.9 66.5L1152.5 63.7L1155.5 63.1L1158.5 63.4L1162.5 65.1L1169.5 70.6L1172.5 72.2L1175.5 72.6L1195.5 72.7L1210.5 74.6L1217.5 76.4L1224.5 78.9L1228.5 81.1L1232.3 84.5L1242.5 97.8L1246.5 105.8L1249.9 119.5L1250.6 124.5L1250.1 134.5L1248 141.5L1248.3 142.5L1250.6 144.5L1257.5 148.3L1261.7 151.5L1264.8 155.5L1266.5 160.5L1266.8 163.5L1266.1 167.5L1264.8 170.5L1262.6 173.5L1256.5 178.2L1249.5 180.7ZM1152.5 167.5L1149.5 167.7L1145.5 167.1L1139.5 164L1137 161.5L1135 158.5L1133.9 155.5L1133.3 151.5L1134.1 145.5L1138.5 136.5L1139.5 132.5L1139.5 123.5L1140.6 110.5L1139.2 94.5L1139.9 84.5L1142.7 75.5L1144.8 71.5L1147.2 68.5L1149.5 66.4L1152.5 64.8L1157.5 64.3L1162.5 66.3L1170.5 72.7L1173.5 74L1192.5 73.9L1207.5 75.3L1214.5 76.9L1221.5 79.2L1226.5 81.3L1229.6 83.5L1233.6 88.5L1235.1 91.5L1235.2 93.5L1233.5 93.8L1228.5 93.2L1207.5 88.8L1183.5 85.7L1178.5 85.3L1175.5 86.3L1174.5 87.6L1173.5 90.7L1171.9 102.5L1168 117.5L1165.3 135.5L1165.2 139.5L1166.9 149.5L1166.2 155.5L1164.4 159.5L1161.1 163.5L1157.5 166L1152.5 167.5ZM1250.5 179.6L1242.5 180.4L1235.5 179L1229.5 176L1225 171.5L1223.3 168.5L1222.5 165.5L1222.7 159.5L1225 154.5L1229.5 150L1235.5 146.9L1243.5 144.8L1246.5 144.5L1250.5 145.8L1256.5 148.7L1260.3 151.5L1263 154.5L1265 158.5L1265.7 161.5L1265.5 165.5L1264.2 169.5L1262.2 172.5L1258.5 176L1254.5 178.3L1250.5 179.6ZM1152.5 166.7L1149.5 166.9L1145.5 166.2L1142.5 165L1139.5 162.9L1137.3 160.5L1135.5 157.5L1134.1 151.5L1135 145.5L1139.5 136.7L1140.4 133.5L1140.3 123.5L1141.4 110.5L1139.9 95.5L1140.3 86.5L1143 76.5L1145.2 72.5L1147.5 69.5L1152.5 66L1157.5 65.4L1162.5 67.5L1170.5 74.4L1173.5 76.1L1175.5 76.5L1190.5 75.5L1204.5 76.5L1217.2 79.5L1224.5 82.1L1228.5 84.5L1230.5 86.9L1231.5 89.5L1231.3 90.5L1229.5 91.4L1225.5 91.2L1208.5 87.3L1179.5 83.2L1176.5 83.2L1174.5 84.6L1172.8 89.5L1171 103.5L1167.3 116.5L1164.4 135.5L1164.3 139.5L1166 149.5L1165.3 155.5L1163.4 159.5L1160.5 162.9L1156.5 165.5L1152.5 166.7ZM1245.5 179.5L1237.5 178.7L1233.5 177.3L1229.5 174.8L1227 172.5L1224.9 169.5L1223.7 166.5L1223.3 162.5L1223.7 159.5L1224.9 156.5L1227 153.5L1229.5 151.2L1235.5 147.9L1241.5 146.3L1245.5 145.9L1248.5 146.3L1252.5 147.7L1259.5 152L1263.1 156.5L1264.3 159.5L1264.7 162.5L1263.5 168.5L1261.8 171.5L1259.5 174L1253.5 177.7L1249.5 179L1245.5 179.5ZM1153.5 165.5L1149.5 165.9L1146.5 165.5L1143.5 164.4L1140.5 162.5L1136.6 157.5L1135.3 153.5L1135 150.5L1136 145.5L1140.5 136.9L1141.4 133.5L1141.2 123.5L1142.2 110.5L1140.5 92.5L1141.8 82.5L1143.9 76.5L1147.5 70.9L1151.5 67.7L1156.5 66.5L1160.5 67.6L1164.7 70.5L1172.2 78.5L1173.1 81.5L1170.9 100.5L1166.4 116.5L1163.2 136.5L1163.4 140.5L1165 148.5L1164.6 154.5L1162.9 158.5L1160.5 161.6L1157.5 163.9L1153.5 165.5ZM1225.5 88.5L1217.5 85.8L1193.1 82.5L1186.6 80.5L1186.3 79.5L1190.2 78.5L1195.5 78.3L1207.3 79.5L1225.5 85.4L1227.1 87.5L1226.5 88.3L1225.5 88.5ZM1246.5 178.6L1239.5 178.3L1232.5 175.7L1227.5 171.5L1224.9 166.5L1224.4 163.5L1224.6 160.5L1226.8 155.5L1231.5 150.9L1237.5 148.2L1245.5 147L1252.5 148.8L1256.5 150.9L1259.5 153.4L1261.9 156.5L1263.1 159.5L1263.6 162.5L1263.4 165.5L1262.4 168.5L1260.5 171.5L1257.5 174.4L1254.5 176.3L1250.5 177.8L1246.5 178.6ZM1152.5 164.7L1146.5 164.5L1143.5 163.3L1140.8 161.5L1137.2 156.5L1136 150.5L1137 145.5L1141.5 137.5L1142.5 133.9L1142.1 123.5L1143.1 110.5L1141.3 93.5L1142.4 83.5L1144.9 76.5L1148.3 71.5L1152.5 68.5L1156.5 67.8L1159.5 68.4L1162.5 70.1L1166.2 73.5L1169.4 77.5L1171.2 82.5L1171 90.5L1169.9 101.5L1165.4 116.5L1164 127.5L1162.1 136.5L1162.2 140.5L1164 148.5L1163.5 154.5L1161.8 158.5L1159.5 161.2L1156.5 163.3L1152.5 164.7ZM1246.5 177.6L1239.5 177.3L1233.5 175.1L1228.9 171.5L1226.1 166.5L1225.7 161.5L1227.5 156.5L1231.5 152.2L1237.5 149.2L1245.5 148.1L1252.5 149.9L1258.5 153.9L1260.5 156.5L1261.9 159.5L1262.4 162.5L1262.2 165.5L1261.1 168.5L1259.1 171.5L1253.5 175.6L1246.5 177.6ZM1152.5 163.6L1149.5 163.9L1146.5 163.4L1141.5 160.7L1138.4 156.5L1137.4 153.5L1137.1 150.5L1138.2 145.5L1142.9 137.5L1143.7 134.5L1143.2 123.5L1144.2 111.5L1142 93.5L1142.9 84.5L1144.9 78.5L1148.5 72.8L1152.5 69.8L1156.5 69.1L1159.5 69.7L1162.5 71.5L1165.6 74.5L1168.4 78.5L1169.9 83.5L1170.1 93.5L1169.1 101.5L1164.5 115.9L1162.9 127.5L1160.8 136.5L1160.8 139.5L1162.9 148.5L1162.7 153.5L1161.1 157.5L1158.7 160.5L1155.5 162.6L1152.5 163.6ZM1246.5 176.6L1240.5 176.5L1234.5 174.4L1229.6 170.5L1227.4 166.5L1226.9 161.5L1228.9 156.5L1232.5 152.8L1237.5 150.3L1244.5 149.2L1251.5 150.6L1254.5 152.1L1257.5 154.5L1260.6 159.5L1261.2 162.5L1260.9 165.5L1258.4 170.5L1253.5 174.4L1246.5 176.6ZM1151.5 162.6L1146.5 162.2L1142 159.5L1139.2 155.5L1138.3 150.5L1139.4 145.5L1144.5 137.5L1145.3 134.5L1144.3 124.5L1145.3 111.5L1142.8 94.5L1143.8 84.5L1145.9 78.5L1148.5 74.5L1152.5 71.3L1156.5 70.4L1159.5 71.2L1162.5 73.1L1166.9 78.5L1168.9 84.5L1169.2 94.5L1167.7 103.5L1163.2 116.5L1161.7 127.5L1159.3 136.5L1159.3 139.5L1161.8 148.5L1161.5 153.5L1160.4 156.5L1158.1 159.5L1155.2 161.5L1151.5 162.6ZM1245.5 175.6L1239.5 175.1L1234.5 173.1L1230.4 169.5L1228.5 165.5L1228.5 160.5L1230.4 156.5L1234.5 152.9L1239.5 150.8L1246.5 150.5L1252.5 152.3L1256.7 155.5L1258.3 157.5L1259.5 160.5L1259.5 165.5L1258.3 168.5L1256.7 170.5L1251.5 174.2L1245.5 175.6ZM1153.5 160.8L1148.5 161.3L1145.5 160.4L1143.5 159.1L1140.6 155.5L1139.5 150.5L1140.8 145.5L1145.9 138.5L1147.1 135.5L1145.7 124.5L1146.6 111.5L1143.8 95.5L1144.3 86.5L1146.1 80.5L1149.2 75.5L1152.5 72.8L1156.5 71.9L1159.5 72.7L1161.5 73.9L1164.1 76.5L1166.1 79.5L1167.9 85.5L1168.4 93.5L1167.1 102.5L1162.1 115.5L1160.3 127.5L1157.3 136.5L1157.5 139.5L1160.5 148.5L1160.2 153.5L1157.5 158.3L1153.5 160.8ZM1249.5 173.6L1244.5 174.5L1239.5 173.9L1235.5 172.2L1232.2 169.5L1230.3 166.5L1229.7 162.5L1230.8 158.5L1233.5 155.2L1236.5 153.2L1239.5 152.1L1245.5 151.6L1251.5 153.2L1255.8 156.5L1257.2 158.5L1258.2 161.5L1257.7 166.5L1254.5 170.8L1249.5 173.6ZM1152.5 159.6L1148.5 159.8L1144.5 158.1L1141.7 154.5L1141 150.5L1141.6 147.5L1143.1 144.5L1150.7 136.5L1148.2 129.5L1147.4 125.5L1148.2 113.5L1144.9 97.5L1144.7 91.5L1145.3 86.5L1146.8 81.5L1149.5 77L1152.5 74.5L1156.5 73.5L1159.5 74.3L1161.5 75.7L1165.2 80.5L1167 86.5L1167.4 94.5L1165.7 103.5L1160.1 116.5L1158.5 127.5L1156.8 131.5L1153.6 136.5L1154.1 138.5L1158.5 146.5L1159.1 149.5L1159 152.5L1157.8 155.5L1156.5 157.2L1152.5 159.6ZM1247.5 172.8L1242.5 173.1L1238.5 172.2L1235.4 170.5L1232.6 167.5L1231.4 164.5L1231.4 161.5L1232.6 158.5L1235.5 155.5L1240.5 153.2L1246.5 153L1251.5 154.8L1255.4 158.5L1256.7 162.5L1256.6 164.5L1255.5 167.3L1252.5 170.5L1247.5 172.8ZM1153.5 129.6L1151.5 129.1L1149.8 125.5L1150.3 113.5L1146.4 100.5L1145.7 91.5L1146.9 84.5L1149.3 79.5L1152.5 76.3L1156.5 75.2L1160.5 76.8L1164.2 81.5L1166 87.5L1166.3 94.5L1165.7 99.5L1164.1 104.5L1157.8 116.5L1156.5 125.6L1155.5 127.9L1153.5 129.6ZM1152.5 157.7L1149.5 158.2L1146.5 157.3L1143.7 154.5L1142.8 151.5L1143.1 148.5L1144.6 145.5L1147.5 142.8L1150.5 141.7L1152.5 142L1154.5 143.4L1156.5 146.4L1157.4 149.5L1157.2 152.5L1156.4 154.5L1154.7 156.5L1152.5 157.7ZM1245.5 171.5L1241.5 171.4L1238.5 170.4L1235.7 168.5L1233.7 165.5L1233.2 162.5L1234.1 159.5L1236.5 156.8L1239.5 155.2L1244.5 154.4L1248.5 155.2L1252.3 157.5L1254.3 160.5L1254.6 164.5L1253.2 167.5L1249.5 170.4L1245.5 171.5ZM1156.5 111.9L1154.5 112.4L1153.5 112L1150.5 107.8L1148 101.5L1146.8 94.5L1147.1 88.5L1149.1 82.5L1152.3 78.5L1155.5 77.2L1157.5 77.3L1159.5 78.2L1162.5 81.4L1164.3 85.5L1165.2 91.5L1164.9 97.5L1163.1 103.5L1160.5 108L1156.5 111.9ZM1151.5 155.6L1149.5 155.8L1147.5 155.1L1145.8 153.5L1145.1 151.5L1145.2 149.5L1146.1 147.5L1147.5 146L1149.5 145L1152.5 145.5L1154.3 147.5L1155 149.5L1155 151.5L1154.2 153.5L1151.5 155.6ZM1245.5 169.7L1242.5 169.7L1239.5 168.7L1237.5 167.3L1236.1 165.5L1235.6 163.5L1236.1 160.5L1237.5 158.7L1239.5 157.3L1242.5 156.3L1246.5 156.5L1249.5 157.9L1251.9 160.5L1252.4 163.5L1251.2 166.5L1248.9 168.5L1245.5 169.7ZM1157.5 107.7L1154.5 108.1L1151.5 105.5L1149.1 100.5L1148.1 94.5L1148.3 89.5L1149.8 84.5L1152.5 80.7L1155.5 79.3L1158.5 80L1161.2 82.5L1163.1 86.5L1164 91.5L1163.7 96.5L1162.5 101.2L1160.5 104.9L1157.5 107.7ZM1246.5 166.6L1242.5 167L1239.9 165.5L1238.8 163.5L1239.9 160.5L1241.5 159.4L1244.5 158.9L1246.5 159.4L1248.1 160.5L1249.2 163.5L1248.1 165.5L1246.5 166.6ZM1156.5 104.8L1153.5 104L1151.5 101.5L1150 97.5L1149.5 93.5L1149.9 89.5L1151.3 85.5L1153.5 82.8L1155.5 82L1158.5 82.7L1160.5 85L1161.9 88.5L1162.5 92.5L1162.1 96.5L1160.9 100.5L1158.5 103.8L1156.5 104.8ZM1156.5 100.9L1154.5 100.6L1153.4 99.5L1152 96.5L1151.6 93.5L1152.5 88.3L1153.7 86.5L1155.5 85.4L1157.5 85.8L1158.5 86.7L1159.9 89.5L1160.4 92.5L1159.5 97.9L1158.5 99.5L1156.5 100.9ZM1156.5 105.6L1153.5 104.9L1151.5 102.6L1149.8 98.5L1149.2 94.5L1149.5 89.5L1150.7 85.5L1152.5 82.9L1155.5 81.3L1158.5 82L1160.5 84L1162.1 87.5L1162.9 92.5L1162.6 96.5L1161.4 100.5L1159.5 103.6L1156.5 105.6ZM1156.5 103.8L1154.5 103.5L1152.5 101.7L1150.9 98.5L1150.1 94.5L1150.3 90.5L1151.5 86.5L1153.5 83.8L1155.5 82.9L1157.5 83.1L1160 85.5L1161.3 88.5L1161.9 92.5L1161.6 96.5L1160.5 99.8L1158.5 102.7L1156.5 103.8ZM1156.5 101.9L1154.5 101.6L1152.6 99.5L1151.4 96.5L1151.1 93.5L1151.3 90.5L1152.3 87.5L1153.5 85.7L1155.5 84.6L1157.5 84.9L1159.2 86.5L1160.5 89.4L1160.9 92.5L1159.8 98.5L1158.5 100.6L1156.5 101.9ZM1156.5 99.9L1154.7 99.5L1153.6 98.5L1152.2 94.5L1152.8 89.5L1153.9 87.5L1155.5 86.4L1157.5 86.9L1158.5 87.9L1159.8 92.5L1158.9 97.5L1156.5 99.9ZM1157.5 96.6L1156.5 97.4L1155.5 97.4L1154.5 96.6L1153.6 94.5L1153.7 91.5L1154.5 89.6L1155.5 88.9L1157.4 89.5L1158.3 91.5L1158.3 94.5L1157.5 96.6Z" stroke="#4a4a4a" stroke-width="0.85" fill="none"/>
<path d="M226 493.5h1M252 499.5h1M228 504.5h1M424 504.5h1M208 505.5h1M233 506.5h1M344 508.5h1M231 510.5h1M217 512.5h1M265 512.5h1M220 515.5h1M231 515.5h1M238 515.5h1M251 517.5h1M243 520.5h1M239 521.5h1M378 521.5h1M405 521.5h1M232 522.5h1M244 522.5h1M401 522.5h1M419 522.5h1M241 523.5h1M375 523.5h1M414 523.5h1M210 524.5h1M233 524.5h1M244 524.5h1M257 524.5h1M233 525.5h1M250 525.5h1M406 525.5h1M221 526.5h1M237 526.5h1M247 526.5h1M228 527.5h1M395 527.5h2M411 527.5h1M417 527.5h1M239 528.5h1M244 528.5h1M257 528.5h1M403 528.5h1M406 528.5h1M251 529.5h1M254 529.5h1M240 530.5h1M247 530.5h1M254 530.5h2M263 530.5h1M387 530.5h1M394 530.5h2M407 530.5h1M222 531.5h1M225 531.5h1M245 531.5h1M396 531.5h1M398 531.5h1M403 531.5h1M421 531.5h1M229 532.5h1M237 532.5h1M242 532.5h1M247 532.5h2M381 532.5h1M383 532.5h1M388 532.5h1M393 532.5h1M402 532.5h1M404 532.5h1M418 532.5h1M231 533.5h1M244 533.5h1M248 533.5h1M292 533.5h1M358 533.5h1M366 533.5h1M376 533.5h1M381 533.5h1M385 533.5h2M393 533.5h1M408 533.5h1M415 533.5h1M418 533.5h1M431 533.5h1M224 534.5h1M228 534.5h1M231 534.5h1M233 534.5h3M241 534.5h1M243 534.5h1M245 534.5h1M247 534.5h1M371 534.5h1M389 534.5h1M404 534.5h1M226 535.5h1M232 535.5h1M235 535.5h3M242 535.5h3M246 535.5h2M249 535.5h1M352 535.5h1M354 535.5h1M391 535.5h1M396 535.5h1M398 535.5h3M402 535.5h1M412 535.5h1M414 535.5h2M424 535.5h1M429 535.5h1M226 536.5h1M228 536.5h1M231 536.5h1M235 536.5h1M238 536.5h1M242 536.5h1M246 536.5h1M248 536.5h1M261 536.5h1M264 536.5h1M381 536.5h1M387 536.5h1M391 536.5h1M394 536.5h1M398 536.5h2M403 536.5h1M409 536.5h1M419 536.5h1M253 537.5h2M368 537.5h1M375 537.5h1M379 537.5h1M382 537.5h1M386 537.5h1M389 537.5h1M391 537.5h1M404 537.5h2M413 537.5h1M415 537.5h1M220 538.5h2M228 538.5h2M250 538.5h1M256 538.5h1M378 538.5h1M381 538.5h1M385 538.5h1M387 538.5h1M410 538.5h1M413 538.5h1M416 538.5h1M419 538.5h3M226 539.5h1M253 539.5h5M259 539.5h1M348 539.5h1M366 539.5h1M370 539.5h1M378 539.5h1M384 539.5h1M411 539.5h1M415 539.5h1M417 539.5h2M423 539.5h4M221 540.5h2M225 540.5h1M260 540.5h1M370 540.5h1M376 540.5h1M379 540.5h2M382 540.5h1M413 540.5h1M417 540.5h1M435 540.5h1M220 541.5h1M224 541.5h2M260 541.5h2M362 541.5h1M370 541.5h1M223 542.5h1M255 542.5h1M352 542.5h1M374 542.5h1M377 542.5h1M417 542.5h1M419 542.5h1M421 542.5h4M438 542.5h1M222 543.5h1M256 543.5h1M258 543.5h1M260 543.5h1M264 543.5h1M266 543.5h1M359 543.5h1M365 543.5h1M371 543.5h2M376 543.5h1M430 543.5h1M438 543.5h1M216 544.5h1M221 544.5h1M337 544.5h1M360 544.5h1M365 544.5h2M372 544.5h1M374 544.5h2M421 544.5h1M425 544.5h1M433 544.5h1M216 545.5h1M257 545.5h3M346 545.5h1M349 545.5h1M351 545.5h1M369 545.5h1M372 545.5h1M420 545.5h1M423 545.5h1M425 545.5h1M427 545.5h1M219 546.5h1M258 546.5h2M262 546.5h1M299 546.5h1M333 546.5h1M336 546.5h1M342 546.5h2M361 546.5h1M363 546.5h1M427 546.5h1M438 546.5h1M186 547.5h1M221 547.5h1M258 547.5h4M302 547.5h1M332 547.5h1M338 547.5h1M344 547.5h1M349 547.5h4M356 547.5h2M359 547.5h2M362 547.5h1M422 547.5h1M425 547.5h1M217 548.5h1M220 548.5h1M262 548.5h2M275 548.5h1M305 548.5h1M350 548.5h3M423 548.5h1M428 548.5h1M431 548.5h1M210 549.5h1M214 549.5h1M220 549.5h1M259 549.5h2M263 549.5h1M272 549.5h1M275 549.5h1M277 549.5h1M282 549.5h1M300 549.5h1M312 549.5h1M326 549.5h1M332 549.5h1M336 549.5h1M340 549.5h1M344 549.5h2M349 549.5h1M423 549.5h2M427 549.5h2M430 549.5h1M436 549.5h1M198 550.5h1M218 550.5h1M262 550.5h1M264 550.5h1M268 550.5h1M270 550.5h1M275 550.5h1M289 550.5h1M291 550.5h1M293 550.5h1M295 550.5h1M305 550.5h1M311 550.5h1M315 550.5h1M330 550.5h1M338 550.5h2M341 550.5h1M346 550.5h1M424 550.5h1M430 550.5h1M212 551.5h1M219 551.5h1M298 551.5h2M302 551.5h1M306 551.5h1M310 551.5h1M329 551.5h2M332 551.5h2M337 551.5h1M339 551.5h2M343 551.5h2M425 551.5h1M427 551.5h1M219 552.5h1M260 552.5h1M262 552.5h1M287 552.5h2M296 552.5h2M299 552.5h1M312 552.5h1M320 552.5h2M328 552.5h2M339 552.5h1M343 552.5h1M187 553.5h1M207 553.5h1M219 553.5h1M262 553.5h1M266 553.5h1M278 553.5h1M280 553.5h1M289 553.5h2M293 553.5h1M296 553.5h1M301 553.5h1M305 553.5h1M309 553.5h1M312 553.5h1M316 553.5h2M319 553.5h1M321 553.5h1M325 553.5h1M338 553.5h1M340 553.5h2M426 553.5h1M428 553.5h1M430 553.5h1M264 554.5h1M268 554.5h1M280 554.5h1M283 554.5h1M288 554.5h1M293 554.5h1M296 554.5h1M300 554.5h1M304 554.5h1M311 554.5h1M314 554.5h1M320 554.5h1M324 554.5h3M333 554.5h2M337 554.5h2M425 554.5h2M430 554.5h1M216 555.5h1M218 555.5h2M261 555.5h1M265 555.5h1M267 555.5h1M274 555.5h1M277 555.5h1M279 555.5h1M282 555.5h3M289 555.5h3M293 555.5h3M297 555.5h2M303 555.5h1M306 555.5h1M311 555.5h2M314 555.5h2M319 555.5h1M324 555.5h1M331 555.5h1M334 555.5h1M336 555.5h1M338 555.5h3M425 555.5h1M433 555.5h1M436 555.5h1M218 556.5h2M263 556.5h2M266 556.5h1M268 556.5h1M277 556.5h1M281 556.5h1M286 556.5h1M291 556.5h1M293 556.5h2M297 556.5h1M299 556.5h3M303 556.5h1M305 556.5h1M307 556.5h1M311 556.5h2M316 556.5h2M320 556.5h1M323 556.5h1M328 556.5h1M333 556.5h1M336 556.5h4M342 556.5h1M425 556.5h1M428 556.5h1M430 556.5h2M437 556.5h1M189 557.5h1M212 557.5h1M219 557.5h1M261 557.5h1M263 557.5h1M269 557.5h1M271 557.5h1M274 557.5h1M276 557.5h1M280 557.5h1M282 557.5h1M284 557.5h2M287 557.5h2M293 557.5h1M296 557.5h1M302 557.5h1M306 557.5h2M315 557.5h2M319 557.5h1M326 557.5h3M330 557.5h4M335 557.5h2M340 557.5h4M425 557.5h2M430 557.5h1M217 558.5h1M220 558.5h1M259 558.5h1M261 558.5h1M263 558.5h3M269 558.5h2M272 558.5h2M279 558.5h1M282 558.5h1M289 558.5h1M292 558.5h2M296 558.5h1M300 558.5h3M305 558.5h3M314 558.5h1M322 558.5h2M325 558.5h2M329 558.5h1M337 558.5h1M340 558.5h2M344 558.5h1M426 558.5h1M219 559.5h2M261 559.5h1M263 559.5h1M266 559.5h1M273 559.5h1M277 559.5h1M282 559.5h1M292 559.5h1M297 559.5h1M301 559.5h1M304 559.5h2M309 559.5h1M319 559.5h1M324 559.5h1M329 559.5h1M331 559.5h1M333 559.5h1M335 559.5h1M339 559.5h1M342 559.5h5M425 559.5h1M208 560.5h1M218 560.5h1M262 560.5h2M269 560.5h1M276 560.5h1M283 560.5h2M307 560.5h1M312 560.5h1M316 560.5h1M320 560.5h1M336 560.5h2M339 560.5h2M346 560.5h4M426 560.5h1M430 560.5h1M214 561.5h1M219 561.5h2M259 561.5h2M264 561.5h1M266 561.5h1M277 561.5h1M291 561.5h1M298 561.5h1M306 561.5h1M311 561.5h1M313 561.5h2M316 561.5h1M320 561.5h1M332 561.5h1M342 561.5h1M344 561.5h2M349 561.5h1M352 561.5h1M425 561.5h2M217 562.5h1M219 562.5h1M221 562.5h1M260 562.5h1M263 562.5h1M266 562.5h1M269 562.5h1M273 562.5h1M282 562.5h1M299 562.5h1M307 562.5h1M332 562.5h2M338 562.5h1M351 562.5h1M355 562.5h1M357 562.5h4M362 562.5h1M425 562.5h2M431 562.5h2M186 563.5h1M197 563.5h1M220 563.5h3M261 563.5h1M267 563.5h1M304 563.5h1M306 563.5h1M319 563.5h1M357 563.5h1M365 563.5h3M424 563.5h1M427 563.5h1M256 564.5h1M258 564.5h1M261 564.5h2M287 564.5h1M306 564.5h1M340 564.5h1M345 564.5h2M351 564.5h1M359 564.5h1M361 564.5h2M364 564.5h1M423 564.5h1M425 564.5h3M432 564.5h2M223 565.5h1M257 565.5h2M341 565.5h1M362 565.5h1M365 565.5h1M371 565.5h1M425 565.5h1M428 565.5h2M218 566.5h1M225 566.5h1M255 566.5h2M260 566.5h2M265 566.5h1M327 566.5h2M362 566.5h1M366 566.5h1M369 566.5h1M372 566.5h1M422 566.5h1M430 566.5h1M438 566.5h1M214 567.5h1M218 567.5h1M222 567.5h1M255 567.5h2M259 567.5h1M263 567.5h1M340 567.5h1M353 567.5h1M369 567.5h1M371 567.5h1M373 567.5h2M422 567.5h1M426 567.5h1M219 568.5h1M225 568.5h1M228 568.5h1M255 568.5h1M267 568.5h1M348 568.5h1M369 568.5h1M373 568.5h2M421 568.5h1M221 569.5h1M225 569.5h2M228 569.5h1M255 569.5h1M261 569.5h1M274 569.5h1M366 569.5h1M374 569.5h1M419 569.5h1M426 569.5h1M220 570.5h1M222 570.5h1M253 570.5h1M345 570.5h1M371 570.5h1M376 570.5h2M418 570.5h1M220 571.5h1M230 571.5h2M254 571.5h1M368 571.5h1M376 571.5h1M378 571.5h1M417 571.5h1M421 571.5h1M220 572.5h1M232 572.5h2M255 572.5h1M373 572.5h1M375 572.5h1M377 572.5h2M423 572.5h1M219 573.5h1M225 573.5h1M232 573.5h1M257 573.5h1M377 573.5h2M415 573.5h1M417 573.5h1M419 573.5h1M431 573.5h2M220 574.5h1M232 574.5h1M362 574.5h1M374 574.5h1M377 574.5h2M380 574.5h1M382 574.5h2M411 574.5h1M413 574.5h2M417 574.5h1M419 574.5h1M421 574.5h1M426 574.5h1M214 575.5h1M216 575.5h1M227 575.5h1M233 575.5h2M253 575.5h1M256 575.5h1M375 575.5h1M381 575.5h2M385 575.5h1M387 575.5h1M408 575.5h1M410 575.5h1M412 575.5h1M414 575.5h1M417 575.5h1M231 576.5h1M254 576.5h1M258 576.5h1M374 576.5h1M377 576.5h2M384 576.5h1M388 576.5h4M405 576.5h1M407 576.5h1M425 576.5h1M203 577.5h1M221 577.5h1M231 577.5h1M234 577.5h1M359 577.5h1M366 577.5h1M371 577.5h1M382 577.5h1M385 577.5h1M391 577.5h1M393 577.5h2M396 577.5h2M399 577.5h1M401 577.5h2M404 577.5h1M410 577.5h1M216 578.5h1M229 578.5h1M253 578.5h1M375 578.5h1M384 578.5h1M389 578.5h1M391 578.5h1M395 578.5h1M402 578.5h1M213 579.5h1M225 579.5h1M256 579.5h2M259 579.5h1M378 579.5h1M393 579.5h1M396 579.5h1M399 579.5h1M420 579.5h1M423 579.5h1M228 580.5h1M253 580.5h2M376 580.5h1M379 580.5h1M391 580.5h1M394 580.5h1M397 580.5h2M206 581.5h1M224 581.5h1M229 581.5h1M232 581.5h3M253 581.5h1M255 581.5h1M379 581.5h1M395 581.5h1M401 581.5h1M408 581.5h1M218 582.5h1M229 582.5h1M233 582.5h2M253 582.5h1M371 582.5h1M387 582.5h1M391 582.5h1M397 582.5h1M404 582.5h3M421 582.5h1M231 583.5h1M233 583.5h1M259 583.5h1M391 583.5h1M403 583.5h1M419 583.5h1M428 583.5h1M226 584.5h2M232 584.5h1M382 584.5h1M214 585.5h1M233 585.5h1M255 585.5h2M369 585.5h1M393 585.5h1M416 585.5h1M226 586.5h1M230 586.5h4M253 586.5h2M260 586.5h1M211 587.5h1M215 587.5h1M226 587.5h1M234 587.5h1M233 588.5h1M253 588.5h1M255 588.5h1M274 588.5h1M438 588.5h1M254 589.5h1M374 589.5h1M217 590.5h1M234 590.5h1M254 590.5h2M222 591.5h1M225 591.5h1M230 591.5h1M234 591.5h1M253 591.5h1M255 591.5h1M259 591.5h1M399 591.5h1M231 592.5h1M233 592.5h1M264 592.5h1M417 592.5h1M235 593.5h1M261 593.5h1M234 594.5h2M253 594.5h1M257 594.5h1M216 595.5h1M254 595.5h1M216 596.5h1M229 596.5h2M235 596.5h1M252 596.5h2M255 596.5h1M235 597.5h1M252 597.5h1M254 597.5h1M350 597.5h1M236 598.5h1M251 598.5h2M254 598.5h1M263 598.5h1M233 599.5h1M235 599.5h2M252 599.5h1M234 600.5h1M254 600.5h1M256 600.5h1M265 600.5h1M229 601.5h1M233 601.5h1M237 601.5h1M251 601.5h2M264 601.5h1M272 601.5h1M341 601.5h1M255 602.5h1M257 602.5h1M261 602.5h1M388 602.5h1M217 603.5h1M233 603.5h1M235 603.5h1M250 603.5h1M263 603.5h1M209 604.5h1M236 604.5h2M249 604.5h2M252 604.5h1M254 604.5h1M236 605.5h3M256 605.5h1M231 606.5h1M233 606.5h1M236 606.5h1M238 606.5h1M248 606.5h1M218 607.5h1M247 607.5h2M250 607.5h1M252 607.5h1M268 607.5h1M401 607.5h1M238 608.5h1M240 608.5h1M251 608.5h1M235 609.5h1M237 609.5h1M240 609.5h2M244 609.5h1M246 609.5h1M248 609.5h3M233 610.5h1M240 610.5h2M243 610.5h1M247 610.5h1M249 610.5h1M263 610.5h1M237 611.5h1M240 611.5h1M243 611.5h3M247 611.5h1M250 611.5h1M225 612.5h1M230 612.5h1M236 612.5h1M238 612.5h1M243 612.5h1M249 612.5h1M219 613.5h1M229 613.5h1M240 613.5h1M252 613.5h1M228 614.5h1M234 614.5h1M242 614.5h1M248 614.5h1M252 614.5h1M260 614.5h1M237 615.5h1M239 615.5h1M241 615.5h1M234 616.5h1M252 616.5h1" stroke="#000" stroke-width="1" fill="none"/>
<path d="M245.5 608.6L243.5 608.9L241 607.5L238.8 604.5L237.2 600.5L235.1 590.5L234.7 576.5L234.2 573.5L232.5 571.1L226.5 566.9L223.3 563.5L221.1 559.5L220.1 555.5L220.1 552.5L221.1 548.5L224.5 543L230.5 538.7L237.5 536.7L245.5 537.1L248.5 538.1L252.5 540.4L257.4 545.5L258.9 548.5L259.9 552.5L259.9 555.5L259 559.5L253.3 570.5L253.1 587.5L251.7 597.5L249.2 604.5L247.5 607L245.5 608.6ZM403.5 576.5L395.5 576.9L386.5 575.1L379.5 571.7L370.5 564.4L366.5 563.1L354.5 561.4L348.5 559.9L343.6 557.5L342.6 556.5L342.1 554.5L343.6 552.5L348.5 550.1L354.5 548.6L371.5 546.3L375.5 544.6L383.5 540.1L389.5 538L399.5 537.1L409.5 538.9L416.5 542.3L422.1 547.5L425 553.5L425.2 559.5L422.8 565.5L418.2 570.5L411.5 574.4L403.5 576.5ZM244.5 606.7L242.5 606.4L240.5 604.6L238.7 601.5L237.3 597.5L235.8 589.5L235.5 575.5L234.8 572.5L233.2 570.5L227.5 566.6L224.4 563.5L222 559.5L221 555.5L221 552.5L222 548.5L225.5 543.2L231.5 539.1L238.5 537.4L245.5 538L248.5 539L252.5 541.4L257 546.5L259 552.5L259 555.5L258 559.5L253.5 567.5L252.4 570.5L252.3 587.5L250.7 597.5L248.3 603.5L246.5 605.7L244.5 606.7ZM403.5 575.6L394.5 575.9L386.5 574.1L380.5 571.1L373.5 565.2L370.8 563.5L350.2 559.5L345.9 557.5L344.8 556.5L344.3 554.5L345.9 552.5L349.5 550.7L356.5 549L369.3 547.5L373.5 546.5L383.5 541.1L390.5 538.8L395.5 538L400.5 538L409.5 539.9L416.5 543.6L421.4 548.5L423.7 553.5L423.9 559.5L422 564.5L417.5 569.7L411.5 573.3L403.5 575.6ZM245.5 603.9L243.5 604.3L241.5 603.1L239.5 600.2L238.1 596.5L236.6 588.5L236.5 575.5L235.9 572.5L234.5 570.4L228.5 566.2L225.5 563.4L223.1 559.5L222 555.5L222.7 549.5L225.6 544.5L228.5 541.8L231.5 540L237.5 538.3L241.5 538.2L245.5 538.9L251.5 541.8L255.9 546.5L258 552.5L258 555.5L257 559.5L252.5 567.5L251.4 570.5L251.6 585.5L250.2 595.5L248.3 600.5L245.5 603.9ZM403.5 574.6L394.5 574.9L386.5 573L380.5 569.8L372.5 563.3L368.5 562L356.5 560.2L351.5 558.9L347.3 556.5L346.7 554.5L348.6 552.5L353.5 550.5L373.5 547.4L384.5 541.8L390.5 539.8L395.5 539L400.5 539L409.5 541L415.5 544.2L419.9 548.5L422.4 553.5L422.8 556.5L422.6 559.5L420.6 564.5L416.5 569L410.5 572.6L403.5 574.6ZM244.5 601.5L242.5 601.1L241.5 600.2L239.9 597.5L238.5 593.5L237.4 585.5L237.5 574.5L236.8 571.5L235.1 569.5L229.5 565.8L226.5 563.1L224.1 559.5L223 555.5L223 552.5L223.7 549.5L226.9 544.5L231.5 541.1L238.5 539.1L245.5 539.8L250.5 542.2L254.8 546.5L256.3 549.5L257 552.5L257 555.5L256 559.5L251.3 567.5L250.3 570.5L250.6 584.5L249.5 593.5L247.5 598.8L246.2 600.5L244.5 601.5ZM403.5 573.6L395.5 574L387.5 572.2L381.5 569.1L373.3 562.5L369.5 561.3L354 558.5L350.2 556.5L349.5 554.5L351.6 552.5L355.5 551.1L371.5 548.7L375.5 547.7L384.5 543L390.5 540.8L399.5 540L408.5 541.8L414.5 544.9L418.3 548.5L421 553.5L421.4 558.5L419.7 563.5L415.5 568.3L409.5 571.9L403.5 573.6ZM245.5 597.8L244.5 598.3L242.5 597.8L240.8 595.5L239.7 592.5L238.6 585.5L238.9 574.5L238.3 571.5L236.5 569.2L230.5 565.3L227.3 562.5L225.3 559.5L224.1 555.5L224.5 550.5L227.3 545.5L231.5 542.2L237.5 540.2L243.5 540.3L249.5 542.7L251.8 544.5L254.2 547.5L255.9 552.5L256 555.5L254.9 559.5L250 567.5L248.9 570.5L249.5 582.5L249.1 588.5L247.6 594.5L245.5 597.8ZM402.5 572.6L394.5 572.8L387.5 571L382.5 568.3L376.5 563.2L373.7 561.5L370.5 560.5L356.5 557.9L353.5 556.5L352.7 555.5L352.7 554.5L355.3 552.5L358.5 551.5L371.5 549.7L376.2 548.5L385.5 543.8L391.5 541.7L400.5 541.1L408.5 543L414.5 546.5L418.1 550.5L419.7 554.5L419.7 559.5L417.4 564.5L413.5 568.3L408.5 571L402.5 572.6ZM245.5 593.5L244.5 594.2L242.5 593.5L240.7 589.5L240 582.5L240.7 573.5L239.8 570.5L237.8 568.5L231.5 564.7L228.8 562.5L226.6 559.5L225.3 555.5L225.7 550.5L227.9 546.5L232.5 542.8L237.5 541.2L243.5 541.3L248.5 543.3L252.9 547.5L254.8 552.5L254.8 555.5L253.7 559.5L248.4 567.5L247.1 570.5L247.9 585.5L247 590.5L245.5 593.5ZM401.5 571.6L395.5 571.7L388.5 570.1L383.6 567.5L377.5 562.3L374.5 560.5L360.4 557.5L357.8 556.5L356.7 555.5L356.7 554.5L357.9 553.5L360.5 552.5L376.5 549.6L387.5 544.2L392.5 542.7L400.5 542.3L407.5 543.9L412.5 546.6L416.3 550.5L418.1 554.5L418.1 559.5L416.3 563.5L412.5 567.4L407.5 570.1L401.5 571.6ZM244.5 569L243.5 569.3L241.5 568.8L232.5 564L229.5 561.5L227 557.5L226.5 553.5L227.5 549.5L230.5 545.5L234.5 543.1L240.5 542.1L245.5 543.1L250.5 546.4L253 550.5L253.6 554.5L252.4 559.5L249.5 563.8L244.5 569ZM399.5 570.5L393.5 570.2L388.5 568.7L384.5 566.4L376.5 559.9L372.5 558.2L364.9 556.5L362.9 555.5L362.9 554.5L365 553.5L376.5 551L387.5 545.6L392.5 544L400.5 543.6L407.5 545.3L411.5 547.6L415.1 551.5L416.5 555.5L416 560.5L413.5 564.5L409.8 567.5L404.5 569.7L399.5 570.5ZM244.5 587.1L243.5 587.1L242.5 584.2L242.5 581.5L243.5 578.5L244.5 578.5L245.5 581.5L245.5 584.5L244.5 587.1ZM244.5 566.1L240.5 566.2L235.5 564.3L231.5 561.7L228.9 558.5L227.9 555.5L228.2 551.5L230.3 547.5L233.5 545L238.5 543.4L243.5 543.7L248.5 546.3L251.1 549.5L252.3 553.5L251.4 558.5L248.5 562.9L244.5 566.1ZM402.5 568.7L395.5 569.1L388.5 567L385.5 565.2L379.5 559.8L374.7 556.5L373.7 555.5L374 554.5L387.5 547.2L392.5 545.4L400.5 544.9L407.5 547L410.5 548.9L413 551.5L414.4 554.5L414.6 558.5L412.9 562.5L410.5 565.1L406.5 567.5L402.5 568.7ZM244.5 563.9L241.5 564.4L237.5 563.6L233.5 561.5L230.7 558.5L229.5 555.5L229.8 551.5L231.4 548.5L234.5 546L238.5 544.8L242.5 544.9L246.5 546.5L249.5 549.6L250.8 553.5L250.2 557.5L247.7 561.5L244.5 563.9ZM399.5 567.6L393.5 567.1L387.5 564.5L380.3 557.5L379.5 555.5L379.7 554.5L381.8 552.5L386.5 549.5L393.5 546.8L400.5 546.5L404.5 547.5L407.5 548.9L410.5 551.5L412.2 554.5L412.6 557.5L411.8 560.5L409.5 563.5L406.7 565.5L403.5 566.8L399.5 567.6ZM244.5 561.7L241.5 562.5L238.5 562.1L235.5 560.8L232.8 558.5L231.4 555.5L231.4 552.5L232.5 550L234.5 548L237.5 546.6L241.5 546.3L244.9 547.5L247.5 549.8L248.8 552.5L248.7 556.5L247.1 559.5L244.5 561.7ZM400.5 565.6L394.5 565.4L389.5 563.4L384.5 558.5L383.6 556.5L383.9 554.5L385.6 552.5L388.5 550.6L394.5 548.4L400.5 548.3L406.2 550.5L408.4 552.5L409.6 554.5L410.1 556.5L409.6 559.5L408.4 561.5L406.1 563.5L400.5 565.6ZM243.5 559.6L241.5 560.2L238.5 559.9L234.8 557.5L233.7 555.5L233.5 553.5L234.2 551.5L235.5 549.9L237.5 548.7L240.5 548.3L243.5 549.1L245.3 550.5L246.5 552.5L246.7 555.5L245.5 557.9L243.5 559.6ZM402.5 562.6L399.5 563.4L396.5 563.4L391.5 561.7L389 559.5L387.8 557.5L388.1 554.5L391.5 551.8L395.5 550.5L399.5 550.5L403.5 551.8L406.3 554.5L406.9 557.5L405.5 560.5L402.5 562.6ZM241.5 556.6L239.5 556.7L237.7 555.5L237.3 553.5L238.5 552L240.5 551.5L242.5 552.5L243.1 554.5L241.5 556.6ZM399.5 559.5L396.5 559.6L394.5 558.7L393.4 557.5L393.6 555.5L396.5 554L398.5 554L400.5 554.8L401.5 555.9L401.7 557.5L399.5 559.5Z" stroke="#4a4a4a" stroke-width="0.85" fill="none"/>
<path d="M839 363.5h1M835 380.5h1M852 384.5h1M856 388.5h1M833 389.5h1M871 389.5h1M852 392.5h1M870 393.5h1M857 394.5h1M841 395.5h1M846 395.5h1M852 395.5h1M859 395.5h1M840 396.5h1M848 396.5h1M838 397.5h1M854 397.5h2M859 397.5h1M861 397.5h1M865 397.5h1M847 398.5h1M852 398.5h1M857 398.5h1M845 399.5h1M847 399.5h1M854 399.5h1M848 400.5h1M852 400.5h1M854 400.5h1M865 400.5h1M852 401.5h3M861 401.5h1M863 401.5h1M850 402.5h1M852 402.5h1M862 402.5h1M831 403.5h1M836 403.5h1M851 403.5h1M849 404.5h2M864 404.5h1M865 405.5h1M865 406.5h1M843 408.5h1M846 408.5h1M844 409.5h1M846 409.5h1M869 409.5h1M828 410.5h1M830 410.5h1M844 410.5h2M870 410.5h1M839 411.5h1M844 411.5h1M838 413.5h1M843 413.5h1M869 413.5h1M844 414.5h1M869 414.5h1M872 414.5h1M844 415.5h1M869 415.5h1M842 416.5h2M869 416.5h1M843 417.5h1M873 417.5h2M842 418.5h1M842 419.5h1M875 419.5h1M881 419.5h1M843 420.5h1M838 421.5h1M842 421.5h1M834 422.5h1M873 423.5h1M841 424.5h1M877 424.5h1M871 426.5h1M839 427.5h1M841 427.5h1M833 429.5h1M838 429.5h1M842 429.5h1M874 429.5h1M838 431.5h1M840 431.5h2M836 432.5h1M870 432.5h1M830 434.5h1M833 434.5h1M835 434.5h1M870 434.5h2M877 434.5h1M881 434.5h1M753 435.5h1M830 435.5h1M833 435.5h2M870 435.5h1M830 436.5h1M872 436.5h1M711 437.5h1M832 437.5h1M869 437.5h2M874 437.5h2M834 438.5h1M866 438.5h1M828 440.5h1M834 440.5h1M866 440.5h1M871 440.5h1M866 441.5h1M873 441.5h1M738 442.5h1M832 442.5h1M867 442.5h1M866 443.5h1M872 443.5h1M700 444.5h1M829 444.5h1M832 444.5h1M867 444.5h1M828 445.5h1M866 445.5h1M823 446.5h1M827 446.5h1M829 446.5h1M830 447.5h1M833 447.5h1M867 447.5h1M743 448.5h1M760 448.5h1M832 448.5h1M872 448.5h2M828 449.5h1M832 449.5h1M866 449.5h1M828 450.5h1M866 450.5h1M869 450.5h2M879 450.5h1M865 451.5h1M757 452.5h1M828 452.5h1M866 452.5h1M682 453.5h1M759 453.5h1M865 453.5h1M831 454.5h1M865 454.5h1M870 454.5h1M701 455.5h1M824 455.5h1M826 455.5h1M829 455.5h1M831 455.5h1M869 455.5h1M831 456.5h3M742 457.5h1M832 457.5h2M765 458.5h1M833 458.5h1M864 458.5h1M868 458.5h1M667 459.5h1M672 460.5h1M703 460.5h1M725 460.5h1M737 460.5h1M780 460.5h1M828 460.5h1M864 460.5h1M706 461.5h1M866 461.5h1M671 462.5h1M863 462.5h1M868 462.5h1M722 463.5h1M827 463.5h1M835 463.5h1M862 463.5h1M676 464.5h1M692 464.5h1M716 464.5h1M746 464.5h1M832 465.5h1M715 466.5h1M756 466.5h2M834 466.5h1M836 466.5h1M862 466.5h1M733 467.5h1M746 467.5h1M862 467.5h1M832 468.5h1M860 468.5h1M863 468.5h1M870 468.5h1M684 470.5h1M838 470.5h1M857 470.5h1M639 471.5h1M706 471.5h1M716 471.5h2M742 471.5h1M842 471.5h1M856 471.5h1M864 471.5h1M729 472.5h1M746 472.5h1M842 472.5h1M731 473.5h1M735 473.5h1M749 473.5h1M755 473.5h1M836 473.5h1M840 473.5h1M844 473.5h1M846 473.5h1M848 473.5h1M854 473.5h1M856 473.5h1M858 473.5h1M657 474.5h1M833 474.5h1M840 474.5h1M846 474.5h1M851 474.5h2M647 475.5h1M712 475.5h1M850 475.5h1M710 476.5h1M715 476.5h1M718 476.5h2M732 476.5h1M734 476.5h1M777 476.5h1M785 476.5h1M844 476.5h1M854 476.5h1M867 476.5h1M728 477.5h1M771 477.5h1M848 477.5h1M694 478.5h1M701 478.5h1M705 478.5h1M795 478.5h1M815 478.5h1M829 478.5h1M842 478.5h1M853 478.5h1M758 479.5h1M804 479.5h1M855 479.5h1M857 479.5h1M674 480.5h1M705 480.5h1M713 480.5h1M721 480.5h1M740 480.5h1M763 480.5h1M672 481.5h1M675 481.5h1M741 481.5h1M750 481.5h1M842 481.5h1M716 482.5h1M749 482.5h1M848 482.5h2M727 483.5h1M841 483.5h1M698 484.5h1M707 484.5h1M811 484.5h1M868 484.5h1M654 485.5h1M695 485.5h1M707 485.5h1M730 485.5h3M792 485.5h1M838 485.5h1M844 485.5h1M687 486.5h1M692 486.5h1M698 486.5h1M710 486.5h1M743 486.5h1M749 486.5h1M770 486.5h1M698 487.5h1M749 487.5h1M760 487.5h1M777 487.5h1M668 488.5h1M706 488.5h2M730 488.5h1M748 488.5h1M699 489.5h1M713 489.5h1M739 489.5h1M743 489.5h1M764 489.5h1M827 489.5h1M695 490.5h3M699 490.5h2M704 490.5h1M706 490.5h1M708 490.5h2M740 490.5h1M744 490.5h1M748 490.5h1M761 490.5h2M769 490.5h1M799 490.5h1M861 490.5h1M878 490.5h1M708 491.5h1M712 491.5h1M716 491.5h1M719 491.5h1M742 491.5h1M745 491.5h1M754 491.5h1M757 491.5h1M760 491.5h1M764 491.5h1M777 491.5h1M800 491.5h1M828 491.5h1M645 492.5h1M685 492.5h1M703 492.5h1M743 492.5h1M756 492.5h2M761 492.5h1M767 492.5h1M770 492.5h1M719 493.5h1M727 493.5h1M732 493.5h2M736 493.5h2M747 493.5h3M756 493.5h1M763 493.5h1M765 493.5h1M778 493.5h1M781 493.5h1M783 493.5h1M789 493.5h2M808 493.5h1M833 493.5h1M836 493.5h1M859 493.5h1M683 494.5h1M685 494.5h1M692 494.5h1M726 494.5h1M729 494.5h1M732 494.5h1M736 494.5h1M739 494.5h1M746 494.5h3M755 494.5h1M757 494.5h1M765 494.5h1M770 494.5h1M773 494.5h1M776 494.5h1M786 494.5h1M791 494.5h1M823 494.5h1M722 495.5h1M733 495.5h1M736 495.5h1M771 495.5h1M773 495.5h4M778 495.5h2M783 495.5h1M785 495.5h1M843 495.5h1M683 496.5h1M688 496.5h1M725 496.5h1M729 496.5h1M731 496.5h1M787 496.5h1M815 496.5h1M837 496.5h1M651 497.5h1M682 497.5h1M686 497.5h1M785 497.5h1M798 497.5h1M887 497.5h1M790 498.5h2M794 498.5h1M796 498.5h2M806 498.5h1M849 498.5h1M680 499.5h1M685 499.5h1M793 499.5h1M796 499.5h3M810 499.5h1M812 499.5h1M875 499.5h1M677 500.5h1M802 500.5h2M809 500.5h1M856 500.5h1M674 501.5h1M679 501.5h1M681 501.5h2M802 501.5h1M813 501.5h2M820 501.5h1M839 501.5h1M638 502.5h1M676 502.5h4M681 502.5h1M811 502.5h1M817 502.5h1M835 502.5h1M807 503.5h1M812 503.5h1M820 503.5h1M843 503.5h1M675 504.5h1M807 504.5h1M813 504.5h2M861 504.5h1M677 505.5h1M680 505.5h1M806 505.5h1M809 505.5h2M828 505.5h1M838 505.5h1M657 506.5h2M674 506.5h2M678 506.5h1M809 506.5h1M821 506.5h1M823 506.5h2M870 506.5h1M647 507.5h1M658 507.5h1M668 507.5h1M670 507.5h1M674 507.5h1M679 507.5h1M809 507.5h1M811 507.5h1M813 507.5h1M817 507.5h1M839 507.5h1M667 508.5h2M677 508.5h1M814 508.5h1M829 508.5h1M843 508.5h1M671 509.5h1M675 509.5h1M818 509.5h1M823 509.5h1M832 509.5h1M645 510.5h1M648 510.5h1M666 510.5h1M823 510.5h1M858 510.5h1M673 511.5h1M675 511.5h1M813 511.5h1M822 511.5h1M827 511.5h1M812 512.5h1M817 512.5h2M821 512.5h1M824 512.5h1M672 513.5h1M816 513.5h2M820 513.5h1M823 513.5h2M836 513.5h1M875 513.5h1M636 514.5h1M642 514.5h1M669 514.5h1M675 514.5h2M816 514.5h1M821 514.5h1M824 514.5h1M826 514.5h1M676 515.5h1M816 515.5h1M821 515.5h1M830 515.5h1M856 515.5h1M659 516.5h1M674 516.5h1M835 516.5h1M844 516.5h1M666 517.5h1M674 517.5h1M813 517.5h1M817 517.5h2M637 518.5h1M674 518.5h1M829 518.5h1M672 519.5h1M675 519.5h1M813 519.5h1M815 519.5h1M824 519.5h1M675 520.5h1M810 520.5h1M815 520.5h1M668 521.5h1M819 521.5h1M644 522.5h1M656 522.5h1M673 522.5h1M808 522.5h1M810 522.5h1M827 522.5h1M648 523.5h1M662 523.5h1M674 523.5h1M816 523.5h1M834 523.5h2M649 524.5h1M673 524.5h2M806 524.5h1M809 524.5h1M814 524.5h1M817 524.5h1M666 525.5h1M805 525.5h3M821 525.5h1M829 525.5h1M671 526.5h1M806 526.5h1M814 526.5h1M834 526.5h1M845 526.5h1M669 527.5h1M802 527.5h1M667 529.5h1M669 529.5h1M798 529.5h1M802 529.5h1M808 529.5h1M810 529.5h1M666 530.5h1M673 530.5h1M792 530.5h1M798 530.5h1M804 530.5h1M814 530.5h1M832 530.5h1M635 531.5h1M793 531.5h1M796 531.5h1M800 531.5h1M809 531.5h1M790 532.5h3M794 532.5h1M798 532.5h1M645 533.5h1M673 533.5h1M720 533.5h1M729 533.5h1M731 533.5h1M784 533.5h2M800 533.5h1M811 533.5h1M822 533.5h1M724 534.5h1M734 534.5h1M736 534.5h1M739 534.5h1M775 534.5h1M812 534.5h1M715 535.5h2M726 535.5h1M731 535.5h1M733 535.5h1M741 535.5h1M745 535.5h1M758 535.5h1M760 535.5h2M764 535.5h1M780 535.5h1M794 535.5h1M675 536.5h1M714 536.5h2M728 536.5h1M737 536.5h1M739 536.5h1M749 536.5h1M753 536.5h2M770 536.5h2M780 536.5h1M792 536.5h1M674 537.5h2M715 537.5h2M726 537.5h1M728 537.5h2M757 537.5h1M776 537.5h1M812 537.5h1M668 538.5h1M676 538.5h1M719 538.5h1M723 538.5h1M740 538.5h1M753 538.5h1M671 539.5h1M679 539.5h1M713 539.5h1M725 539.5h1M736 539.5h1M738 539.5h1M759 539.5h1M785 539.5h1M787 539.5h1M800 539.5h1M811 539.5h1M828 539.5h1M846 539.5h1M637 540.5h1M711 540.5h1M713 540.5h1M715 540.5h1M726 540.5h1M760 540.5h1M783 540.5h1M788 540.5h1M674 541.5h1M679 541.5h1M704 541.5h1M706 541.5h2M795 541.5h1M681 542.5h1M702 542.5h3M788 542.5h1M802 542.5h1M680 543.5h1M700 543.5h1M732 543.5h1M776 543.5h1M748 544.5h1M789 544.5h1M684 545.5h1M686 545.5h1M693 545.5h1M698 545.5h1M729 545.5h1M738 545.5h1M682 546.5h1M691 546.5h1M693 546.5h1M695 546.5h1M738 546.5h1M761 546.5h1M790 546.5h1M684 547.5h1M686 547.5h1M688 547.5h1M707 547.5h1M692 548.5h1M695 548.5h1M703 548.5h1M668 549.5h1M676 549.5h1M689 549.5h1M699 549.5h1M739 549.5h1M705 550.5h1M708 550.5h1M716 550.5h1M701 551.5h1M677 553.5h2M692 553.5h1M701 555.5h1M688 556.5h1M687 557.5h1M735 558.5h1" stroke="#000" stroke-width="1" fill="none"/>
<path d="M852.5 472.6L848.5 473.1L845.5 472.6L841.5 470.6L838.5 467.8L836.2 464.5L834.2 459.5L833.2 454.5L833.2 450.5L833.9 445.5L835.2 441.5L842.6 429.5L844.7 415.5L846.9 409.5L848.8 406.5L851.5 403.9L854.5 402.4L857.5 402L860.5 402.8L862.5 403.9L865.2 406.5L867.1 409.5L869.5 416.5L869.9 424.5L868.9 430.5L865.3 441.5L864.8 454.5L863.2 461.5L861.2 465.5L858.5 468.9L855.5 471.3L852.5 472.6ZM696.5 544.8L692.5 545.3L688.5 544.9L684.5 543.2L681.5 541L678.6 537.5L676.7 533.5L675.6 529.5L675.2 524.5L675.8 518.5L677.1 513.5L679.2 508.5L681.5 504.5L687.5 498.1L692.5 495.1L696.5 493.7L701.5 492.8L706.5 492.9L720 496.5L724.5 497.1L743.5 495.2L754.5 494.8L767.5 495.3L780.5 496.9L793.5 500L802.5 503.6L809.5 508.5L811.1 510.5L812.4 513.5L812.4 516.5L811.7 518.5L807.5 523.3L800.5 527.4L790.5 530.9L775.5 533.9L760.5 535.1L746.5 535L727.5 533L722.5 533.1L717.5 534.3L712.4 536.5L700.5 543.2L696.5 544.8ZM850.5 471.5L846.5 471.4L843.5 470.2L840.5 468L838.3 465.5L835.1 458.5L834.3 453.5L834.4 449.5L835.1 445.5L837 440.5L843.7 430.5L845.4 417.5L847.7 410.5L849.7 407.5L852.5 405L854.5 404L857.5 403.7L859.5 404L862.5 405.7L866.3 410.5L868.6 417.5L868.9 424.5L867.7 430.5L864.1 440.5L863.7 454.5L861.9 461.5L859.7 465.5L857 468.5L853.5 470.7L850.5 471.5ZM695.5 543.6L691.5 544L688.5 543.5L685.5 542.3L681.9 539.5L678 533.5L676.8 529.5L676.4 524.5L676.8 519.5L678 514.5L679.9 509.5L682.1 505.5L685.3 501.5L688.5 498.7L692.5 496.2L696.5 494.7L701.5 493.8L706.5 493.9L711.5 495L719.5 497.6L724.5 498.4L743.5 496.4L753.5 495.9L765.5 496.3L778.5 497.8L789.5 500.3L799.5 504L806.2 508.5L807.9 510.5L809.3 513.5L809.3 516.5L808.5 518.5L805 522.5L797.5 526.9L788.5 530L774.5 532.8L759.5 534L746.5 533.8L727.5 531.8L722.5 531.8L714.2 534.5L700.5 541.8L695.5 543.6ZM851.5 469.7L847.5 469.9L844.5 469L841.5 467L839.5 464.8L837.5 461.5L836.1 457.5L835.6 449.5L836.4 445.5L838 441.5L845 431.5L845.7 428.5L846.4 418.5L848.1 412.5L849.9 409.5L852.5 406.9L854.5 405.8L857.5 405.4L861.5 406.9L865.4 411.5L867.4 417.5L867.7 424.5L866.7 429.5L862.6 440.5L862.6 452.5L861.3 459.5L860 462.5L857.5 466L854.5 468.4L851.5 469.7ZM697.5 541.6L694.5 542.3L690.5 542.4L686.5 541.1L683.5 539.1L681.2 536.5L679 532.5L678 528.5L677.7 524.5L678.1 519.5L679.3 514.5L681.2 509.5L683.5 505.5L686.5 501.9L689.5 499.3L693.5 497L697.5 495.6L702.5 494.9L707.5 495.2L720.5 499.2L724.5 499.7L741.5 497.7L752.5 497.1L764.5 497.4L777.5 498.9L789.5 501.8L797.5 505.1L803.6 509.5L805.9 513.5L805.9 516.5L805.1 518.5L801.3 522.5L794.5 526.3L785.5 529.3L771.5 531.9L757.5 532.9L745.5 532.6L727.5 530.4L722.5 530.4L713.7 533.5L697.5 541.6ZM852.5 467.5L849.5 468.2L846.5 467.9L843.5 466.4L841.3 464.5L839.2 461.5L837.9 458.5L837 454.5L836.9 450.5L837.6 446.5L839.1 442.5L846.6 432.5L847.2 429.5L847.5 419.5L849.2 413.5L852.5 409.1L854.5 407.9L857.5 407.4L861.5 409.1L864.5 413L866.2 418.5L866.4 424.5L865 430.5L861 439.5L861.3 452.5L860.2 458.5L858.9 461.5L856.7 464.5L852.5 467.5ZM695.5 540.5L691.5 540.8L688.5 540.2L683.5 536.9L680.2 531.5L679.2 527.5L679 523.5L679.6 518.5L680.9 513.5L684.9 505.5L690.5 500L697.5 496.7L702.5 496L707.5 496.3L720.5 500.6L724.5 501.2L741.5 499.1L751.5 498.4L763.5 498.6L774.5 499.8L784.5 502L793.5 505.3L799.8 509.5L802.3 513.5L801.9 517.5L798.7 521.5L792.5 525.2L783.5 528.3L770.5 530.7L756.5 531.6L744.5 531.2L727.5 528.9L722.5 529L717.4 530.5L699.5 539.2L695.5 540.5ZM851.5 465.8L848.5 466.2L846.5 465.8L844 464.5L841.9 462.5L839.2 457.5L838.4 450.5L839.2 446.5L841 442.5L847.7 435.5L848.9 433.5L848.8 421.5L850.5 414.7L853.5 410.9L855.5 409.9L857.5 409.7L860.5 410.9L863.4 414.5L864.9 419.5L864.9 424.5L863.5 429.7L858.8 438.5L858.6 441.5L859.8 451.5L858.8 457.5L856.1 462.5L854 464.5L851.5 465.8ZM696.5 538.5L693.5 539.1L690.5 538.9L687.5 537.8L684.5 535.5L682.4 532.5L681.2 529.5L680.5 522.5L682 514.5L685.8 506.5L688.3 503.5L691.5 500.8L694.5 499.1L698.5 497.7L703.5 497.2L708.5 497.8L720.5 502.2L724.5 502.9L740.5 500.6L750.5 499.8L761.5 499.9L772.5 501L782.5 503.2L790.5 506.2L795.6 509.5L798.4 513.5L798.5 515.5L798 517.5L794.4 521.5L788.5 524.8L780.5 527.4L767.5 529.6L754.5 530.3L744.5 529.8L727.5 527.3L722.5 527.3L718.5 528.5L696.5 538.5ZM855.5 434.5L854.5 434.6L853.5 433.8L852.5 431.9L851 426.5L850.7 421.5L851.5 417.5L853.2 414.5L855.5 412.7L857.5 412.5L859.8 413.5L862.1 416.5L863 419.5L863.2 423.5L862.2 427.5L860.5 430.7L858.5 432.8L855.5 434.5ZM850.5 463.6L846.5 463.3L842.9 460.5L840.5 455.5L840.2 450.5L841.1 446.5L843.5 442.5L847.5 439.3L852.5 437.4L853.5 437.7L854.5 438.8L856.5 443.4L857.8 448.5L857.9 452.5L857.2 456.5L855.5 460L853.5 462.2L850.5 463.6ZM696.5 536.6L693.5 537.1L690.5 536.8L687.5 535.5L685.5 533.7L682.8 528.5L682.2 521.5L683.8 513.5L687.5 506.5L692.5 501.7L698.5 499.1L703.5 498.5L708.5 499.1L720.5 504.1L724.5 504.9L740.5 502.2L749.5 501.4L759.5 501.3L770.5 502.4L779.5 504.2L786.5 506.8L791.5 509.9L794.1 513.5L794.3 515.5L793.6 517.5L791 520.5L785.5 523.7L777.5 526.3L765.5 528.3L752.5 528.7L742.5 528.1L727.5 525.4L723.5 525.2L719.5 526.3L709.5 531.3L696.5 536.6ZM858.5 427.6L856.5 428.3L855.5 428L854.5 427L853.5 424.5L853.8 419.5L855 417.5L856.5 416.6L859 417.5L860.4 420.5L860.3 424.5L858.5 427.6ZM850.5 460.6L847.5 460.6L845.5 459.5L843.3 456.5L842.4 452.5L842.9 448.5L844.4 445.5L846.5 443.5L849.5 442.4L851.5 442.7L853.5 444.3L855.1 447.5L855.7 450.5L855.6 453.5L854.5 456.9L852.5 459.5L850.5 460.6ZM696.5 534.5L693.5 534.9L690.5 534.4L686.6 531.5L684.3 526.5L684 520.5L685.5 513.5L688.5 507.5L693.5 502.8L699.5 500.3L703.5 499.9L708.5 500.6L712.5 502L720.5 506.4L724.5 507.3L739.5 504.2L748.5 503.1L759.5 503L769.5 504L777.5 505.8L784.1 508.5L788 511.5L789.5 514.5L788.8 517.5L785.7 520.5L780.5 523.1L773.5 525.2L762.5 526.8L750.5 527L740.5 526L727.5 523L723.5 522.8L719.5 524.1L708.5 530.1L696.5 534.5ZM850.5 455.5L848.5 456L847.5 455.5L846.2 453.5L846 451.5L846.5 449.5L848.5 447.7L850.5 448.1L852 450.5L851.9 453.5L850.5 455.5ZM699.5 531.6L693.5 532.3L689.5 530.7L686.7 526.5L685.9 521.5L686.9 514.5L689.8 508.5L694.5 504L699.5 501.9L704.5 501.5L709.5 502.5L714.5 505.1L721.5 510.1L724.5 511.1L726.5 510.8L737.5 506.9L745.5 505.4L756.5 504.9L766.5 505.7L773.5 507.2L779.3 509.5L782.1 511.5L783.9 514.5L783.6 516.5L782.1 518.5L777.5 521.3L770.5 523.5L761.5 524.9L752.5 525.1L743.5 524.3L735.5 522.5L726.5 519.2L723.5 519.1L721.5 519.9L710.5 527.4L699.5 531.6ZM697.5 529.5L694.5 529.4L692 528.5L690.5 527.2L688.9 524.5L688.3 521.5L688.3 517.5L689.3 513.5L690.7 510.5L694.5 506.2L699.5 503.7L705.5 503.3L711.5 505.5L715.4 508.5L718.4 512.5L719 515.5L717.9 518.5L714.5 522.5L709.5 525.9L703.5 528.3L697.5 529.5ZM759.5 522.5L749.5 522.4L740.5 520.8L737.2 519.5L734.1 517.5L733.2 516.5L732.8 514.5L735.4 511.5L739.7 509.5L746.5 507.9L753.5 507.3L761.5 507.7L768.5 509L773.5 510.9L776.5 513.5L776.9 514.5L776.5 516.5L772.8 519.5L766.7 521.5L759.5 522.5ZM700.5 526.6L695.5 526.2L693.5 525.1L692.1 523.5L690.8 518.5L691.7 513.5L694 509.5L697.8 506.5L702.5 505.2L707.5 505.9L710.6 507.5L713.7 510.5L715.1 513.5L714.8 517.5L713 520.5L709.5 523.5L705.5 525.4L700.5 526.6ZM759.5 518.6L753.5 518.9L748.5 518.2L744.6 516.5L743.8 515.5L743.8 514.5L744.6 513.5L747.5 512.1L754.5 511.1L762.5 512.1L765.4 513.5L766.2 514.5L766.2 515.5L764.5 517.1L759.5 518.6ZM701.5 523.5L698.5 523.3L695.4 521.5L694.1 518.5L694.3 514.5L695.8 511.5L698.5 509.1L701.5 508L705.5 508.1L708.5 509.4L710.6 511.5L711.5 513.5L711.6 516.5L710 519.5L707.7 521.5L704.5 523L701.5 523.5ZM703.5 518.8L700.5 518.6L698.9 516.5L699.8 513.5L702.5 512L705 512.5L706.6 514.5L706.5 516.4L705.8 517.5L703.5 518.8ZM701.5 528.5L695.5 529.1L691.5 527.5L689 523.5L688.5 520.5L688.8 516.5L691 510.5L693.4 507.5L695.5 505.8L700.5 503.7L706.5 503.8L711.5 505.8L715.9 509.5L718.2 513.5L718.2 516.5L716 520.5L712.5 523.7L707.5 526.6L701.5 528.5ZM763.5 521.6L753.5 522.2L743.5 521L736.7 518.5L734.5 516.5L734.1 514.5L736.5 511.7L740.5 509.8L746.5 508.4L753.5 507.8L760.5 508L767.5 509.2L772.5 511.1L775.3 513.5L775.7 514.5L775.3 516.5L773.2 518.5L768.6 520.5L763.5 521.6ZM700.5 527.7L695.5 527.7L693.5 527L691.5 525.3L690.5 523.5L689.7 520.5L690.3 514.5L692.8 509.5L696.5 506.2L701.5 504.4L707.5 505L711.5 506.9L714.4 509.5L716.3 512.5L716.6 516.5L714.4 520.5L711.2 523.5L706.5 526L700.5 527.7ZM759.5 520.6L751.5 520.7L744.5 519.5L740 517.5L739 516.5L738.4 514.5L740 512.5L743.5 510.8L748.5 509.7L753.5 509.2L759.5 509.4L764.5 510.3L768.2 511.5L771 513.5L771.5 515.5L769.5 517.8L765.5 519.5L759.5 520.6ZM701.5 526.5L696.5 526.6L694.5 525.9L692.7 524.5L690.9 520.5L691 515.5L693.1 510.5L696.5 507.2L700.5 505.5L705.5 505.3L709.5 506.8L713 509.5L714.9 512.5L715.2 516.5L713.9 519.5L710.5 522.9L706.5 525.1L701.5 526.5ZM760.5 518.6L754.5 519.1L748.9 518.5L744.1 516.5L743.4 514.5L744.1 513.5L746.5 512.2L753.5 511L761.1 511.5L765.9 513.5L766.6 514.5L765.9 516.5L760.5 518.6ZM700.5 525.6L695.5 524.8L693 522.5L691.8 518.5L692.6 513.5L695.2 509.5L698.5 507.1L702.5 506.1L707.5 506.9L710.5 508.6L713.1 511.5L714.1 514.5L713.6 517.5L711.7 520.5L708.5 523.1L704.5 524.8L700.5 525.6ZM704.5 523.8L700.5 524.4L696.5 523.6L694.1 521.5L693.1 518.5L693.4 514.5L694.9 511.5L697.5 508.8L701.5 507.2L705.5 507.3L708.5 508.5L710.9 510.5L712.5 513.5L712.6 516.5L711.1 519.5L708.5 521.9L704.5 523.8ZM704.5 522.7L700.5 523.3L697.5 522.6L695.5 521L694.4 518.5L694.6 514.5L696.2 511.5L698.5 509.4L701.5 508.2L704.5 508.1L707.5 509.1L709.5 510.6L711.2 513.5L711.3 516.5L710.4 518.5L707.5 521.3L704.5 522.7ZM704.5 521.6L701.5 522.1L698.5 521.5L697 520.5L695.8 518.5L695.6 515.5L696.8 512.5L698.8 510.5L701.5 509.3L704.5 509.2L706.5 509.9L708.7 511.5L709.9 513.5L709.9 516.5L708.9 518.5L706.8 520.5L704.5 521.6ZM703.5 520.7L700.5 520.7L698.5 519.8L697.3 518.5L696.8 516.5L697.1 514.5L698.3 512.5L700.5 510.8L702.5 510.3L704.5 510.4L706.5 511.2L707.9 512.5L708.7 514.5L708.6 516.5L707.3 518.5L703.5 520.7ZM704.5 518.9L701.5 519.4L699.5 518.5L698.7 517.5L698.7 514.5L700.5 512.3L703.5 511.6L705.5 512.3L706.7 513.5L706.9 516.5L704.5 518.9Z" stroke="#4a4a4a" stroke-width="0.85" fill="none"/>
<path d="M1163 387.5h1M1149 390.5h1M1141 393.5h1M1167 395.5h1M1138 411.5h1M1137 426.5h1M1225 429.5h1M1164 434.5h1M1193 440.5h1M1239 441.5h1M1247 441.5h1M1240 443.5h1M1153 444.5h1M1162 446.5h1M1155 447.5h1M1174 447.5h1M1236 447.5h1M1169 448.5h1M1217 448.5h1M1240 448.5h1M1257 449.5h1M1297 449.5h1M1169 450.5h1M1227 450.5h1M1234 450.5h1M1284 450.5h1M1208 451.5h1M1222 451.5h1M1258 451.5h1M1178 452.5h1M1218 453.5h2M1265 453.5h1M1185 454.5h1M1200 454.5h1M1223 454.5h1M1155 455.5h1M1255 455.5h1M1258 455.5h1M1209 456.5h1M1212 456.5h1M1248 456.5h1M1250 456.5h1M1299 456.5h1M1170 457.5h1M1238 457.5h1M1242 457.5h1M1249 457.5h1M1285 457.5h1M1162 458.5h1M1201 458.5h1M1212 458.5h2M1233 458.5h1M1236 458.5h1M1249 458.5h1M1168 459.5h1M1203 459.5h1M1210 459.5h1M1227 459.5h1M1250 459.5h1M1214 460.5h1M1175 461.5h1M1179 461.5h1M1217 461.5h1M1225 461.5h1M1235 461.5h1M1237 461.5h1M1235 462.5h1M1238 462.5h1M1286 462.5h1M1304 462.5h1M1176 463.5h1M1178 463.5h1M1188 463.5h1M1233 463.5h1M1279 463.5h1M1219 464.5h1M1185 465.5h1M1211 465.5h1M1234 465.5h1M1269 465.5h1M1206 466.5h1M1211 466.5h1M1213 466.5h1M1221 466.5h1M1333 466.5h1M1164 467.5h1M1182 467.5h1M1251 467.5h1M1256 467.5h1M1159 468.5h1M1234 468.5h1M1191 469.5h1M1231 469.5h1M1262 469.5h1M1206 470.5h1M1223 470.5h1M1237 470.5h1M1250 470.5h1M1269 470.5h1M1327 470.5h1M1146 471.5h1M1225 471.5h1M1237 471.5h1M1243 471.5h1M1299 471.5h1M1328 471.5h1M1190 472.5h1M1197 472.5h1M1217 472.5h1M1231 472.5h1M1237 472.5h1M1249 472.5h2M1147 473.5h1M1187 473.5h1M1247 473.5h1M1271 473.5h1M1122 474.5h1M1183 474.5h1M1230 474.5h1M1252 474.5h1M1269 474.5h1M1274 474.5h1M1245 476.5h1M1257 476.5h1M1242 477.5h1M1277 477.5h1M1106 478.5h1M1119 478.5h1M1245 478.5h1M1135 480.5h1M1291 480.5h1M1264 481.5h1M1270 481.5h1M1142 482.5h1M1263 483.5h1M1132 484.5h1M1111 485.5h1M1269 485.5h1M1276 485.5h1M1260 487.5h1M1278 488.5h1M1103 490.5h1M1118 490.5h1M1301 490.5h1M1132 491.5h1M1127 492.5h1M1277 492.5h1M1280 495.5h1M1301 495.5h1M1123 496.5h1M1132 496.5h1M1134 496.5h1M1100 498.5h1M1125 499.5h1M1281 501.5h1M1284 502.5h1M1297 502.5h1M1131 503.5h1M1138 503.5h1M1290 505.5h1M1116 508.5h1M1125 509.5h1M1127 511.5h1M1289 511.5h1M1125 512.5h1M1312 512.5h1M1293 513.5h1M1127 515.5h1M1127 518.5h1M1297 520.5h1M1106 521.5h1M1304 521.5h1M1123 525.5h1M1099 527.5h1M1113 529.5h1M1296 529.5h1M1119 530.5h1M1109 531.5h1M1125 532.5h1M1310 534.5h1M1295 535.5h1M1318 539.5h1M1121 544.5h1M1308 544.5h1M1127 546.5h1M1117 547.5h1M1291 548.5h1M1101 549.5h1M1129 550.5h1M1296 551.5h1M1102 554.5h1M1293 554.5h1M1317 554.5h1M1287 556.5h1M1316 557.5h1M1326 558.5h1M1302 562.5h1M1133 564.5h1M1295 564.5h1M1269 568.5h2M1225 570.5h1M1275 570.5h1M1241 571.5h1M1200 572.5h1M1210 572.5h1M1236 572.5h1M1261 572.5h1M1240 573.5h1M1181 574.5h1M1193 574.5h1M1249 574.5h1M1289 574.5h1M1208 575.5h1M1241 576.5h1M1208 577.5h1M1250 577.5h1M1142 578.5h1M1188 578.5h1M1193 578.5h1M1216 579.5h1M1257 579.5h1M1170 582.5h1M1174 586.5h1M1214 586.5h1M1150 588.5h1M1243 588.5h1M1177 590.5h1M1194 592.5h1M1163 595.5h1M1186 600.5h1M1221 600.5h1M1209 602.5h1M1227 602.5h1M1195 604.5h1M1216 605.5h1M1215 608.5h1" stroke="#000" stroke-width="1" fill="none"/>
<path d="M1157.5 445.1L1154.5 445.1L1151.5 441.9L1147.5 433.1L1140.9 422.5L1139.3 417.5L1138.8 413.5L1139 408.5L1139.8 404.5L1143.2 397.5L1145.5 394.8L1148.5 392.6L1151.5 391.3L1154.5 390.8L1157.5 391.1L1160.5 392.1L1163.5 394L1166 396.5L1168.1 399.5L1169.9 403.5L1171.2 410.5L1170.9 416.5L1169.2 422.5L1164.5 431.9L1160.8 441.5L1159.5 443.4L1157.5 445.1ZM1160.5 582.7L1154.5 583.4L1148.5 582L1143.5 578.9L1139.1 574.5L1134.9 567.5L1132.2 560.5L1130.7 553.5L1130 544.5L1130.3 536.5L1131.4 528.5L1133.2 520.5L1136.1 511.5L1145.8 486.5L1149.1 479.5L1153.5 473.2L1158.5 469.3L1162.5 468L1167.5 468.2L1171.5 469.7L1179.5 473.8L1184.5 475.1L1203.5 473.7L1215.5 473.9L1229.5 475.8L1241.5 479.1L1256.5 485.7L1271.5 495.2L1281.9 504.5L1286 509.5L1289.1 514.5L1292 521.5L1293.4 528.5L1293.4 536.5L1292 543.5L1288.9 550.5L1284.6 556.5L1278.5 562.2L1272.5 565.9L1267.5 568.1L1261.5 569.9L1250.5 571.3L1227.5 570.1L1204.5 570.3L1186.5 568.5L1182.5 568.6L1178.5 570.3L1166.5 580L1160.5 582.7ZM1156.5 443.7L1154.5 443.3L1152.5 441.5L1147.5 431.4L1142.9 424.5L1140.7 419.5L1139.7 413.5L1140.5 405.5L1141.9 401.5L1143.6 398.5L1148.5 393.8L1151.5 392.4L1154.5 391.9L1157.5 392.1L1160.5 393.2L1165.5 397.3L1169 403.5L1170.3 410.5L1170 416.5L1168.2 422.5L1164.5 429.9L1160.5 439.9L1158.5 442.6L1156.5 443.7ZM1157.5 581.5L1152.5 581.4L1147.5 579.6L1142.5 576L1138.8 571.5L1135.1 564.5L1133.2 558.5L1132.1 551.5L1131.8 544.5L1132.6 536.5L1134.2 529.5L1136.7 522.5L1143.1 508.5L1149 486.5L1151.2 481.5L1153.7 477.5L1156.5 474.5L1159.5 472.5L1163.5 471.4L1167.5 471.9L1171.5 473.7L1179.5 478.9L1184.5 480.5L1203.5 479L1214.5 479.1L1227.5 480.9L1239.5 484.3L1257.5 492.2L1272.5 500.9L1281.5 508.9L1285 513.5L1287.8 518.5L1290 524.5L1291.1 531.5L1290.9 537.5L1289.2 544.5L1286.3 550.5L1281.7 556.5L1276.5 561.1L1270.5 564.6L1260.5 568L1249.5 568.9L1241.5 568.2L1223.5 565.4L1203.5 565L1187.5 563.1L1183.5 563.2L1179.5 565.1L1170.6 574.5L1166.5 577.9L1162.5 580.1L1157.5 581.5ZM1156.5 441.8L1154.5 441.4L1152.5 439.4L1148.5 431.3L1143.4 423.5L1141.4 418.5L1140.5 413.5L1141.1 406.5L1144.1 399.5L1148.5 395L1151.5 393.6L1154.5 393L1159.5 394L1164.5 397.7L1168 403.5L1169.5 410.5L1169.1 416.5L1167.7 421.5L1160 438.5L1158.5 440.6L1156.5 441.8ZM1157.5 579.6L1153.5 579.7L1148.5 578.2L1143.5 574.7L1139.9 570.5L1137.1 565.5L1135 559.5L1133.7 552.5L1133.5 545.5L1134.4 537.5L1136.8 529.5L1139.5 523.9L1145.7 514.5L1147.6 510.5L1150.3 493.5L1152.3 486.5L1155.5 480.5L1157.5 478.3L1160.5 476.3L1164.5 475.5L1168.5 476.5L1171.6 478.5L1179.5 485L1183.5 486.7L1188.5 486.8L1203.5 485L1214.5 485.2L1226.5 487L1239.5 490.9L1260.5 498.6L1270.5 503.7L1275.5 507.3L1279.5 511.1L1283 515.5L1285.9 520.5L1287.9 526.5L1288.7 532.5L1288.4 538.5L1286.8 544.5L1283.7 550.5L1279.8 555.5L1274.5 559.9L1269.5 562.8L1259.5 566L1248.5 566.5L1239.5 565.1L1220.5 560.1L1200.5 558.8L1184.5 556.8L1181.5 557.8L1179.5 559.6L1172.4 569.5L1167.5 574.8L1162.5 578.1L1157.5 579.6ZM1156.5 439.8L1154.5 439.3L1152.8 437.5L1148.6 429.5L1144 422.5L1142.1 417.5L1141.4 412.5L1142.4 405.5L1145.4 399.5L1149.5 395.8L1154.5 394.2L1159.5 395.2L1162.5 397.2L1164.5 399.3L1167.3 404.5L1168.6 411.5L1168.2 416.5L1166.6 421.5L1159.5 437L1158.4 438.5L1156.5 439.8ZM1157.5 577.7L1153.5 577.7L1148.5 576.2L1144.5 573.3L1141.2 569.5L1138.4 564.5L1136.3 558.5L1135.2 552.5L1135 546.5L1136.3 537.5L1139.2 529.5L1143 523.5L1150.4 515.5L1152.4 512.5L1153.4 508.5L1153.6 497.5L1154.8 490.5L1157.5 484.6L1159.5 482.4L1161.5 481.1L1164.5 480.6L1168.5 482.1L1171.5 484.7L1178.5 492.7L1182.5 494.8L1186.5 494.9L1203.5 492.3L1214.5 492.4L1223.5 493.8L1259.5 502.2L1268.5 506.1L1274.5 510.1L1279.8 515.5L1284 522.5L1285.8 528.5L1286.4 534.5L1285.8 539.5L1283.9 545.5L1281.1 550.5L1277.5 554.7L1272.5 558.7L1267.5 561.4L1262.5 563.1L1257.5 564.1L1252.5 564.4L1246.5 563.9L1237.5 561.7L1222.5 555.3L1216.5 553.3L1198.5 551.2L1186.5 548.8L1183.5 548.8L1181.5 549.8L1179.5 552.2L1173.3 564.5L1168.5 571.2L1163.5 575.4L1157.5 577.7ZM1157.5 436.9L1156.5 437.4L1154.5 436.9L1152.5 434.5L1144.2 420.5L1142.5 413.5L1143.1 406.5L1145.5 401.2L1149.5 397.2L1154.5 395.6L1159.5 396.6L1163.2 399.5L1166.2 404.5L1167.5 410.5L1167.3 415.5L1166 420.5L1159.5 434.2L1157.5 436.9ZM1157.5 575.6L1153.5 575.7L1149.5 574.5L1145.5 571.8L1142.5 568.5L1140.1 564.5L1137.9 558.5L1136.8 552.5L1136.7 546.5L1137.3 541.5L1138.9 535.5L1143.1 527.5L1148.5 522.1L1159.8 515.5L1161.6 513.5L1161.9 511.5L1159.5 502.8L1159 497.5L1159.9 492.5L1162.5 489.2L1165.5 489L1168.5 491.5L1171 496.5L1174.3 507.5L1176.5 509.9L1180.5 509.5L1195.5 503.5L1204.5 501.9L1213.5 502L1229.5 504L1245.5 503.8L1253.5 504.4L1263.5 507L1271.5 511.3L1278 517.5L1282 524.5L1283.8 531.5L1283.7 537.5L1282.2 543.5L1279 549.5L1274.5 554.4L1269.5 557.9L1262.5 560.8L1256.5 561.9L1248.5 561.8L1240.5 559.8L1232.5 556.1L1219.5 547.3L1214.5 544.7L1196.5 540.8L1183.5 535.5L1180.5 535.3L1179.5 536.2L1178.5 538.5L1175.1 554.5L1171 564.5L1168.3 568.5L1164.5 572.4L1161.5 574.3L1157.5 575.6ZM1156.5 434.6L1155.5 434.6L1153.5 433.1L1146.5 422.5L1144.6 418.5L1143.6 413.5L1144 407.5L1146.1 402.5L1149.5 398.8L1151.5 397.7L1154.5 397L1158.5 397.7L1162.5 400.6L1165 404.5L1166.5 410.5L1166.2 415.5L1164.8 420.5L1159.3 431.5L1156.5 434.6ZM1256.5 559.5L1248.5 559.3L1241.5 557.3L1234.5 553.6L1228.4 548.5L1221.4 539.5L1216 528.5L1215.4 525.5L1215.6 523.5L1218.4 519.5L1225.9 514.5L1233.5 510.9L1240.5 508.8L1248.5 507.7L1256.5 508.2L1263.5 510.1L1269.5 513.2L1274.5 517.5L1278.7 523.5L1280.9 529.5L1281.3 536.5L1279.5 543.5L1275.9 549.5L1270.5 554.5L1263.5 558.1L1256.5 559.5ZM1156.5 573.5L1152.5 573.3L1149.5 572.2L1146.5 570.1L1143.3 566.5L1141 562.5L1139.3 557.5L1138.5 552.5L1138.3 547.5L1138.9 542.5L1140.2 537.5L1141.9 533.5L1144.5 529.6L1147.5 526.5L1151.5 523.9L1154.5 522.8L1158.5 522.5L1161.5 523L1164.5 524.5L1167.5 527L1170.1 530.5L1172.9 537.5L1173.7 546.5L1172.1 556.5L1170.3 561.5L1168.1 565.5L1165.5 568.7L1162.5 571.3L1159.5 572.8L1156.5 573.5ZM1157.5 430.7L1155.5 431.4L1152.5 428.7L1146.8 420.5L1145.2 416.5L1144.7 413.5L1145 408.5L1147 403.5L1150.5 399.9L1154.5 398.5L1158.5 399.3L1161.5 401.5L1164.1 405.5L1165.3 410.5L1165.1 415.5L1163.9 419.5L1160.5 426.2L1157.5 430.7ZM1259.5 556.5L1255.5 557.1L1250.5 556.9L1245.5 555.8L1241.5 554.3L1237.5 551.9L1233.5 548.6L1228.4 541.5L1226.8 537.5L1226 533.5L1226.1 529.5L1227.1 525.5L1228.7 522.5L1231.5 519L1238.5 514.1L1243.5 512.2L1249.5 511.1L1255.5 511.2L1260.5 512.2L1265.5 514.2L1269.5 516.7L1273.4 520.5L1276.1 524.5L1278 529.5L1278.6 534.5L1278 539.5L1276.1 544.5L1273.4 548.5L1269.5 552.1L1264.5 555L1259.5 556.5ZM1158.5 570.7L1155.5 571.2L1152.5 570.8L1149.5 569.6L1146.5 567.2L1144.3 564.5L1142.2 560.5L1140.9 556.5L1140.1 551.5L1140.8 542.5L1143.8 534.5L1146.5 531L1149.5 528.4L1152.5 526.9L1155.5 526.3L1158.5 526.5L1161.5 527.5L1166.2 531.5L1168.2 534.5L1169.9 538.5L1171.1 545.5L1170.6 553.5L1168 561.5L1163.7 567.5L1158.5 570.7ZM1156.5 427.9L1155.5 428L1153.5 426.9L1149.5 422.1L1147 417.5L1146.1 413.5L1146.4 408.5L1148.1 404.5L1151 401.5L1154.5 400.3L1158.5 401.2L1161.2 403.5L1163.3 407.5L1164 411.5L1163.7 415.5L1162 420.5L1158.5 426.2L1156.5 427.9ZM1259.5 553.7L1251.5 554.2L1247.5 553.4L1243.5 551.9L1237.3 547.5L1234.7 544.5L1232.5 540.5L1231 533.5L1231.4 529.5L1232.4 526.5L1234.1 523.5L1236.7 520.5L1239.5 518.3L1243.5 516.2L1247.5 514.9L1252.5 514.3L1257.5 514.7L1261.5 515.8L1265.5 517.6L1269.3 520.5L1272 523.5L1274.2 527.5L1275.4 531.5L1275.6 535.5L1275 539.5L1273.3 543.5L1270.5 547.4L1267.5 550.1L1263.5 552.4L1259.5 553.7ZM1158.5 567.9L1153.5 568.3L1150.5 567.3L1148.1 565.5L1145.6 562.5L1144 559.5L1142.2 552.5L1142.4 544.5L1144.8 537.5L1146.8 534.5L1149.5 531.9L1154.5 529.8L1159.5 530.5L1163.7 533.5L1166.9 538.5L1168.7 545.5L1168.6 552.5L1166.5 559.5L1163.3 564.5L1158.5 567.9ZM1155.5 424.6L1152.5 422.9L1149.8 419.5L1148.3 416.5L1147.6 412.5L1148.1 408.5L1149.5 405.6L1151.5 403.5L1154.5 402.4L1157.5 402.9L1159.7 404.5L1161.6 407.5L1162.5 411.5L1162.1 415.5L1160.5 419.8L1157.5 423.8L1155.5 424.6ZM1258.5 550.7L1251.5 550.9L1245.5 549.1L1240.5 545.5L1238.1 542.5L1236.6 539.5L1235.5 533.5L1237 527.5L1240.9 522.5L1246.5 519.2L1250.5 518.1L1254.5 517.9L1261.5 519.4L1264.5 521L1267.5 523.5L1269.9 526.5L1271.3 529.5L1272 532.5L1272.1 536.5L1270 542.5L1265.5 547.5L1262.5 549.3L1258.5 550.7ZM1158.5 564.6L1156.5 565.2L1153.5 565.1L1149.5 563.1L1146.1 558.5L1144.4 552.5L1144.6 545.5L1146.5 539.8L1149.9 535.5L1152.5 534L1154.5 533.4L1158.5 534L1162 536.5L1164.6 540.5L1166.2 546.5L1166.1 552.5L1164.7 557.5L1162.3 561.5L1158.5 564.6ZM1156.5 420.8L1154.5 420.8L1152.5 419.5L1150.5 416.5L1149.7 413.5L1149.7 410.5L1150.5 408.2L1152.5 405.8L1154.5 405L1156.5 405.2L1158.5 406.6L1159.7 408.5L1160.5 411.5L1160.3 414.5L1159.5 417.2L1158 419.5L1156.5 420.8ZM1258.5 546.6L1253.5 547.2L1248.5 546L1244.5 543.4L1241.6 539.5L1240.5 535.5L1241.1 530.5L1243.6 526.5L1247.5 523.6L1252.5 522.1L1258.5 522.7L1263.5 525.4L1266.7 529.5L1268 534.5L1266.9 539.5L1263.5 544L1258.5 546.6ZM1157.5 560.8L1154.5 561.3L1150.7 559.5L1148.5 556.4L1147.1 551.5L1147.3 546.5L1148.6 542.5L1151.5 539L1154.5 537.7L1157.5 538.1L1160.5 540.4L1162.3 543.5L1163.3 547.5L1163.3 551.5L1162.2 555.5L1160.5 558.5L1157.5 560.8ZM1155.5 415.8L1154.2 415.5L1153 413.5L1153 411.5L1154.5 409.5L1156.5 410.2L1157.2 411.5L1156.9 414.5L1155.5 415.8ZM1257.5 540.7L1255.5 541.2L1252.5 541L1249.6 539.5L1248 537.5L1247.3 535.5L1247.6 532.5L1248.9 530.5L1250.5 529.2L1253.5 528.2L1256.5 528.4L1258.8 529.5L1260.7 531.5L1261.5 533.5L1261.3 536.5L1259.5 539.4L1257.5 540.7ZM1156.5 554.6L1154.5 554.9L1153.5 554.4L1152.5 553.4L1151.5 550.6L1152.2 546.5L1154.5 544.4L1156.1 544.5L1157.5 545.5L1158.8 548.5L1158.5 551.8L1156.5 554.6Z" stroke="#4a4a4a" stroke-width="0.85" fill="none"/>
<path d="M1613 395.5h1M1647 396.5h1M1598 401.5h1M1653 410.5h1M1596 411.5h1M1626 412.5h1M1679 415.5h1M1732 415.5h1M1615 417.5h1M1629 417.5h1M1694 417.5h1M1652 420.5h1M1685 421.5h1M1723 421.5h1M1679 422.5h1M1685 423.5h1M1687 423.5h1M1670 424.5h1M1677 424.5h1M1699 424.5h1M1713 424.5h1M1716 424.5h1M1666 425.5h1M1668 425.5h1M1681 425.5h1M1636 426.5h1M1665 426.5h1M1678 426.5h1M1689 426.5h1M1692 427.5h1M1713 427.5h1M1616 428.5h1M1662 429.5h1M1657 430.5h1M1704 430.5h2M1615 431.5h1M1642 433.5h1M1653 433.5h1M1585 434.5h1M1618 434.5h1M1597 435.5h1M1643 437.5h1M1711 438.5h1M1612 439.5h1M1710 439.5h1M1616 443.5h1M1633 443.5h1M1715 443.5h1M1626 444.5h1M1624 445.5h1M1630 445.5h1M1715 445.5h1M1614 446.5h1M1615 447.5h1M1619 447.5h2M1710 447.5h1M1621 448.5h1M1708 449.5h1M1600 450.5h1M1768 450.5h1M1559 454.5h1M1705 454.5h1M1707 454.5h1M1707 456.5h1M1607 457.5h1M1601 459.5h1M1745 459.5h1M1602 461.5h1M1596 462.5h1M1604 463.5h1M1696 463.5h1M1696 464.5h1M1603 465.5h1M1694 465.5h1M1603 466.5h1M1693 466.5h1M1705 466.5h1M1603 467.5h1M1704 467.5h1M1689 468.5h1M1593 469.5h1M1600 470.5h1M1794 470.5h1M1680 474.5h1M1687 474.5h1M1696 475.5h1M1684 476.5h1M1679 477.5h1M1688 478.5h1M1674 479.5h1M1703 479.5h1M1694 481.5h1M1717 481.5h1M1599 483.5h1M1676 483.5h1M1680 483.5h1M1729 483.5h1M1675 484.5h1M1678 485.5h1M1705 485.5h1M1715 485.5h1M1596 486.5h1M1679 487.5h1M1682 488.5h1M1596 489.5h1M1599 490.5h1M1600 493.5h1M1601 494.5h1M1737 494.5h1M1684 495.5h1M1686 495.5h1M1551 496.5h1M1573 496.5h1M1558 497.5h1M1723 497.5h1M1692 498.5h1M1600 499.5h1M1562 500.5h1M1687 502.5h1M1693 503.5h1M1691 504.5h1M1600 506.5h1M1684 506.5h1M1686 506.5h1M1691 506.5h1M1683 508.5h1M1553 509.5h1M1602 509.5h1M1588 510.5h1M1689 510.5h1M1697 511.5h1M1702 511.5h1M1586 512.5h1M1599 513.5h1M1685 513.5h2M1598 514.5h1M1720 515.5h1M1690 516.5h1M1714 516.5h1M1599 517.5h1M1698 518.5h1M1599 519.5h1M1694 520.5h1M1684 521.5h1M1768 521.5h1M1597 522.5h1M1685 522.5h1M1709 522.5h1M1714 522.5h1M1594 523.5h1M1700 525.5h1M1683 526.5h1M1706 526.5h1M1715 526.5h1M1731 526.5h1M1716 527.5h1M1688 528.5h1M1696 528.5h1M1716 528.5h1M1599 529.5h1M1722 529.5h1M1601 530.5h1M1688 530.5h1M1720 530.5h1M1597 531.5h1M1600 531.5h1M1687 531.5h1M1712 531.5h1M1716 531.5h1M1598 532.5h1M1685 532.5h1M1687 532.5h1M1701 532.5h1M1683 533.5h1M1696 533.5h1M1707 533.5h1M1680 534.5h1M1720 534.5h1M1598 535.5h1M1679 535.5h1M1594 536.5h1M1685 536.5h1M1679 537.5h1M1702 537.5h1M1690 538.5h1M1704 538.5h1M1707 538.5h1M1716 538.5h1M1705 539.5h1M1715 539.5h1M1699 540.5h1M1709 540.5h1M1716 540.5h1M1585 541.5h1M1687 541.5h1M1701 541.5h1M1709 541.5h1M1721 541.5h2M1679 542.5h1M1695 542.5h1M1716 542.5h1M1721 542.5h1M1709 543.5h1M1713 543.5h1M1734 543.5h1M1684 544.5h1M1692 544.5h1M1570 545.5h1M1674 545.5h1M1691 545.5h1M1716 545.5h1M1702 546.5h1M1673 547.5h1M1707 547.5h1M1717 547.5h1M1673 548.5h1M1686 548.5h1M1698 549.5h1M1741 549.5h1M1698 550.5h1M1703 550.5h1M1718 550.5h1M1583 551.5h1M1693 551.5h1M1712 551.5h1M1716 551.5h2M1707 552.5h1M1663 553.5h1M1675 553.5h1M1695 553.5h1M1699 553.5h1M1701 553.5h1M1721 553.5h1M1749 553.5h1M1588 554.5h1M1720 554.5h1M1722 554.5h1M1725 554.5h1M1669 555.5h2M1681 555.5h1M1717 555.5h1M1664 556.5h1M1668 556.5h1M1707 556.5h1M1715 556.5h1M1719 556.5h1M1737 556.5h1M1660 557.5h1M1691 557.5h1M1693 557.5h1M1721 557.5h1M1567 558.5h1M1678 558.5h1M1682 558.5h1M1700 559.5h1M1708 559.5h2M1589 560.5h1M1651 560.5h1M1663 560.5h1M1712 560.5h1M1655 561.5h1M1685 561.5h1M1719 561.5h1M1660 563.5h1M1729 564.5h1M1709 565.5h1M1736 566.5h2M1658 567.5h1M1661 567.5h2M1652 568.5h1M1655 568.5h1M1663 568.5h1M1669 568.5h1M1586 569.5h1M1642 569.5h1M1663 569.5h1M1669 571.5h1M1700 571.5h1M1598 572.5h1M1604 572.5h1M1635 572.5h1M1603 573.5h1M1632 573.5h1M1620 574.5h1M1595 575.5h1M1621 575.5h1M1635 575.5h1M1619 576.5h1M1622 576.5h2M1642 576.5h1M1612 577.5h1M1643 578.5h1M1590 579.5h1M1633 579.5h1M1567 580.5h1M1624 580.5h1M1698 580.5h1M1739 580.5h1M1729 581.5h1M1682 583.5h1M1720 586.5h1M1610 587.5h1M1616 589.5h1M1645 589.5h1M1701 594.5h1M1682 610.5h1M1632 612.5h1" stroke="#000" stroke-width="1" fill="none"/>
<path d="M1628.5 573.5L1622.5 574.3L1615.5 574.1L1609.5 573.1L1603.5 571L1598.5 568.4L1593.8 564.5L1590.8 560.5L1589 555.5L1589.2 549.5L1591.4 544.5L1594.5 540.5L1602.9 532.5L1604.7 528.5L1603 510.5L1602.2 478.5L1603.1 470.5L1605.7 463.5L1610 457.5L1616.5 452.5L1632.8 445.5L1649.5 435.9L1660.5 431.1L1672.5 428L1683.5 427L1693.5 427.8L1701.5 430.5L1706.7 434.5L1709.4 439.5L1709.9 442.5L1709.6 445.5L1707.3 451.5L1703.6 456.5L1698.5 461.4L1692.5 465.9L1678.5 474.5L1675 477.5L1673.9 479.5L1673.9 482.5L1678 491.5L1680.2 498.5L1682.1 511.5L1682.1 519.5L1681.1 527.5L1679.1 535.5L1676.5 541.5L1673.5 546.1L1670.5 549.1L1666.5 551.5L1657.5 554.2L1648.6 563.5L1643.5 567.5L1636.5 571.2L1628.5 573.5ZM1628.5 572.6L1622.5 573.4L1615.5 573.2L1609.5 572.1L1603.5 570L1598.5 567.1L1594.5 563.5L1591.7 559.5L1590.4 555.5L1590.6 549.5L1592.8 544.5L1596.1 540.5L1604.9 532.5L1606.7 528.5L1604.8 511.5L1604.7 493.5L1603.9 478.5L1604.8 470.5L1607.1 464.5L1611.4 458.5L1617.5 453.8L1632.5 447.2L1649.5 437L1660.5 432.2L1671.5 429.2L1681.5 428.1L1691.5 428.7L1699.5 431.2L1702.5 432.9L1705.3 435.5L1707.8 440.5L1708.1 443.5L1707.7 446.5L1705 452.5L1701 457.5L1695.5 462.4L1688.5 467.1L1673.9 475.5L1670.2 478.5L1669 480.5L1669.3 483.5L1673.8 490.5L1676.6 496.5L1678.3 502.5L1679.2 508.5L1679.6 516.5L1678.8 524.5L1677.2 531.5L1674.8 537.5L1671.5 542.4L1667.5 545.6L1663.5 546.8L1657.5 547L1655.5 548.1L1649.9 559.5L1643.5 566.1L1636.5 570.1L1628.5 572.6ZM1649.1 536.5L1649.3 533.5L1647.5 526.9L1645.5 522.5L1644.5 521.4L1643.5 521.3L1641.5 523.5L1640.1 526.5L1639.6 529.5L1640.1 531.5L1642.5 534.4L1645.5 536.4L1647.5 537.1L1649.1 536.5ZM1628.5 571.6L1622.5 572.4L1615.5 572.2L1609.5 571L1604.5 569.2L1600.5 567.1L1596.1 563.5L1593.2 559.5L1591.8 555.5L1592 549.5L1594.3 544.5L1597.8 540.5L1607.2 532.5L1608.6 530.5L1609.1 528.5L1606.7 511.5L1606.6 493.5L1605.7 479.5L1606.2 472.5L1608.6 465.5L1612.5 459.9L1617.5 455.8L1633.2 448.5L1649.5 438.2L1660.5 433.3L1671.5 430.3L1681.5 429.2L1690.5 429.8L1698.5 432.4L1701.5 434.3L1703.8 436.5L1706.1 441.5L1706.2 444.5L1705.6 447.5L1703.9 451.5L1701.9 454.5L1697.2 459.5L1691.5 463.9L1683.5 468.7L1664.5 478.5L1662 480.5L1660.2 483.5L1660.4 485.5L1661.4 486.5L1666.5 489.6L1670.5 493.6L1673.3 498.5L1675 503.5L1676.2 510.5L1676.3 518.5L1675 526.5L1672.8 532.5L1669.5 537.3L1665.5 539.8L1663.5 540.1L1660.7 539.5L1656.9 536.5L1653.3 529.5L1650.7 519.5L1650.2 512.5L1651.4 499.5L1651 496.5L1649.5 495.3L1647.5 495.7L1645.5 496.9L1642.5 500.4L1641.2 503.5L1639.1 515.5L1636.1 526.5L1635.8 529.5L1637.6 533.5L1646.6 541.5L1649 544.5L1650.5 548.5L1650.4 553.5L1647.9 559.5L1643.4 564.5L1636.5 568.9L1628.5 571.6ZM1627.5 570.7L1621.5 571.4L1615.5 571.2L1609.5 569.9L1604.5 568L1600.5 565.7L1597 562.5L1594.3 558.5L1593.1 554.5L1593.5 549.5L1596 544.5L1600.5 539.8L1610 532.5L1611.9 529.5L1612 526.5L1609.8 517.5L1609 511.5L1608.7 493.5L1607.6 479.5L1608.2 472.5L1610.3 466.5L1613.7 461.5L1618.5 457.4L1633.5 450.1L1648.5 440.1L1659.5 434.8L1669.5 431.8L1679.5 430.4L1688.5 430.8L1696.5 433.2L1699.5 435L1702.1 437.5L1704.2 442.5L1704.2 445.5L1703.1 449.5L1699.2 455.5L1693.5 461L1684.5 466.8L1673.5 472.1L1659.5 477.5L1656.1 479.5L1642.5 493.9L1639.2 498.5L1637.5 503.3L1635.7 515.5L1632.6 526.5L1632.3 529.5L1632.9 531.5L1634.3 533.5L1642.5 540.6L1646 544.5L1647.9 548.5L1648.2 553.5L1645.9 559.5L1641.5 564.4L1635.5 568.1L1627.5 570.7ZM1665.5 530.9L1662.5 531L1659.4 528.5L1656.9 523.5L1655.6 516.5L1655.9 509.5L1657.5 503.7L1660.5 499.3L1663.5 498.2L1666.5 499.3L1669.5 503L1671.4 508.5L1672.1 513.5L1671.8 519.5L1670.5 524.6L1668.5 528.5L1665.5 530.9ZM1627.5 569.6L1622.5 570.3L1616.5 570.2L1610.5 569.1L1605.5 567.2L1601.5 564.8L1597.9 561.5L1595.9 558.5L1594.7 554.5L1594.7 551.5L1595.5 548.5L1598.6 543.5L1603.5 539.1L1613.6 532.5L1616.1 529.5L1616 526.5L1612.5 516.5L1611.6 509.5L1611.3 494.5L1609.8 477.5L1610.4 472.5L1612.2 467.5L1615.5 462.7L1619.5 459.3L1633.5 452.2L1649.5 441L1659.5 436L1669.5 432.9L1679.5 431.7L1688.5 432.3L1695.3 434.5L1698.4 436.5L1700.3 438.5L1701.4 440.5L1702.2 443.5L1702.1 446.5L1701.2 449.5L1698.9 453.5L1696.4 456.5L1688.5 463L1679.5 468L1669.5 472L1657.6 475.5L1653.4 477.5L1650.5 480L1639.5 492.5L1636 497.5L1634.3 502.5L1632.1 516.5L1627.9 527.5L1627.7 529.5L1629.6 532.5L1639.5 540.3L1643.6 544.5L1645.7 548.5L1646.2 553.5L1644.6 558.5L1640.4 563.5L1634.5 567.3L1627.5 569.6ZM1622.5 521.6L1620.5 521.2L1618.5 519.4L1615.9 513.5L1615.1 507.5L1614.6 494.5L1612.5 481.5L1612.4 476.5L1613 472.5L1614.4 468.5L1617.2 464.5L1622.5 460.2L1635.5 453.4L1650.5 441.9L1655.5 439.1L1662.5 436.2L1672.5 433.6L1682.5 433L1690.5 434.4L1696.5 437.6L1699.4 441.5L1700 445.5L1698.7 450.5L1695.2 455.5L1687.5 462.1L1678.5 467L1668.5 470.7L1653.5 474.4L1648.5 477.5L1633 495.5L1630.8 500.5L1628.9 511.5L1627.5 516.4L1625.5 519.7L1622.5 521.6ZM1626.5 568.6L1621.5 569.2L1616.5 569L1607.5 566.7L1603.5 564.6L1600.5 562.2L1597.7 558.5L1596.6 555.5L1596.3 552.5L1597.2 548.5L1598.8 545.5L1601.5 542.5L1609.5 537.1L1619.5 533.1L1622.5 533L1625.5 533.7L1635.5 539.3L1641.3 544.5L1643.2 547.5L1644.2 550.5L1644.3 553.5L1643.6 556.5L1640.4 561.5L1634.5 565.9L1626.5 568.6ZM1624.5 496.8L1622.5 497.1L1620.5 494.7L1616.9 486.5L1615.4 479.5L1615.4 475.5L1616.5 471L1618.4 467.5L1621.5 464.3L1635.5 456.4L1645.4 447.5L1651.5 442.9L1658.5 439.2L1664.5 436.9L1674.5 434.7L1683.5 434.6L1687.5 435.3L1691.5 436.8L1694.2 438.5L1696.1 440.5L1697.6 444.5L1696.9 449.5L1693.9 454.5L1688.6 459.5L1681.5 464L1672.5 467.9L1664.5 470.1L1652.5 472.1L1648.5 473.6L1644.8 476.5L1636.5 486.3L1624.5 496.8ZM1624.5 567.7L1617.5 567.9L1611.5 566.8L1605.5 564.2L1601.1 560.5L1598.7 556.5L1598.2 551.5L1600.1 546.5L1603.8 542.5L1607.5 540L1613.5 537.2L1617.5 536.1L1621.5 535.7L1625.5 536.3L1630.5 538.3L1635.5 541.3L1639 544.5L1641.1 547.5L1642.3 551.5L1642 555.5L1640.6 558.5L1638.2 561.5L1634.5 564.3L1630.5 566.2L1624.5 567.7ZM1627.5 486.6L1625.5 486.7L1623.5 486L1621.5 484.1L1620.1 481.5L1619.4 478.5L1619.3 475.5L1621 470.5L1622.5 468.4L1625.5 465.9L1636.5 459.9L1645.9 449.5L1651.9 444.5L1657.5 441.2L1662.5 439.1L1669.5 437L1675.5 436.1L1681.5 436.1L1686.5 437L1690.5 438.7L1693.6 441.5L1695.1 445.5L1694.1 450.5L1690.6 455.5L1685.5 459.8L1678.5 463.9L1669.5 467.2L1661.5 468.8L1649.5 469.9L1645.5 470.9L1641.9 473.5L1634.5 482.6L1630.5 485.4L1627.5 486.6ZM1622.5 566.5L1615.5 566.3L1608.5 564.1L1603.4 560.5L1601.8 558.5L1600.4 555.5L1600.3 550.5L1602.5 546.2L1607.5 541.8L1613.5 539L1617.5 538.1L1621.5 537.8L1628.5 539.4L1635.5 543.6L1638.2 546.5L1639.7 549.5L1640.3 552.5L1639.9 555.5L1636.8 560.5L1633.5 563.1L1630.5 564.6L1622.5 566.5ZM1664.5 466.5L1658.5 467.1L1651.5 466.8L1646.5 465.9L1643.4 464.5L1642.3 462.5L1642.9 458.5L1645.5 453.5L1648.8 449.5L1653.5 445.5L1658.5 442.5L1664.5 440L1670.5 438.5L1676.5 437.8L1681.5 438L1686.5 439.3L1689.9 441.5L1691.9 444.5L1692.2 447.5L1690.9 451.5L1687.8 455.5L1683.5 459.1L1677.5 462.5L1671.5 464.9L1664.5 466.5ZM1629.5 475.9L1628.3 475.5L1628.4 473.5L1629.5 472.5L1631.1 472.5L1631.6 473.5L1631.2 474.5L1629.5 475.9ZM1625.5 564.6L1619.5 565.1L1614.5 564.5L1609.5 562.8L1606 560.5L1603.5 557.5L1602.2 553.5L1602.9 549.5L1604.7 546.5L1607.5 544L1611.5 541.7L1615.5 540.4L1619.5 539.8L1623.5 540L1627.5 541L1633.7 544.5L1636.4 547.5L1637.7 550.5L1638 553.5L1637.2 556.5L1635.1 559.5L1632.8 561.5L1629.5 563.3L1625.5 564.6ZM1663.5 464.6L1658.5 464.7L1653.5 464L1649.9 462.5L1648.1 460.5L1647.6 457.5L1648.4 454.5L1650.3 451.5L1653.1 448.5L1657.1 445.5L1661.5 443.1L1666.5 441.3L1671.5 440.1L1676.5 439.8L1681.5 440.3L1684.9 441.5L1687.5 443.5L1688.9 446.5L1688.7 449.5L1686.5 453.5L1683.6 456.5L1679.5 459.4L1674.5 461.8L1668.5 463.8L1663.5 464.6ZM1625.5 562.8L1620.5 563.5L1615.5 563L1611.5 561.7L1608 559.5L1605.6 556.5L1604.7 553.5L1605 550.5L1606.7 547.5L1611.5 543.8L1618.5 541.8L1625.5 542.5L1631.5 545.5L1633.6 547.5L1635.2 550.5L1635.5 553.5L1635 555.5L1634 557.5L1631.5 560L1625.5 562.8ZM1667.5 461.7L1660.5 462.1L1657 461.5L1654.5 460.4L1652.7 458.5L1652.2 456.5L1652.5 454.5L1654.1 451.5L1657 448.5L1659.9 446.5L1663.8 444.5L1668.5 443L1673.5 442.2L1677.5 442.3L1680.5 443L1683.2 444.5L1684.7 446.5L1685.1 448.5L1684.2 451.5L1682.5 453.9L1676.5 458.5L1672.5 460.3L1667.5 461.7ZM1625.5 560.6L1618.5 561.4L1614.5 560.6L1611.5 559.1L1609.5 557.5L1607.8 554.5L1607.7 551.5L1608.6 549.5L1612.5 545.9L1617.5 544.2L1623.5 544.3L1628.5 546.3L1631 548.5L1632.1 550.5L1632.3 554.5L1631.4 556.5L1629.5 558.5L1625.5 560.6ZM1667.5 458.6L1661.5 458.5L1658.5 456.8L1657.9 455.5L1658 453.5L1659.9 450.5L1664.5 447.4L1670.5 445.5L1675.5 445.6L1679.1 447.5L1679.7 450.5L1677.5 453.9L1673.5 456.7L1667.5 458.6ZM1622.5 558.5L1617.5 558.5L1613.2 556.5L1611.5 553.5L1611.7 551.5L1612.9 549.5L1616.5 547.4L1620.5 546.8L1624.5 547.6L1627.3 549.5L1628.5 551.5L1628.4 554.5L1626.5 556.8L1622.5 558.5Z" stroke="#4a4a4a" stroke-width="0.85" fill="none"/>
<path d="M184 4.4H438.7V258.7" class="box2"/>
<path d="M184 4.4V258.7H438.7" class="box"/>
<path d="M641.4 1.4H895.7V254.5" class="box2"/>
<path d="M641.4 1.4V254.5H895.7" class="box"/>
<path d="M1094 4.3H1348.6V258.6" class="box2"/>
<path d="M1094 4.3V258.6H1348.6" class="box"/>
<path d="M183 361.4H439V617" class="box2"/>
<path d="M183 361.4V617H439" class="box"/>
<path d="M634 362H890.6V617" class="box2"/>
<path d="M634 362V617H890.6" class="box"/>
<path d="M1093 361.4H1348V615" class="box2"/>
<path d="M1093 361.4V615H1348" class="box"/>
<path d="M1549 362H1806V617.6" class="box2"/>
<path d="M1549 362V617.6H1806" class="box"/>
<rect x="693.53" y="255" width="10.17" height="4" fill="#111"/><rect x="636.9" y="192.49" width="4" height="10.12" fill="#111"/>
<rect x="1146.19" y="259.1" width="10.18" height="4" fill="#111"/><rect x="1089.5" y="196.3" width="4" height="10.17" fill="#111"/>
<rect x="235.48" y="617.5" width="10.24" height="4" fill="#111"/><rect x="178.5" y="554.38" width="4" height="10.22" fill="#111"/>
<rect x="686.6" y="617.5" width="10.26" height="4" fill="#111"/><rect x="629.5" y="554.52" width="4" height="10.2" fill="#111"/>
<rect x="1145.28" y="615.5" width="10.2" height="4" fill="#111"/><rect x="1088.5" y="552.87" width="4" height="10.14" fill="#111"/>
<rect x="1601.68" y="618.1" width="10.28" height="4" fill="#111"/><rect x="1544.5" y="554.98" width="4" height="10.22" fill="#111"/>
<path d="M184 258.7v5.5M184 258.7h-5.5M193.8 258.7v3.2M184 248.92h-3.2M203.59 258.7v3.2M184 239.14h-3.2M213.39 258.7v3.2M184 229.36h-3.2M223.18 258.7v3.2M184 219.58h-3.2M232.98 258.7v5.5M184 209.8h-5.5M242.78 258.7v3.2M184 200.02h-3.2M252.57 258.7v3.2M184 190.23h-3.2M262.37 258.7v3.2M184 180.45h-3.2M272.17 258.7v3.2M184 170.67h-3.2M281.96 258.7v5.5M184 160.89h-5.5M291.76 258.7v3.2M184 151.11h-3.2M301.55 258.7v3.2M184 141.33h-3.2M311.35 258.7v3.2M184 131.55h-3.2M321.15 258.7v3.2M184 121.77h-3.2M330.94 258.7v5.5M184 111.99h-5.5M340.74 258.7v3.2M184 102.21h-3.2M350.53 258.7v3.2M184 92.43h-3.2M360.33 258.7v3.2M184 82.65h-3.2M370.13 258.7v3.2M184 72.87h-3.2M379.92 258.7v5.5M184 63.08h-5.5M389.72 258.7v3.2M184 53.3h-3.2M399.52 258.7v3.2M184 43.52h-3.2M409.31 258.7v3.2M184 33.74h-3.2M419.11 258.7v3.2M184 23.96h-3.2M428.9 258.7v5.5M184 14.18h-5.5M438.7 258.7v3.2M184 4.4h-3.2M656.66 254.5v5.5M641.4 239.31h-5.5M681.92 254.5v3.2M641.4 214.17h-3.2M696.7 254.5v3.2M641.4 199.46h-3.2M707.18 254.5v3.2M641.4 189.03h-3.2M715.31 254.5v3.2M641.4 180.93h-3.2M721.96 254.5v3.2M641.4 174.32h-3.2M727.58 254.5v3.2M641.4 168.73h-3.2M732.44 254.5v3.2M641.4 163.89h-3.2M736.74 254.5v3.2M641.4 159.61h-3.2M740.58 254.5v5.5M641.4 155.79h-5.5M760.48 254.5v3.2M641.4 135.98h-3.2M772.12 254.5v3.2M641.4 124.39h-3.2M780.38 254.5v3.2M641.4 116.17h-3.2M786.79 254.5v3.2M641.4 109.79h-3.2M792.03 254.5v3.2M641.4 104.58h-3.2M796.45 254.5v3.2M641.4 100.18h-3.2M800.29 254.5v3.2M641.4 96.36h-3.2M803.67 254.5v3.2M641.4 93h-3.2M806.7 254.5v5.5M641.4 89.98h-5.5M825.83 254.5v3.2M641.4 70.94h-3.2M837.03 254.5v3.2M641.4 59.8h-3.2M844.97 254.5v3.2M641.4 51.89h-3.2M851.13 254.5v3.2M641.4 45.76h-3.2M856.17 254.5v3.2M641.4 40.75h-3.2M860.42 254.5v3.2M641.4 36.51h-3.2M864.11 254.5v3.2M641.4 32.84h-3.2M867.36 254.5v3.2M641.4 29.61h-3.2M870.27 254.5v5.5M641.4 26.71h-5.5M889.41 254.5v3.2M641.4 7.66h-3.2M1109.28 258.6v5.5M1094 243.34h-5.5M1134.57 258.6v3.2M1094 218.08h-3.2M1149.36 258.6v3.2M1094 203.3h-3.2M1159.86 258.6v3.2M1094 192.82h-3.2M1168 258.6v3.2M1094 184.69h-3.2M1174.65 258.6v3.2M1094 178.04h-3.2M1180.28 258.6v3.2M1094 172.42h-3.2M1185.15 258.6v3.2M1094 167.56h-3.2M1189.45 258.6v3.2M1094 163.26h-3.2M1193.29 258.6v5.5M1094 159.42h-5.5M1213.22 258.6v3.2M1094 139.52h-3.2M1224.88 258.6v3.2M1094 127.88h-3.2M1233.15 258.6v3.2M1094 119.62h-3.2M1239.56 258.6v3.2M1094 113.21h-3.2M1244.8 258.6v3.2M1094 107.97h-3.2M1249.24 258.6v3.2M1094 103.55h-3.2M1253.07 258.6v3.2M1094 99.71h-3.2M1256.46 258.6v3.2M1094 96.33h-3.2M1259.49 258.6v5.5M1094 93.31h-5.5M1278.65 258.6v3.2M1094 74.17h-3.2M1289.86 258.6v3.2M1094 62.97h-3.2M1297.81 258.6v3.2M1094 55.03h-3.2M1303.98 258.6v3.2M1094 48.87h-3.2M1309.02 258.6v3.2M1094 43.83h-3.2M1313.28 258.6v3.2M1094 39.58h-3.2M1316.97 258.6v3.2M1094 35.89h-3.2M1320.23 258.6v3.2M1094 32.64h-3.2M1323.14 258.6v5.5M1094 29.73h-5.5M1342.3 258.6v3.2M1094 10.59h-3.2M198.36 617v5.5M183 601.66h-5.5M223.79 617v3.2M183 576.27h-3.2M238.67 617v3.2M183 561.42h-3.2M249.22 617v3.2M183 550.88h-3.2M257.41 617v3.2M183 542.71h-3.2M264.1 617v3.2M183 536.03h-3.2M269.75 617v3.2M183 530.38h-3.2M274.65 617v3.2M183 525.49h-3.2M278.97 617v3.2M183 521.18h-3.2M282.84 617v5.5M183 517.32h-5.5M302.88 617v3.2M183 497.31h-3.2M314.6 617v3.2M183 485.61h-3.2M322.91 617v3.2M183 477.31h-3.2M329.36 617v3.2M183 470.87h-3.2M334.63 617v3.2M183 465.6h-3.2M339.09 617v3.2M183 461.15h-3.2M342.95 617v3.2M183 457.3h-3.2M346.35 617v3.2M183 453.9h-3.2M349.4 617v5.5M183 450.86h-5.5M368.67 617v3.2M183 431.62h-3.2M379.94 617v3.2M183 420.37h-3.2M387.93 617v3.2M183 412.39h-3.2M394.13 617v3.2M183 406.2h-3.2M399.2 617v3.2M183 401.14h-3.2M403.49 617v3.2M183 396.86h-3.2M407.2 617v3.2M183 393.15h-3.2M410.47 617v3.2M183 389.88h-3.2M413.4 617v5.5M183 386.96h-5.5M432.67 617v3.2M183 367.72h-3.2M649.4 617v5.5M634 601.7h-5.5M674.89 617v3.2M634 576.37h-3.2M689.8 617v3.2M634 561.55h-3.2M700.38 617v3.2M634 551.04h-3.2M708.58 617v3.2M634 542.88h-3.2M715.29 617v3.2M634 536.22h-3.2M720.96 617v3.2M634 530.58h-3.2M725.87 617v3.2M634 525.7h-3.2M730.2 617v3.2M634 521.4h-3.2M734.07 617v5.5M634 517.55h-5.5M754.16 617v3.2M634 497.59h-3.2M765.91 617v3.2M634 485.92h-3.2M774.24 617v3.2M634 477.63h-3.2M780.71 617v3.2M634 471.21h-3.2M785.99 617v3.2M634 465.96h-3.2M790.46 617v3.2M634 461.52h-3.2M794.32 617v3.2M634 457.68h-3.2M797.74 617v3.2M634 454.28h-3.2M800.79 617v5.5M634 451.25h-5.5M820.1 617v3.2M634 432.06h-3.2M831.4 617v3.2M634 420.83h-3.2M839.41 617v3.2M634 412.87h-3.2M845.63 617v3.2M634 406.69h-3.2M850.71 617v3.2M634 401.64h-3.2M855 617v3.2M634 397.37h-3.2M858.72 617v3.2M634 393.68h-3.2M862 617v3.2M634 390.42h-3.2M864.94 617v5.5M634 387.5h-5.5M884.25 617v3.2M634 368.31h-3.2M1108.3 615v5.5M1093 599.78h-5.5M1133.63 615v3.2M1093 574.59h-3.2M1148.45 615v3.2M1093 559.85h-3.2M1158.96 615v3.2M1093 549.4h-3.2M1167.12 615v3.2M1093 541.29h-3.2M1173.78 615v3.2M1093 534.66h-3.2M1179.42 615v3.2M1093 529.06h-3.2M1184.3 615v3.2M1093 524.21h-3.2M1188.6 615v3.2M1093 519.93h-3.2M1192.45 615v5.5M1093 516.1h-5.5M1212.41 615v3.2M1093 496.25h-3.2M1224.08 615v3.2M1093 484.64h-3.2M1232.37 615v3.2M1093 476.4h-3.2M1238.79 615v3.2M1093 470.01h-3.2M1244.04 615v3.2M1093 464.79h-3.2M1248.48 615v3.2M1093 460.37h-3.2M1252.32 615v3.2M1093 456.55h-3.2M1255.72 615v3.2M1093 453.18h-3.2M1258.75 615v5.5M1093 450.16h-5.5M1277.94 615v3.2M1093 431.07h-3.2M1289.17 615v3.2M1093 419.91h-3.2M1297.13 615v3.2M1093 411.99h-3.2M1303.31 615v3.2M1093 405.85h-3.2M1308.36 615v3.2M1093 400.83h-3.2M1312.63 615v3.2M1093 396.58h-3.2M1316.32 615v3.2M1093 392.9h-3.2M1319.58 615v3.2M1093 389.66h-3.2M1322.5 615v5.5M1093 386.76h-5.5M1341.69 615v3.2M1093 367.67h-3.2M1564.42 617.6v5.5M1549 602.26h-5.5M1589.95 617.6v3.2M1549 576.87h-3.2M1604.88 617.6v3.2M1549 562.02h-3.2M1615.48 617.6v3.2M1549 551.48h-3.2M1623.7 617.6v3.2M1549 543.31h-3.2M1630.42 617.6v3.2M1549 536.63h-3.2M1636.09 617.6v3.2M1549 530.98h-3.2M1641.01 617.6v3.2M1549 526.09h-3.2M1645.35 617.6v3.2M1549 521.78h-3.2M1649.23 617.6v5.5M1549 517.92h-5.5M1669.34 617.6v3.2M1549 497.91h-3.2M1681.11 617.6v3.2M1549 486.21h-3.2M1689.46 617.6v3.2M1549 477.91h-3.2M1695.94 617.6v3.2M1549 471.47h-3.2M1701.23 617.6v3.2M1549 466.2h-3.2M1705.7 617.6v3.2M1549 461.75h-3.2M1709.57 617.6v3.2M1549 457.9h-3.2M1712.99 617.6v3.2M1549 454.5h-3.2M1716.05 617.6v5.5M1549 451.46h-5.5M1735.39 617.6v3.2M1549 432.22h-3.2M1746.71 617.6v3.2M1549 420.97h-3.2M1754.73 617.6v3.2M1549 412.99h-3.2M1760.96 617.6v3.2M1549 406.8h-3.2M1766.05 617.6v3.2M1549 401.74h-3.2M1770.35 617.6v3.2M1549 397.46h-3.2M1774.07 617.6v3.2M1549 393.75h-3.2M1777.36 617.6v3.2M1549 390.48h-3.2M1780.3 617.6v5.5M1549 387.56h-5.5M1799.64 617.6v3.2M1549 368.32h-3.2" class="tk"/>
<text transform="translate(164 112) rotate(-90)" class="flv">SSC-A</text>
<text x="299.5" y="301" class="flv">FSC-A</text>
<text transform="translate(625.7 121.5) rotate(-90)" class="flv">HLA-DR</text>
<text x="766" y="298" class="flv">CD3/CD20</text>
<text transform="translate(1071 119) rotate(-90)" class="flv">CD14</text>
<text x="1192" y="291" class="flv">CD16</text>
<text transform="translate(163 482) rotate(-90)" class="flv">HLA-DR</text>
<text x="299" y="661" class="flv">NKG-2A</text>
<text transform="translate(624 482.5) rotate(-90)" class="flv">CD14</text>
<text x="760" y="661" class="flv">CD11b</text>
<text transform="translate(1071 482) rotate(-90)" class="flv">CD123</text>
<text x="1217.8" y="660" class="flv">BDCA-1</text>
<text transform="translate(1526.6 474.6) rotate(-90)" class="flv">BDCA-1</text>
<text x="1673.5" y="661" class="flv">CD11c</text>
<path d="M232.8 78.9H414.2V257.9H232.8ZM641.4 38.6H804V254.5M1183 4.3V258.6M1094 131.4H1348.6M317 515.7H437V616H317ZM833 373L871 375.7L888.6 378.6L888.6 475.7L824 477L824 388.6ZM730 488.6L757 468.6L821.4 474L820 572.9L721.4 568.6ZM1113 368H1183V457H1113ZM1113 460L1218.6 457L1247 441.4L1293.7 448L1301.4 604.3L1108 594.9ZM1549 392.6H1740V500.4M1549 501.5H1743.4M1647 499H1743.4V602H1647Z" class="gate"/>
<path d="M641.4 170.6H804" stroke="#FF0000" stroke-width="5.2"/>
<path d="M642.6 172V254.5" stroke="#FF0000" stroke-width="1.6"/>
<text x="342.5" y="117.5" class="pc">43.8%</text>
<text x="811.4" y="47" class="pc">17.2%</text>
<text x="825.7" y="237" class="pc">7.43%</text>
<text x="1098.6" y="37" class="pc">62.0%</text>
<text x="1244.3" y="37" class="pc">10.2%</text>
<text x="1098.6" y="240" class="pc">12.7%</text>
<text x="1244.3" y="240" class="pc">15.2%</text>
<text x="343" y="598.6" class="pc">56.0%</text>
<text x="751" y="394" class="pcn">16.0%</text>
<text x="818.6" y="597" class="pcn">49.9%</text>
<text x="1189" y="421.4" class="pc">6.73%</text>
<text x="1275.7" y="530" class="pcn">93.2%</text>
<text x="1658" y="415.6" class="pc">57.5%</text>
<text x="1662" y="598" class="pc">11.7%</text>
<path d="M408.6 238H622M797 67H1076M674 251V321.4M391 321.4H708.6M391 321.4V342M708.6 321.4V342M1120 237V343M1277 555.6H1525" class="garr"/>
<path d="M638.6 238L619.6 248L619.6 228Z" fill="#8f8f8f"/>
<path d="M1093 67L1074 77L1074 57Z" fill="#8f8f8f"/>
<path d="M391 358.6L381 340L401 340Z" fill="#8f8f8f"/>
<path d="M708.6 358.6L698.6 340L718.6 340Z" fill="#8f8f8f"/>
<path d="M1120 358.6L1110 341.1L1130 341.1Z" fill="#8f8f8f"/>
<path d="M1542 555.5L1523 565.5L1523 545.5Z" fill="#8f8f8f"/>
<path d="M1061 50L1101 50M1361 68.6L1309 68.6M1361 200L1309 200M467 590L418.14 570.46M855 350L855 378M891 590L796.29 539.63M1071 385.7L1112 385.7M1632 329L1632 402M1772 621.6L1733.05 596.16" class="barr"/>
<path d="M1113 50L1094 60L1094 40Z" fill="#000"/>
<path d="M1297 68.6L1316 58.6L1316 78.6Z" fill="#000"/>
<path d="M1297 200L1316 190L1316 210Z" fill="#000"/>
<path d="M407 566L428.35 563.77L420.93 582.34Z" fill="#000"/>
<path d="M855 390L845 371L865 371Z" fill="#000"/>
<path d="M785.7 534L807.17 534.09L797.78 551.75Z" fill="#000"/>
<path d="M1124 385.7L1105 395.7L1105 375.7Z" fill="#000"/>
<path d="M1632 414L1622 395L1642 395Z" fill="#000"/>
<path d="M1723 589.6L1744.38 591.62L1733.44 608.36Z" fill="#000"/>
<text x="994" y="24.3" class="anm">Classical</text>
<text x="995" y="53" class="anm">Monocytes</text>
<text x="1433.3" y="61" class="anm">Intermediate</text>
<text x="1433.5" y="90.5" class="anm">Monocytes</text>
<text x="1438.5" y="194" class="anm">Non-Classical</text>
<text x="1438.8" y="222.5" class="anm">Monocytes</text>
<text x="524" y="598.6" class="anm">NK cells</text>
<text x="831.5" y="348.6" class="anm">M-MDSC</text>
<text x="987.5" y="389" class="anm">Plasmcytoid</text>
<text x="987.5" y="417" class="anm">DC</text>
<text x="1673.5" y="310" class="anm">BDCA-1+DC</text>
<text x="907" y="601" class="an">PMN-MDSC</text>
<text x="1770" y="651" class="an">Myeloid Dc</text>
<text x="244.25" y="736" class="tt">Classical Monocytes</text>
<path d="M100 761.5V1050.75H323.5" class="ax"/>
<text x="88" y="1060.75" class="tl">0</text>
<text x="88" y="988.69" class="tl">20</text>
<text x="88" y="916.62" class="tl">40</text>
<text x="88" y="844.56" class="tl">60</text>
<text x="88" y="772.5" class="tl">80</text>
<path d="M88.5 1050.75H100M88.5 978.69H100M88.5 906.62H100M88.5 834.56H100M88.5 762.5H100M122.5 1050.75V1062.75M167 1050.75V1062.75M255.75 1050.75V1062.75M300.75 1050.75V1062.75" class="ax"/>
<text x="122.5" y="1089.05" class="xl">D0</text>
<text x="167" y="1089.05" class="xl">D1</text>
<text x="255.75" y="1089.05" class="xl">D0</text>
<text x="300.75" y="1089.05" class="xl">D1</text>
<text transform="translate(37.5 903.62) rotate(-90)" class="yl">% HLADR+ cells</text>
<path d="M165 795V775H303V795" class="br"/>
<text x="224.4" y="777.5" class="st">**</text>
<path d="M253.75 811V798H303V811" class="br"/>
<text x="268.1" y="792.5" class="pv">p=0.056</text>
<path d="M122.5 839.97L167 892.21M122.5 845.37L167 879.6M122.5 903.02L167 811.14M122.5 906.62L167 812.94M122.5 917.43L167 897.62" stroke="#0433FF" stroke-width="1.9" fill="none"/>
<g fill="#0433FF" stroke="#000" stroke-width="1.6"><circle cx="122.5" cy="839.97" r="6.9"/><circle cx="167" cy="892.21" r="6.9"/><circle cx="122.5" cy="845.37" r="6.9"/><circle cx="167" cy="879.6" r="6.9"/><circle cx="122.5" cy="903.02" r="6.9"/><circle cx="167" cy="811.14" r="6.9"/><circle cx="122.5" cy="906.62" r="6.9"/><circle cx="167" cy="812.94" r="6.9"/><circle cx="122.5" cy="917.43" r="6.9"/><circle cx="167" cy="897.62" r="6.9"/></g>
<path d="M255.75 823.75L300.75 1023.73M255.75 854.38L300.75 931.85M255.75 897.62L300.75 935.45M255.75 912.03L300.75 1027.33" stroke="#FF2600" stroke-width="1.9" fill="none"/>
<g fill="#FF2600" stroke="#000" stroke-width="1.6"><circle cx="255.75" cy="823.75" r="6.9"/><circle cx="300.75" cy="1023.73" r="6.9"/><circle cx="255.75" cy="854.38" r="6.9"/><circle cx="300.75" cy="931.85" r="6.9"/><circle cx="255.75" cy="897.62" r="6.9"/><circle cx="300.75" cy="935.45" r="6.9"/><circle cx="255.75" cy="912.03" r="6.9"/><circle cx="300.75" cy="1027.33" r="6.9"/></g>
<text x="626.4" y="736" class="tt">Intermediate Monocytes</text>
<path d="M492.5 761.5V1050.75H716" class="ax"/>
<text x="480.5" y="1060.75" class="tl">0</text>
<text x="480.5" y="988.69" class="tl">20</text>
<text x="480.5" y="916.62" class="tl">40</text>
<text x="480.5" y="844.56" class="tl">60</text>
<text x="480.5" y="772.5" class="tl">80</text>
<path d="M481 1050.75H492.5M481 978.69H492.5M481 906.62H492.5M481 834.56H492.5M481 762.5H492.5M515 1050.75V1062.75M559.5 1050.75V1062.75M648.25 1050.75V1062.75M693.25 1050.75V1062.75" class="ax"/>
<text x="515" y="1089.05" class="xl">D0</text>
<text x="559.5" y="1089.05" class="xl">D1</text>
<text x="648.25" y="1089.05" class="xl">D0</text>
<text x="693.25" y="1089.05" class="xl">D1</text>
<text transform="translate(430 903.62) rotate(-90)" class="yl">% HLADR+ cells</text>
<path d="M515 1006.43L559.5 946.26M515 1012.56L559.5 967.52M515 1027.33L559.5 1015.08M515 1029.13L559.5 1017.96M515 1034.9L559.5 1026.75" stroke="#0433FF" stroke-width="1.9" fill="none"/>
<g fill="#0433FF" stroke="#000" stroke-width="1.6"><circle cx="515" cy="1006.43" r="6.9"/><circle cx="559.5" cy="946.26" r="6.9"/><circle cx="515" cy="1012.56" r="6.9"/><circle cx="559.5" cy="967.52" r="6.9"/><circle cx="515" cy="1027.33" r="6.9"/><circle cx="559.5" cy="1015.08" r="6.9"/><circle cx="515" cy="1029.13" r="6.9"/><circle cx="559.5" cy="1017.96" r="6.9"/><circle cx="515" cy="1034.9" r="6.9"/><circle cx="559.5" cy="1026.75" r="6.9"/></g>
<path d="M648.25 1008.74L693.25 1010.39M648.25 1015.08L693.25 829.52M648.25 1030L693.25 934.37M648.25 1033.82L693.25 953.83" stroke="#FF2600" stroke-width="1.9" fill="none"/>
<g fill="#FF2600" stroke="#000" stroke-width="1.6"><circle cx="648.25" cy="1008.74" r="6.9"/><circle cx="693.25" cy="1010.39" r="6.9"/><circle cx="648.25" cy="1015.08" r="6.9"/><circle cx="693.25" cy="829.52" r="6.9"/><circle cx="648.25" cy="1030" r="6.9"/><circle cx="693.25" cy="934.37" r="6.9"/><circle cx="648.25" cy="1033.82" r="6.9"/><circle cx="693.25" cy="953.83" r="6.9"/></g>
<text x="1023" y="736" class="tt">Non-Classical Monocytes</text>
<path d="M897 761.5V1050.75H1120.5" class="ax"/>
<text x="885" y="1060.75" class="tl">0</text>
<text x="885" y="988.69" class="tl">10</text>
<text x="885" y="916.62" class="tl">20</text>
<text x="885" y="844.56" class="tl">30</text>
<text x="885" y="772.5" class="tl">40</text>
<path d="M885.5 1050.75H897M885.5 978.69H897M885.5 906.62H897M885.5 834.56H897M885.5 762.5H897M919.5 1050.75V1062.75M964 1050.75V1062.75M1052.75 1050.75V1062.75M1097.75 1050.75V1062.75" class="ax"/>
<text x="919.5" y="1089.05" class="xl">D0</text>
<text x="964" y="1089.05" class="xl">D1</text>
<text x="1052.75" y="1089.05" class="xl">D0</text>
<text x="1097.75" y="1089.05" class="xl">D1</text>
<text transform="translate(834 903.62) rotate(-90)" class="yl">% HLADR+ cells</text>
<path d="M919.5 867.71L964 876.36M919.5 861.23L964 930.77M919.5 872.76L964 946.98M919.5 920.32L964 878.52M919.5 926.08L964 972.92" stroke="#0433FF" stroke-width="1.9" fill="none"/>
<g fill="#0433FF" stroke="#000" stroke-width="1.6"><circle cx="919.5" cy="867.71" r="6.9"/><circle cx="964" cy="876.36" r="6.9"/><circle cx="919.5" cy="861.23" r="6.9"/><circle cx="964" cy="930.77" r="6.9"/><circle cx="919.5" cy="872.76" r="6.9"/><circle cx="964" cy="946.98" r="6.9"/><circle cx="919.5" cy="920.32" r="6.9"/><circle cx="964" cy="878.52" r="6.9"/><circle cx="919.5" cy="926.08" r="6.9"/><circle cx="964" cy="972.92" r="6.9"/></g>
<path d="M1052.75 833.84L1097.75 946.26M1052.75 857.62L1097.75 907.35M1052.75 925L1097.75 949.5M1052.75 956.35L1097.75 922.48" stroke="#FF2600" stroke-width="1.9" fill="none"/>
<g fill="#FF2600" stroke="#000" stroke-width="1.6"><circle cx="1052.75" cy="833.84" r="6.9"/><circle cx="1097.75" cy="946.26" r="6.9"/><circle cx="1052.75" cy="857.62" r="6.9"/><circle cx="1097.75" cy="907.35" r="6.9"/><circle cx="1052.75" cy="925" r="6.9"/><circle cx="1097.75" cy="949.5" r="6.9"/><circle cx="1052.75" cy="956.35" r="6.9"/><circle cx="1097.75" cy="922.48" r="6.9"/></g>
<text x="1382.25" y="736" class="tt">Plasmacytoid DC</text>
<path d="M1259.5 775.25V1058.75H1478" class="ax"/>
<text x="1247.5" y="1068.75" class="tl">0.0</text>
<text x="1247.5" y="1012.25" class="tl">0.5</text>
<text x="1247.5" y="955.75" class="tl">1.0</text>
<text x="1247.5" y="899.25" class="tl">1.5</text>
<text x="1247.5" y="842.75" class="tl">2.0</text>
<text x="1247.5" y="786.25" class="tl">2.5</text>
<path d="M1248 1058.75H1259.5M1248 1002.25H1259.5M1248 945.75H1259.5M1248 889.25H1259.5M1248 832.75H1259.5M1248 776.25H1259.5M1281.25 1058.75V1070.75M1324.5 1058.75V1070.75M1412.5 1058.75V1070.75M1456.25 1058.75V1070.75" class="ax"/>
<text x="1281.25" y="1097.05" class="xl">D0</text>
<text x="1324.5" y="1097.05" class="xl">D1</text>
<text x="1412.5" y="1097.05" class="xl">D0</text>
<text x="1456.25" y="1097.05" class="xl">D1</text>
<text transform="translate(1191 914.5) rotate(-90)" class="yl">% HLADR+ cells</text>
<path d="M1323.75 783.75V763.25H1459.25V783.75" class="br"/>
<text x="1382.4" y="767.5" class="st">**</text>
<path d="M1281.25 851.28L1324.5 997.73M1281.25 957.05L1324.5 993.77M1281.25 971.17L1324.5 1012.42M1281.25 975.7L1324.5 1025.98M1281.25 1004.51L1324.5 980.78" stroke="#0433FF" stroke-width="1.9" fill="none"/>
<g fill="#0433FF" stroke="#000" stroke-width="1.6"><circle cx="1281.25" cy="851.28" r="6.9"/><circle cx="1324.5" cy="997.73" r="6.9"/><circle cx="1281.25" cy="957.05" r="6.9"/><circle cx="1324.5" cy="993.77" r="6.9"/><circle cx="1281.25" cy="971.17" r="6.9"/><circle cx="1324.5" cy="1012.42" r="6.9"/><circle cx="1281.25" cy="975.7" r="6.9"/><circle cx="1324.5" cy="1025.98" r="6.9"/><circle cx="1281.25" cy="1004.51" r="6.9"/><circle cx="1324.5" cy="980.78" r="6.9"/></g>
<path d="M1412.5 936.26L1456.25 796.25M1412.5 974L1456.25 841.23M1412.5 946.2L1456.25 953.66M1412.5 1009.03L1456.25 932.53" stroke="#FF2600" stroke-width="1.9" fill="none"/>
<g fill="#FF2600" stroke="#000" stroke-width="1.6"><circle cx="1412.5" cy="936.26" r="6.9"/><circle cx="1456.25" cy="796.25" r="6.9"/><circle cx="1412.5" cy="974" r="6.9"/><circle cx="1456.25" cy="841.23" r="6.9"/><circle cx="1412.5" cy="946.2" r="6.9"/><circle cx="1456.25" cy="953.66" r="6.9"/><circle cx="1412.5" cy="1009.03" r="6.9"/><circle cx="1456.25" cy="932.53" r="6.9"/></g>
<text x="1715.25" y="736" class="tt">BDCA-1+ DC</text>
<path d="M1613.75 764.75V1052.5H1837.25" class="ax"/>
<text x="1601.75" y="1062.5" class="tl">0</text>
<text x="1601.75" y="990.81" class="tl">5</text>
<text x="1601.75" y="919.12" class="tl">10</text>
<text x="1601.75" y="847.44" class="tl">15</text>
<text x="1601.75" y="775.75" class="tl">20</text>
<path d="M1602.25 1052.5H1613.75M1602.25 980.81H1613.75M1602.25 909.12H1613.75M1602.25 837.44H1613.75M1602.25 765.75H1613.75M1636.25 1052.5V1064.5M1680.75 1052.5V1064.5M1769.5 1052.5V1064.5M1814.5 1052.5V1064.5" class="ax"/>
<text x="1636.25" y="1090.8" class="xl">D0</text>
<text x="1680.75" y="1090.8" class="xl">D1</text>
<text x="1769.5" y="1090.8" class="xl">D0</text>
<text x="1814.5" y="1090.8" class="xl">D1</text>
<text transform="translate(1550.5 906.12) rotate(-90)" class="yl">% HLADR+ cells</text>
<path d="M1636.25 807.9L1680.75 995.15M1636.25 880.45L1680.75 975.79M1636.25 896.22L1680.75 999.31M1636.25 962.03L1680.75 989.99M1636.25 984.97L1680.75 955.44" stroke="#0433FF" stroke-width="1.9" fill="none"/>
<g fill="#0433FF" stroke="#000" stroke-width="1.6"><circle cx="1636.25" cy="807.9" r="6.9"/><circle cx="1680.75" cy="995.15" r="6.9"/><circle cx="1636.25" cy="880.45" r="6.9"/><circle cx="1680.75" cy="975.79" r="6.9"/><circle cx="1636.25" cy="896.22" r="6.9"/><circle cx="1680.75" cy="999.31" r="6.9"/><circle cx="1636.25" cy="962.03" r="6.9"/><circle cx="1680.75" cy="989.99" r="6.9"/><circle cx="1636.25" cy="984.97" r="6.9"/><circle cx="1680.75" cy="955.44" r="6.9"/></g>
<path d="M1769.5 871.27L1814.5 942.53M1769.5 892.49L1814.5 875M1769.5 948.27L1814.5 916.29M1769.5 948.27L1814.5 1014.51" stroke="#FF2600" stroke-width="1.9" fill="none"/>
<g fill="#FF2600" stroke="#000" stroke-width="1.6"><circle cx="1769.5" cy="871.27" r="6.9"/><circle cx="1814.5" cy="942.53" r="6.9"/><circle cx="1769.5" cy="892.49" r="6.9"/><circle cx="1814.5" cy="875" r="6.9"/><circle cx="1769.5" cy="948.27" r="6.9"/><circle cx="1814.5" cy="916.29" r="6.9"/><circle cx="1769.5" cy="948.27" r="6.9"/><circle cx="1814.5" cy="1014.51" r="6.9"/></g>
<text x="213" y="1155.5" class="tt">Myeloid DC</text>
<path d="M100.75 1172.75V1461.25H324.25" class="ax"/>
<text x="88.75" y="1471.25" class="tl">0</text>
<text x="88.75" y="1399.38" class="tl">2</text>
<text x="88.75" y="1327.5" class="tl">4</text>
<text x="88.75" y="1255.62" class="tl">6</text>
<text x="88.75" y="1183.75" class="tl">8</text>
<path d="M89.25 1461.25H100.75M89.25 1389.38H100.75M89.25 1317.5H100.75M89.25 1245.62H100.75M89.25 1173.75H100.75M123.25 1461.25V1473.25M167.75 1461.25V1473.25M256.5 1461.25V1473.25M301.5 1461.25V1473.25" class="ax"/>
<text x="123.25" y="1499.55" class="xl">D0</text>
<text x="167.75" y="1499.55" class="xl">D1</text>
<text x="256.5" y="1499.55" class="xl">D0</text>
<text x="301.5" y="1499.55" class="xl">D1</text>
<text transform="translate(53.75 1314.5) rotate(-90)" class="yl">% HLADR+ cells</text>
<path d="M118.75 1238.75V1218.25H255.75V1238.75" class="br"/>
<text x="186.5" y="1207.5" class="pv">p=0.061</text>
<path d="M123.25 1249.58L167.75 1373.2M123.25 1265.03L167.75 1405.19M123.25 1306.36L167.75 1382.55M123.25 1350.56L167.75 1309.23M123.25 1404.47L167.75 1409.14" stroke="#0433FF" stroke-width="1.9" fill="none"/>
<g fill="#0433FF" stroke="#000" stroke-width="1.6"><circle cx="123.25" cy="1249.58" r="6.9"/><circle cx="167.75" cy="1373.2" r="6.9"/><circle cx="123.25" cy="1265.03" r="6.9"/><circle cx="167.75" cy="1405.19" r="6.9"/><circle cx="123.25" cy="1306.36" r="6.9"/><circle cx="167.75" cy="1382.55" r="6.9"/><circle cx="123.25" cy="1350.56" r="6.9"/><circle cx="167.75" cy="1309.23" r="6.9"/><circle cx="123.25" cy="1404.47" r="6.9"/><circle cx="167.75" cy="1409.14" r="6.9"/></g>
<path d="M256.5 1362.42L301.5 1379.31M256.5 1384.7L301.5 1288.03M256.5 1400.52L301.5 1333.67M256.5 1414.53L301.5 1388.66" stroke="#FF2600" stroke-width="1.9" fill="none"/>
<g fill="#FF2600" stroke="#000" stroke-width="1.6"><circle cx="256.5" cy="1362.42" r="6.9"/><circle cx="301.5" cy="1379.31" r="6.9"/><circle cx="256.5" cy="1384.7" r="6.9"/><circle cx="301.5" cy="1288.03" r="6.9"/><circle cx="256.5" cy="1400.52" r="6.9"/><circle cx="301.5" cy="1333.67" r="6.9"/><circle cx="256.5" cy="1414.53" r="6.9"/><circle cx="301.5" cy="1388.66" r="6.9"/></g>
<text x="622.75" y="1155.5" class="tt">M-MDSC</text>
<path d="M492.5 1170.25V1458.75H716" class="ax"/>
<text x="480.5" y="1468.75" class="tl">0</text>
<text x="480.5" y="1396.88" class="tl">20</text>
<text x="480.5" y="1325" class="tl">40</text>
<text x="480.5" y="1253.12" class="tl">60</text>
<text x="480.5" y="1181.25" class="tl">80</text>
<path d="M481 1458.75H492.5M481 1386.88H492.5M481 1315H492.5M481 1243.12H492.5M481 1171.25H492.5M515 1458.75V1470.75M559.5 1458.75V1470.75M648.25 1458.75V1470.75M693.25 1458.75V1470.75" class="ax"/>
<text x="515" y="1497.05" class="xl">D0</text>
<text x="559.5" y="1497.05" class="xl">D1</text>
<text x="648.25" y="1497.05" class="xl">D0</text>
<text x="693.25" y="1497.05" class="xl">D1</text>
<text transform="translate(430 1312) rotate(-90)" class="yl">% live cells</text>
<path d="M512 1281.25V1265.75H560.5V1275.5" class="br"/>
<text x="533.1" y="1270" class="st">*</text>
<path d="M515 1396.76L559.5 1328.3M515 1420.51L559.5 1299.55M515 1432.52L559.5 1404.84M515 1436.25L559.5 1380.41M515 1444.99L559.5 1401.61" stroke="#0433FF" stroke-width="1.9" fill="none"/>
<g fill="#0433FF" stroke="#000" stroke-width="1.6"><circle cx="515" cy="1396.76" r="6.9"/><circle cx="559.5" cy="1328.3" r="6.9"/><circle cx="515" cy="1420.51" r="6.9"/><circle cx="559.5" cy="1299.55" r="6.9"/><circle cx="515" cy="1432.52" r="6.9"/><circle cx="559.5" cy="1404.84" r="6.9"/><circle cx="515" cy="1436.25" r="6.9"/><circle cx="559.5" cy="1380.41" r="6.9"/><circle cx="515" cy="1444.99" r="6.9"/><circle cx="559.5" cy="1401.61" r="6.9"/></g>
<path d="M648.25 1432.52L693.25 1189.58M648.25 1437.55L693.25 1338.36M648.25 1435.39L693.25 1368.55M648.25 1454.44L693.25 1398.02" stroke="#FF2600" stroke-width="1.9" fill="none"/>
<g fill="#FF2600" stroke="#000" stroke-width="1.6"><circle cx="648.25" cy="1432.52" r="6.9"/><circle cx="693.25" cy="1189.58" r="6.9"/><circle cx="648.25" cy="1437.55" r="6.9"/><circle cx="693.25" cy="1338.36" r="6.9"/><circle cx="648.25" cy="1435.39" r="6.9"/><circle cx="693.25" cy="1368.55" r="6.9"/><circle cx="648.25" cy="1454.44" r="6.9"/><circle cx="693.25" cy="1398.02" r="6.9"/></g>
<text x="1006.9" y="1155.5" class="tt">PMN-MDSC</text>
<path d="M897 1176V1464.5H1120.5" class="ax"/>
<text x="885" y="1474.5" class="tl">0</text>
<text x="885" y="1378.67" class="tl">5</text>
<text x="885" y="1282.83" class="tl">10</text>
<text x="885" y="1187" class="tl">15</text>
<path d="M885.5 1464.5H897M885.5 1368.67H897M885.5 1272.83H897M885.5 1177H897M919.5 1464.5V1476.5M964 1464.5V1476.5M1052.75 1464.5V1476.5M1097.75 1464.5V1476.5" class="ax"/>
<text x="919.5" y="1502.8" class="xl">D0</text>
<text x="964" y="1502.8" class="xl">D1</text>
<text x="1052.75" y="1502.8" class="xl">D0</text>
<text x="1097.75" y="1502.8" class="xl">D1</text>
<text transform="translate(833.75 1317.75) rotate(-90)" class="yl">% live cells</text>
<path d="M1051.75 1302V1286.25H1100.5V1296.25" class="br"/>
<text x="1076.75" y="1281.25" class="pv">p=0.058</text>
<path d="M919.5 1246.19L964 1328.22M919.5 1365.6L964 1416.2M919.5 1394.92L964 1376.33M919.5 1400.67L964 1422.53M919.5 1414.47L964 1426.17" stroke="#0433FF" stroke-width="1.9" fill="none"/>
<g fill="#0433FF" stroke="#000" stroke-width="1.6"><circle cx="919.5" cy="1246.19" r="6.9"/><circle cx="964" cy="1328.22" r="6.9"/><circle cx="919.5" cy="1365.6" r="6.9"/><circle cx="964" cy="1416.2" r="6.9"/><circle cx="919.5" cy="1394.92" r="6.9"/><circle cx="964" cy="1376.33" r="6.9"/><circle cx="919.5" cy="1400.67" r="6.9"/><circle cx="964" cy="1422.53" r="6.9"/><circle cx="919.5" cy="1414.47" r="6.9"/><circle cx="964" cy="1426.17" r="6.9"/></g>
<path d="M1052.75 1322.47L1097.75 1433.26M1052.75 1376.33L1097.75 1424.44M1052.75 1382.66L1097.75 1439.58M1052.75 1400.1L1097.75 1453.19" stroke="#FF2600" stroke-width="1.9" fill="none"/>
<g fill="#FF2600" stroke="#000" stroke-width="1.6"><circle cx="1052.75" cy="1322.47" r="6.9"/><circle cx="1097.75" cy="1433.26" r="6.9"/><circle cx="1052.75" cy="1376.33" r="6.9"/><circle cx="1097.75" cy="1424.44" r="6.9"/><circle cx="1052.75" cy="1382.66" r="6.9"/><circle cx="1097.75" cy="1439.58" r="6.9"/><circle cx="1052.75" cy="1400.1" r="6.9"/><circle cx="1097.75" cy="1453.19" r="6.9"/></g>
<text x="1384.4" y="1155.5" class="tt">NKG2A+ cells</text>
<path d="M1259.5 1176V1464.5H1483" class="ax"/>
<text x="1247.5" y="1474.5" class="tl">0</text>
<text x="1247.5" y="1378.67" class="tl">5</text>
<text x="1247.5" y="1282.83" class="tl">10</text>
<text x="1247.5" y="1187" class="tl">15</text>
<path d="M1248 1464.5H1259.5M1248 1368.67H1259.5M1248 1272.83H1259.5M1248 1177H1259.5M1282 1464.5V1476.5M1326.5 1464.5V1476.5M1415.25 1464.5V1476.5M1460.25 1464.5V1476.5" class="ax"/>
<text x="1282" y="1502.8" class="xl">D0</text>
<text x="1326.5" y="1502.8" class="xl">D1</text>
<text x="1415.25" y="1502.8" class="xl">D0</text>
<text x="1460.25" y="1502.8" class="xl">D1</text>
<text transform="translate(1196.25 1317.75) rotate(-90)" class="yl">% live cells</text>
<path d="M1325 1243.75V1223H1463V1243.75" class="br"/>
<text x="1384.5" y="1223.75" class="st">*</text>
<path d="M1413.75 1285V1268.75H1463V1278.75" class="br"/>
<text x="1437.5" y="1272.5" class="st">*</text>
<path d="M1282 1258.08L1326.5 1347.01M1282 1348.73L1326.5 1421.76M1282 1373.84L1326.5 1402.02M1282 1400.48L1326.5 1386.3M1282 1405.08L1326.5 1437.47" stroke="#0433FF" stroke-width="1.9" fill="none"/>
<g fill="#0433FF" stroke="#000" stroke-width="1.6"><circle cx="1282" cy="1258.08" r="6.9"/><circle cx="1326.5" cy="1347.01" r="6.9"/><circle cx="1282" cy="1348.73" r="6.9"/><circle cx="1326.5" cy="1421.76" r="6.9"/><circle cx="1282" cy="1373.84" r="6.9"/><circle cx="1326.5" cy="1402.02" r="6.9"/><circle cx="1282" cy="1400.48" r="6.9"/><circle cx="1326.5" cy="1386.3" r="6.9"/><circle cx="1282" cy="1405.08" r="6.9"/><circle cx="1326.5" cy="1437.47" r="6.9"/></g>
<path d="M1415.25 1291.81L1460.25 1454.92M1415.25 1315.58L1460.25 1451.28M1415.25 1322.47L1460.25 1457.41M1415.25 1392.05L1460.25 1427.51" stroke="#FF2600" stroke-width="1.9" fill="none"/>
<g fill="#FF2600" stroke="#000" stroke-width="1.6"><circle cx="1415.25" cy="1291.81" r="6.9"/><circle cx="1460.25" cy="1454.92" r="6.9"/><circle cx="1415.25" cy="1315.58" r="6.9"/><circle cx="1460.25" cy="1451.28" r="6.9"/><circle cx="1415.25" cy="1322.47" r="6.9"/><circle cx="1460.25" cy="1457.41" r="6.9"/><circle cx="1415.25" cy="1392.05" r="6.9"/><circle cx="1460.25" cy="1427.51" r="6.9"/></g>
<text x="265.4" y="1614" class="tt">Classical Monocytes</text>
<path d="M116.75 1689.75V1978.25H340.25" class="ax"/>
<text x="104.75" y="1988.25" class="tl">50</text>
<text x="104.75" y="1930.75" class="tl">60</text>
<text x="104.75" y="1873.25" class="tl">70</text>
<text x="104.75" y="1815.75" class="tl">80</text>
<text x="104.75" y="1758.25" class="tl">90</text>
<text x="104.75" y="1700.75" class="tl">100</text>
<path d="M105.25 1978.25H116.75M105.25 1920.75H116.75M105.25 1863.25H116.75M105.25 1805.75H116.75M105.25 1748.25H116.75M105.25 1690.75H116.75M139.25 1978.25V1990.25M183.75 1978.25V1990.25M272.5 1978.25V1990.25M317.5 1978.25V1990.25" class="ax"/>
<text x="139.25" y="2016.55" class="xl">D0</text>
<text x="183.75" y="2016.55" class="xl">D1</text>
<text x="272.5" y="2016.55" class="xl">D0</text>
<text x="317.5" y="2016.55" class="xl">D1</text>
<text transform="translate(38.75 1831.5) rotate(-90)" class="yl">% CD86+ cells</text>
<path d="M138.25 1733.75V1718.75H184.25V1740" class="br"/>
<text x="161.6" y="1723.75" class="st">*</text>
<path d="M139.25 1793.1L183.75 1783.9M139.25 1749.97L183.75 1879.35M139.25 1753.77L183.75 1894.88M139.25 1756.3L183.75 1908.1M139.25 1778.15L183.75 1940.01" stroke="#0433FF" stroke-width="1.9" fill="none"/>
<g fill="#0433FF" stroke="#000" stroke-width="1.6"><circle cx="139.25" cy="1793.1" r="6.9"/><circle cx="183.75" cy="1783.9" r="6.9"/><circle cx="139.25" cy="1749.97" r="6.9"/><circle cx="183.75" cy="1879.35" r="6.9"/><circle cx="139.25" cy="1753.77" r="6.9"/><circle cx="183.75" cy="1894.88" r="6.9"/><circle cx="139.25" cy="1756.3" r="6.9"/><circle cx="183.75" cy="1908.1" r="6.9"/><circle cx="139.25" cy="1778.15" r="6.9"/><circle cx="183.75" cy="1940.01" r="6.9"/></g>
<path d="M272.5 1713.17L317.5 1767.22M272.5 1741.35L317.5 1771.25M272.5 1772L317.5 1728.12M272.5 1773.55L317.5 1910.4" stroke="#FF2600" stroke-width="1.9" fill="none"/>
<g fill="#FF2600" stroke="#000" stroke-width="1.6"><circle cx="272.5" cy="1713.17" r="6.9"/><circle cx="317.5" cy="1767.22" r="6.9"/><circle cx="272.5" cy="1741.35" r="6.9"/><circle cx="317.5" cy="1771.25" r="6.9"/><circle cx="272.5" cy="1772" r="6.9"/><circle cx="317.5" cy="1728.12" r="6.9"/><circle cx="272.5" cy="1773.55" r="6.9"/><circle cx="317.5" cy="1910.4" r="6.9"/></g>
<text x="626.5" y="1614" class="tt">Intermediate Monocytes</text>
<path d="M493 1691V1977.5H716.5" class="ax"/>
<text x="481" y="1987.5" class="tl">40</text>
<text x="481" y="1892.33" class="tl">60</text>
<text x="481" y="1797.17" class="tl">80</text>
<text x="481" y="1702" class="tl">100</text>
<path d="M481.5 1977.5H493M481.5 1882.33H493M481.5 1787.17H493M481.5 1692H493M515.5 1977.5V1989.5M560 1977.5V1989.5M648.75 1977.5V1989.5M693.75 1977.5V1989.5" class="ax"/>
<text x="515.5" y="2015.8" class="xl">D0</text>
<text x="560" y="2015.8" class="xl">D1</text>
<text x="648.75" y="2015.8" class="xl">D0</text>
<text x="693.75" y="2015.8" class="xl">D1</text>
<text transform="translate(417.5 1831.75) rotate(-90)" class="yl">% CD86+ cells</text>
<path d="M509.25 1668.75V1648H646.75V1668.75" class="br"/>
<text x="583.1" y="1652.5" class="st">*</text>
<path d="M555.5 1697V1676.25H692.5V1697" class="br"/>
<text x="623.75" y="1680.5" class="st">**</text>
<path d="M515.5 1764.8L560 1852.83M515.5 1800.01L560 1798.59M515.5 1810.72L560 1861.87M515.5 1828.09L560 1793.83M515.5 1836.18L560 1935.15" stroke="#0433FF" stroke-width="1.9" fill="none"/>
<g fill="#0433FF" stroke="#000" stroke-width="1.6"><circle cx="515.5" cy="1764.8" r="6.9"/><circle cx="560" cy="1852.83" r="6.9"/><circle cx="515.5" cy="1800.01" r="6.9"/><circle cx="560" cy="1798.59" r="6.9"/><circle cx="515.5" cy="1810.72" r="6.9"/><circle cx="560" cy="1861.87" r="6.9"/><circle cx="515.5" cy="1828.09" r="6.9"/><circle cx="560" cy="1793.83" r="6.9"/><circle cx="515.5" cy="1836.18" r="6.9"/><circle cx="560" cy="1935.15" r="6.9"/></g>
<path d="M648.75 1744.34L693.75 1742.91M648.75 1761.71L693.75 1708.65M648.75 1766.23L693.75 1748.62M648.75 1790.5L693.75 1712.46" stroke="#FF2600" stroke-width="1.9" fill="none"/>
<g fill="#FF2600" stroke="#000" stroke-width="1.6"><circle cx="648.75" cy="1744.34" r="6.9"/><circle cx="693.75" cy="1742.91" r="6.9"/><circle cx="648.75" cy="1761.71" r="6.9"/><circle cx="693.75" cy="1708.65" r="6.9"/><circle cx="648.75" cy="1766.23" r="6.9"/><circle cx="693.75" cy="1748.62" r="6.9"/><circle cx="648.75" cy="1790.5" r="6.9"/><circle cx="693.75" cy="1712.46" r="6.9"/></g>
<text x="1046" y="1614" class="tt">Non-Classical Monocytes</text>
<path d="M897 1690.75V1977.5H1120.5" class="ax"/>
<text x="885" y="1987.5" class="tl">0</text>
<text x="885" y="1916.06" class="tl">10</text>
<text x="885" y="1844.62" class="tl">20</text>
<text x="885" y="1773.19" class="tl">30</text>
<text x="885" y="1701.75" class="tl">40</text>
<path d="M885.5 1977.5H897M885.5 1906.06H897M885.5 1834.62H897M885.5 1763.19H897M885.5 1691.75H897M919.5 1977.5V1989.5M964 1977.5V1989.5M1052.75 1977.5V1989.5M1097.75 1977.5V1989.5" class="ax"/>
<text x="919.5" y="2015.8" class="xl">D0</text>
<text x="964" y="2015.8" class="xl">D1</text>
<text x="1052.75" y="2015.8" class="xl">D0</text>
<text x="1097.75" y="2015.8" class="xl">D1</text>
<text transform="translate(833.75 1831.62) rotate(-90)" class="yl">% CD86+ cells</text>
<path d="M958.75 1727.5V1707.5H1097V1727.5" class="br"/>
<text x="1026.6" y="1697" class="pv">p=0.065</text>
<path d="M919.5 1795.33L964 1881.06M919.5 1899.63L964 1843.2M919.5 1913.21L964 1896.06M919.5 1916.99L964 1907.49M919.5 1918.92L964 1955.78" stroke="#0433FF" stroke-width="1.9" fill="none"/>
<g fill="#0433FF" stroke="#000" stroke-width="1.6"><circle cx="919.5" cy="1795.33" r="6.9"/><circle cx="964" cy="1881.06" r="6.9"/><circle cx="919.5" cy="1899.63" r="6.9"/><circle cx="964" cy="1843.2" r="6.9"/><circle cx="919.5" cy="1913.21" r="6.9"/><circle cx="964" cy="1896.06" r="6.9"/><circle cx="919.5" cy="1916.99" r="6.9"/><circle cx="964" cy="1907.49" r="6.9"/><circle cx="919.5" cy="1918.92" r="6.9"/><circle cx="964" cy="1955.78" r="6.9"/></g>
<path d="M1052.75 1731.04L1097.75 1756.04M1052.75 1761.04L1097.75 1891.78M1052.75 1849.98L1097.75 1811.05M1052.75 1891.27L1097.75 1843.2" stroke="#FF2600" stroke-width="1.9" fill="none"/>
<g fill="#FF2600" stroke="#000" stroke-width="1.6"><circle cx="1052.75" cy="1731.04" r="6.9"/><circle cx="1097.75" cy="1756.04" r="6.9"/><circle cx="1052.75" cy="1761.04" r="6.9"/><circle cx="1097.75" cy="1891.78" r="6.9"/><circle cx="1052.75" cy="1849.98" r="6.9"/><circle cx="1097.75" cy="1811.05" r="6.9"/><circle cx="1052.75" cy="1891.27" r="6.9"/><circle cx="1097.75" cy="1843.2" r="6.9"/></g>
<text x="1406" y="1614" class="tt">Plasmacytoid DC</text>
<path d="M1260 1688.5V1976.75H1483.5" class="ax"/>
<text x="1248" y="1986.75" class="tl">0</text>
<text x="1248" y="1929.3" class="tl">5</text>
<text x="1248" y="1871.85" class="tl">10</text>
<text x="1248" y="1814.4" class="tl">15</text>
<text x="1248" y="1756.95" class="tl">20</text>
<text x="1248" y="1699.5" class="tl">25</text>
<path d="M1248.5 1976.75H1260M1248.5 1919.3H1260M1248.5 1861.85H1260M1248.5 1804.4H1260M1248.5 1746.95H1260M1248.5 1689.5H1260M1282.5 1976.75V1988.75M1327 1976.75V1988.75M1415.75 1976.75V1988.75M1460.75 1976.75V1988.75" class="ax"/>
<text x="1282.5" y="2015.05" class="xl">D0</text>
<text x="1327" y="2015.05" class="xl">D1</text>
<text x="1415.75" y="2015.05" class="xl">D0</text>
<text x="1460.75" y="2015.05" class="xl">D1</text>
<text transform="translate(1200 1830.12) rotate(-90)" class="yl">% CD86+ cells</text>
<path d="M1275.5 1728.75V1713.75H1324.25V1724.5" class="br"/>
<text x="1297.1" y="1715" class="st">****</text>
<path d="M1410.5 1772.5V1757.5H1459.5V1768.75" class="br"/>
<text x="1432" y="1760" class="st">*</text>
<path d="M1282.5 1870.01L1327 1739.48M1282.5 1923.78L1327 1768.21M1282.5 1952.51L1327 1798.31M1282.5 1957.45L1327 1819.45M1282.5 1965.03L1327 1827.04" stroke="#0433FF" stroke-width="1.9" fill="none"/>
<g fill="#0433FF" stroke="#000" stroke-width="1.6"><circle cx="1282.5" cy="1870.01" r="6.9"/><circle cx="1327" cy="1739.48" r="6.9"/><circle cx="1282.5" cy="1923.78" r="6.9"/><circle cx="1327" cy="1768.21" r="6.9"/><circle cx="1282.5" cy="1952.51" r="6.9"/><circle cx="1327" cy="1798.31" r="6.9"/><circle cx="1282.5" cy="1957.45" r="6.9"/><circle cx="1327" cy="1819.45" r="6.9"/><circle cx="1282.5" cy="1965.03" r="6.9"/><circle cx="1327" cy="1827.04" r="6.9"/></g>
<path d="M1415.75 1875.75L1460.75 1825.54M1415.75 1927.46L1460.75 1793.25M1415.75 1955.03L1460.75 1838.87M1415.75 1962.5L1460.75 1846.22" stroke="#FF2600" stroke-width="1.9" fill="none"/>
<g fill="#FF2600" stroke="#000" stroke-width="1.6"><circle cx="1415.75" cy="1875.75" r="6.9"/><circle cx="1460.75" cy="1825.54" r="6.9"/><circle cx="1415.75" cy="1927.46" r="6.9"/><circle cx="1460.75" cy="1793.25" r="6.9"/><circle cx="1415.75" cy="1955.03" r="6.9"/><circle cx="1460.75" cy="1838.87" r="6.9"/><circle cx="1415.75" cy="1962.5" r="6.9"/><circle cx="1460.75" cy="1846.22" r="6.9"/></g>
<text x="1724.25" y="1614" class="tt">BDCA-1+ DC</text>
<path d="M1613.75 1687.75V1975.75H1837.25" class="ax"/>
<text x="1601.75" y="1985.75" class="tl">0</text>
<text x="1601.75" y="1914" class="tl">20</text>
<text x="1601.75" y="1842.25" class="tl">40</text>
<text x="1601.75" y="1770.5" class="tl">60</text>
<text x="1601.75" y="1698.75" class="tl">80</text>
<path d="M1602.25 1975.75H1613.75M1602.25 1904H1613.75M1602.25 1832.25H1613.75M1602.25 1760.5H1613.75M1602.25 1688.75H1613.75M1636.25 1975.75V1987.75M1680.75 1975.75V1987.75M1769.5 1975.75V1987.75M1814.5 1975.75V1987.75" class="ax"/>
<text x="1636.25" y="2014.05" class="xl">D0</text>
<text x="1680.75" y="2014.05" class="xl">D1</text>
<text x="1769.5" y="2014.05" class="xl">D0</text>
<text x="1814.5" y="2014.05" class="xl">D1</text>
<text transform="translate(1554.25 1829.25) rotate(-90)" class="yl">% CD86+ cells</text>
<path d="M1675.5 1703.25V1682.5H1813V1703.25" class="br"/>
<text x="1740.25" y="1688" class="st">**</text>
<path d="M1636.25 1826.87L1680.75 1913.69M1636.25 1908.66L1680.75 1901.13M1636.25 1915.84L1680.75 1958.24M1636.25 1930.91L1680.75 1878.17M1636.25 1953.26L1680.75 1924.45" stroke="#0433FF" stroke-width="1.9" fill="none"/>
<g fill="#0433FF" stroke="#000" stroke-width="1.6"><circle cx="1636.25" cy="1826.87" r="6.9"/><circle cx="1680.75" cy="1913.69" r="6.9"/><circle cx="1636.25" cy="1908.66" r="6.9"/><circle cx="1680.75" cy="1901.13" r="6.9"/><circle cx="1636.25" cy="1915.84" r="6.9"/><circle cx="1680.75" cy="1958.24" r="6.9"/><circle cx="1636.25" cy="1930.91" r="6.9"/><circle cx="1680.75" cy="1878.17" r="6.9"/><circle cx="1636.25" cy="1953.26" r="6.9"/><circle cx="1680.75" cy="1924.45" r="6.9"/></g>
<path d="M1769.5 1857.36L1814.5 1793.15M1769.5 1877.45L1814.5 1862.38M1769.5 1901.85L1814.5 1715.66M1769.5 1924.99L1814.5 1750.1" stroke="#FF2600" stroke-width="1.9" fill="none"/>
<g fill="#FF2600" stroke="#000" stroke-width="1.6"><circle cx="1769.5" cy="1857.36" r="6.9"/><circle cx="1814.5" cy="1793.15" r="6.9"/><circle cx="1769.5" cy="1877.45" r="6.9"/><circle cx="1814.5" cy="1862.38" r="6.9"/><circle cx="1769.5" cy="1901.85" r="6.9"/><circle cx="1814.5" cy="1715.66" r="6.9"/><circle cx="1769.5" cy="1924.99" r="6.9"/><circle cx="1814.5" cy="1750.1" r="6.9"/></g>
<text x="234" y="2076" class="tt">Myeloid DC</text>
<path d="M115.75 2134.75V2422.5H339.25" class="ax"/>
<text x="103.75" y="2432.5" class="tl">0</text>
<text x="103.75" y="2360.81" class="tl">20</text>
<text x="103.75" y="2289.12" class="tl">40</text>
<text x="103.75" y="2217.44" class="tl">60</text>
<text x="103.75" y="2145.75" class="tl">80</text>
<path d="M104.25 2422.5H115.75M104.25 2350.81H115.75M104.25 2279.12H115.75M104.25 2207.44H115.75M104.25 2135.75H115.75M138.25 2422.5V2434.5M182.75 2422.5V2434.5M271.5 2422.5V2434.5M316.5 2422.5V2434.5" class="ax"/>
<text x="138.25" y="2460.8" class="xl">D0</text>
<text x="182.75" y="2460.8" class="xl">D1</text>
<text x="271.5" y="2460.8" class="xl">D0</text>
<text x="316.5" y="2460.8" class="xl">D1</text>
<text transform="translate(56.25 2276.12) rotate(-90)" class="yl">% CD86+ cells</text>
<path d="M178 2124.5V2103.75H315.5V2124.5" class="br"/>
<text x="236.25" y="2107.5" class="st">*</text>
<path d="M135 2342.5V2327.5H184.25V2336.25" class="br"/>
<text x="158.4" y="2332.5" class="st">*</text>
<path d="M138.25 2362.64L182.75 2362.64M138.25 2370.53L182.75 2355.11M138.25 2383.07L182.75 2365.15M138.25 2395.51L182.75 2384.15M138.25 2398.84L182.75 2391.67" stroke="#0433FF" stroke-width="1.9" fill="none"/>
<g fill="#0433FF" stroke="#000" stroke-width="1.6"><circle cx="138.25" cy="2362.64" r="6.9"/><circle cx="182.75" cy="2362.64" r="6.9"/><circle cx="138.25" cy="2370.53" r="6.9"/><circle cx="182.75" cy="2355.11" r="6.9"/><circle cx="138.25" cy="2383.07" r="6.9"/><circle cx="182.75" cy="2365.15" r="6.9"/><circle cx="138.25" cy="2395.51" r="6.9"/><circle cx="182.75" cy="2384.15" r="6.9"/><circle cx="138.25" cy="2398.84" r="6.9"/><circle cx="182.75" cy="2391.67" r="6.9"/></g>
<path d="M271.5 2354.4L316.5 2156.9M271.5 2366.23L316.5 2257.98M271.5 2371.96L316.5 2265.86M271.5 2381.28L316.5 2370.89" stroke="#FF2600" stroke-width="1.9" fill="none"/>
<g fill="#FF2600" stroke="#000" stroke-width="1.6"><circle cx="271.5" cy="2354.4" r="6.9"/><circle cx="316.5" cy="2156.9" r="6.9"/><circle cx="271.5" cy="2366.23" r="6.9"/><circle cx="316.5" cy="2257.98" r="6.9"/><circle cx="271.5" cy="2371.96" r="6.9"/><circle cx="316.5" cy="2265.86" r="6.9"/><circle cx="271.5" cy="2381.28" r="6.9"/><circle cx="316.5" cy="2370.89" r="6.9"/></g>
<text x="613.1" y="2076" class="tt">M-MDSC</text>
<path d="M492.5 2135.25V2423H716" class="ax"/>
<text x="480.5" y="2433" class="tl">0</text>
<text x="480.5" y="2375.65" class="tl">20</text>
<text x="480.5" y="2318.3" class="tl">40</text>
<text x="480.5" y="2260.95" class="tl">60</text>
<text x="480.5" y="2203.6" class="tl">80</text>
<text x="480.5" y="2146.25" class="tl">100</text>
<path d="M481 2423H492.5M481 2365.65H492.5M481 2308.3H492.5M481 2250.95H492.5M481 2193.6H492.5M481 2136.25H492.5M515 2423V2435M559.5 2423V2435M648.25 2423V2435M693.25 2423V2435" class="ax"/>
<text x="515" y="2461.3" class="xl">D0</text>
<text x="559.5" y="2461.3" class="xl">D1</text>
<text x="648.25" y="2461.3" class="xl">D0</text>
<text x="693.25" y="2461.3" class="xl">D1</text>
<text transform="translate(417.5 2276.62) rotate(-90)" class="yl">% CD86+ cells</text>
<path d="M511.25 2166.25V2152.5H559.5V2162" class="br"/>
<text x="534.4" y="2142.5" class="pv">p=0.069</text>
<path d="M515 2178.12L559.5 2201.92M515 2188.73L559.5 2226.29M515 2188.73L559.5 2332.1M515 2213.39L559.5 2232.02M515 2236.9L559.5 2379.99" stroke="#0433FF" stroke-width="1.9" fill="none"/>
<g fill="#0433FF" stroke="#000" stroke-width="1.6"><circle cx="515" cy="2178.12" r="6.9"/><circle cx="559.5" cy="2201.92" r="6.9"/><circle cx="515" cy="2188.73" r="6.9"/><circle cx="559.5" cy="2226.29" r="6.9"/><circle cx="515" cy="2188.73" r="6.9"/><circle cx="559.5" cy="2332.1" r="6.9"/><circle cx="515" cy="2213.39" r="6.9"/><circle cx="559.5" cy="2232.02" r="6.9"/><circle cx="515" cy="2236.9" r="6.9"/><circle cx="559.5" cy="2379.99" r="6.9"/></g>
<path d="M648.25 2168.37L693.25 2232.88M648.25 2219.98L693.25 2313.75M648.25 2288.23L693.25 2175.82M648.25 2338.12L693.25 2413.82" stroke="#FF2600" stroke-width="1.9" fill="none"/>
<g fill="#FF2600" stroke="#000" stroke-width="1.6"><circle cx="648.25" cy="2168.37" r="6.9"/><circle cx="693.25" cy="2232.88" r="6.9"/><circle cx="648.25" cy="2219.98" r="6.9"/><circle cx="693.25" cy="2313.75" r="6.9"/><circle cx="648.25" cy="2288.23" r="6.9"/><circle cx="693.25" cy="2175.82" r="6.9"/><circle cx="648.25" cy="2338.12" r="6.9"/><circle cx="693.25" cy="2413.82" r="6.9"/></g>
<text x="1028.1" y="2076" class="tt">PMN-MDSC</text>
<path d="M905 2134V2421.25H1128.5" class="ax"/>
<text x="893" y="2431.25" class="tl">0.0</text>
<text x="893" y="2374" class="tl">0.5</text>
<text x="893" y="2316.75" class="tl">1.0</text>
<text x="893" y="2259.5" class="tl">1.5</text>
<text x="893" y="2202.25" class="tl">2.0</text>
<text x="893" y="2145" class="tl">2.5</text>
<path d="M893.5 2421.25H905M893.5 2364H905M893.5 2306.75H905M893.5 2249.5H905M893.5 2192.25H905M893.5 2135H905M927.5 2421.25V2433.25M972 2421.25V2433.25M1060.75 2421.25V2433.25M1105.75 2421.25V2433.25" class="ax"/>
<text x="927.5" y="2459.55" class="xl">D0</text>
<text x="972" y="2459.55" class="xl">D1</text>
<text x="1060.75" y="2459.55" class="xl">D0</text>
<text x="1105.75" y="2459.55" class="xl">D1</text>
<text transform="translate(837.5 2275.12) rotate(-90)" class="yl">% CD86+ cells</text>
<path d="M1052 2137.5V2122.5H1100.5V2132.5" class="br"/>
<text x="1074.4" y="2110" class="pv">p=0.062</text>
<path d="M927.5 2288.77L972 2313.62M927.5 2327.36L972 2232.32M927.5 2341.1L972 2384.61M927.5 2359.99L972 2318.77M927.5 2392.97L972 2390.34" stroke="#0433FF" stroke-width="1.9" fill="none"/>
<g fill="#0433FF" stroke="#000" stroke-width="1.6"><circle cx="927.5" cy="2288.77" r="6.9"/><circle cx="972" cy="2313.62" r="6.9"/><circle cx="927.5" cy="2327.36" r="6.9"/><circle cx="972" cy="2232.32" r="6.9"/><circle cx="927.5" cy="2341.1" r="6.9"/><circle cx="972" cy="2384.61" r="6.9"/><circle cx="927.5" cy="2359.99" r="6.9"/><circle cx="972" cy="2318.77" r="6.9"/><circle cx="927.5" cy="2392.97" r="6.9"/><circle cx="972" cy="2390.34" r="6.9"/></g>
<path d="M1060.75 2365.14L1105.75 2161.79M1060.75 2376.59L1105.75 2208.74M1060.75 2384.95L1105.75 2371.21M1060.75 2410.03L1105.75 2302.51" stroke="#FF2600" stroke-width="1.9" fill="none"/>
<g fill="#FF2600" stroke="#000" stroke-width="1.6"><circle cx="1060.75" cy="2365.14" r="6.9"/><circle cx="1105.75" cy="2161.79" r="6.9"/><circle cx="1060.75" cy="2376.59" r="6.9"/><circle cx="1105.75" cy="2208.74" r="6.9"/><circle cx="1060.75" cy="2384.95" r="6.9"/><circle cx="1105.75" cy="2371.21" r="6.9"/><circle cx="1060.75" cy="2410.03" r="6.9"/><circle cx="1105.75" cy="2302.51" r="6.9"/></g>
<text x="1399.4" y="2076" class="tt">NKG2A+ cells</text>
<path d="M1275.75 2134.75V2422.5H1499.25" class="ax"/>
<text x="1263.75" y="2432.5" class="tl">0</text>
<text x="1263.75" y="2375.15" class="tl">2</text>
<text x="1263.75" y="2317.8" class="tl">4</text>
<text x="1263.75" y="2260.45" class="tl">6</text>
<text x="1263.75" y="2203.1" class="tl">8</text>
<text x="1263.75" y="2145.75" class="tl">10</text>
<path d="M1264.25 2422.5H1275.75M1264.25 2365.15H1275.75M1264.25 2307.8H1275.75M1264.25 2250.45H1275.75M1264.25 2193.1H1275.75M1264.25 2135.75H1275.75M1298.25 2422.5V2434.5M1342.75 2422.5V2434.5M1431.5 2422.5V2434.5M1476.5 2422.5V2434.5" class="ax"/>
<text x="1298.25" y="2460.8" class="xl">D0</text>
<text x="1342.75" y="2460.8" class="xl">D1</text>
<text x="1431.5" y="2460.8" class="xl">D0</text>
<text x="1476.5" y="2460.8" class="xl">D1</text>
<text transform="translate(1215.5 2276.12) rotate(-90)" class="yl">% CD86+ cells</text>
<path d="M1426.75 2330V2315H1475.5V2326.25" class="br"/>
<text x="1451.25" y="2305" class="pv">p=0.054</text>
<path d="M1298.25 2393.82L1342.75 2171.31M1298.25 2395.26L1342.75 2337.91M1298.25 2410.46L1342.75 2399.56M1298.25 2411.03L1342.75 2410.46M1298.25 2421.07L1342.75 2415.04" stroke="#0433FF" stroke-width="1.9" fill="none"/>
<g fill="#0433FF" stroke="#000" stroke-width="1.6"><circle cx="1298.25" cy="2393.82" r="6.9"/><circle cx="1342.75" cy="2171.31" r="6.9"/><circle cx="1298.25" cy="2395.26" r="6.9"/><circle cx="1342.75" cy="2337.91" r="6.9"/><circle cx="1298.25" cy="2410.46" r="6.9"/><circle cx="1342.75" cy="2399.56" r="6.9"/><circle cx="1298.25" cy="2411.03" r="6.9"/><circle cx="1342.75" cy="2410.46" r="6.9"/><circle cx="1298.25" cy="2421.07" r="6.9"/><circle cx="1342.75" cy="2415.04" r="6.9"/></g>
<path d="M1431.5 2415.04L1476.5 2340.49M1431.5 2417.63L1476.5 2377.48M1431.5 2419.06L1476.5 2392.39M1431.5 2419.92L1476.5 2402.43" stroke="#FF2600" stroke-width="1.9" fill="none"/>
<g fill="#FF2600" stroke="#000" stroke-width="1.6"><circle cx="1431.5" cy="2415.04" r="6.9"/><circle cx="1476.5" cy="2340.49" r="6.9"/><circle cx="1431.5" cy="2417.63" r="6.9"/><circle cx="1476.5" cy="2377.48" r="6.9"/><circle cx="1431.5" cy="2419.06" r="6.9"/><circle cx="1476.5" cy="2392.39" r="6.9"/><circle cx="1431.5" cy="2419.92" r="6.9"/><circle cx="1476.5" cy="2402.43" r="6.9"/></g>
<path d="M1601.5 2247.2H1652" stroke="#0433FF" stroke-width="2.2"/>
<circle cx="1626.8" cy="2247.2" r="11.2" fill="#0433FF" stroke="#000" stroke-width="2.2"/>
<text x="1678" y="2260.2" style="font:36.6px 'Liberation Sans', Arial, Helvetica, sans-serif;fill:#000">Alum</text>
<path d="M1601.5 2311.3H1652" stroke="#FF2600" stroke-width="2.2"/>
<circle cx="1626.8" cy="2311.3" r="11.2" fill="#FF2600" stroke="#000" stroke-width="2.2"/>
<text x="1678" y="2324.3" style="font:36.6px 'Liberation Sans', Arial, Helvetica, sans-serif;fill:#000">Alum-3M052</text>
</svg></body></html>
